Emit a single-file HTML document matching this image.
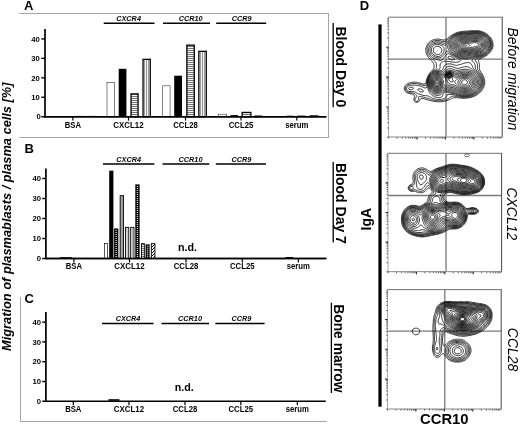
<!DOCTYPE html>
<html><head><meta charset="utf-8"><title>Figure</title>
<style>html,body{margin:0;padding:0;background:#fff;}svg{display:block;will-change:transform;}</style></head>
<body>
<svg width="520" height="425" viewBox="0 0 520 425" font-family="Liberation Sans, sans-serif" fill="#000">
<defs>
<pattern id="hs" width="2" height="2" patternUnits="userSpaceOnUse"><rect width="2" height="2" fill="#f4f4f4"/><rect y="0" width="2" height="1" fill="#777"/></pattern>
<pattern id="vs" width="2" height="2" patternUnits="userSpaceOnUse"><rect width="2" height="2" fill="#f2f2f2"/><rect x="0" width="0.8" height="2" fill="#888"/></pattern>
<pattern id="dd" width="2" height="2" patternUnits="userSpaceOnUse"><rect width="2" height="2" fill="#000"/><rect x="0.5" y="0.5" width="1" height="1" fill="#fff"/></pattern>
<pattern id="dl" width="2" height="2" patternUnits="userSpaceOnUse"><rect width="2" height="2" fill="#fff"/><rect x="0.5" y="0.5" width="1" height="1" fill="#000"/></pattern>
<pattern id="dg" width="3" height="3" patternUnits="userSpaceOnUse"><rect width="3" height="3" fill="#fff"/><path d="M0 3L3 0" stroke="#000" stroke-width="1"/></pattern>
</defs>
<rect width="520" height="425" fill="#fff"/>
<line x1="19.3" y1="13.5" x2="328.5" y2="13.5" stroke="#a6a6a6" stroke-width="1"/>
<line x1="328.5" y1="13" x2="328.5" y2="138" stroke="#a6a6a6" stroke-width="1"/>
<line x1="19.3" y1="137.5" x2="329" y2="137.5" stroke="#a6a6a6" stroke-width="1"/>
<line x1="20.5" y1="297" x2="20.5" y2="422" stroke="#a6a6a6" stroke-width="1"/>
<line x1="20" y1="421.5" x2="327" y2="421.5" stroke="#a6a6a6" stroke-width="1"/>
<text x="24" y="9.5" font-size="13" font-weight="bold" font-style="normal" text-anchor="start" >A</text>
<text x="24.6" y="153.4" font-size="13" font-weight="bold" font-style="normal" text-anchor="start" >B</text>
<text x="24.6" y="302.5" font-size="13" font-weight="bold" font-style="normal" text-anchor="start" >C</text>
<text x="359.8" y="10.3" font-size="13" font-weight="bold" font-style="normal" text-anchor="start" >D</text>
<text transform="translate(10.8,351) rotate(-90)" font-size="13" font-weight="bold" font-style="italic" text-anchor="start" textLength="268.5" lengthAdjust="spacingAndGlyphs">Migration of plasmablasts / plasma cells [%]</text>
<line x1="45" y1="29.1" x2="45" y2="117.45" stroke="#000" stroke-width="1.7"/>
<line x1="41.3" y1="116.7" x2="326.3" y2="116.7" stroke="#000" stroke-width="1.5"/>
<line x1="41.3" y1="97.25" x2="45" y2="97.25" stroke="#000" stroke-width="1.4"/>
<text x="39.8" y="99.95" font-size="7.7" font-weight="bold" font-style="normal" text-anchor="end" >10</text>
<line x1="41.3" y1="77.80000000000001" x2="45" y2="77.80000000000001" stroke="#000" stroke-width="1.4"/>
<text x="39.8" y="80.5" font-size="7.7" font-weight="bold" font-style="normal" text-anchor="end" >20</text>
<line x1="41.3" y1="58.35" x2="45" y2="58.35" stroke="#000" stroke-width="1.4"/>
<text x="39.8" y="61.05" font-size="7.7" font-weight="bold" font-style="normal" text-anchor="end" >30</text>
<line x1="41.3" y1="38.900000000000006" x2="45" y2="38.900000000000006" stroke="#000" stroke-width="1.4"/>
<text x="39.8" y="41.6" font-size="7.7" font-weight="bold" font-style="normal" text-anchor="end" >40</text>
<text x="40.8" y="119.4" font-size="7.7" font-weight="bold" font-style="normal" text-anchor="end" >0</text>
<line x1="72.9" y1="116.7" x2="72.9" y2="120.60000000000001" stroke="#000" stroke-width="1.2"/>
<text x="72.9" y="127.6" font-size="8.5" font-weight="bold" font-style="normal" text-anchor="middle" textLength="16.3" lengthAdjust="spacingAndGlyphs">BSA</text>
<line x1="128.5" y1="116.7" x2="128.5" y2="120.60000000000001" stroke="#000" stroke-width="1.2"/>
<text x="128.5" y="127.6" font-size="8.5" font-weight="bold" font-style="normal" text-anchor="middle" textLength="30.3" lengthAdjust="spacingAndGlyphs">CXCL12</text>
<line x1="185.5" y1="116.7" x2="185.5" y2="120.60000000000001" stroke="#000" stroke-width="1.2"/>
<text x="185.5" y="127.6" font-size="8.5" font-weight="bold" font-style="normal" text-anchor="middle" textLength="24.6" lengthAdjust="spacingAndGlyphs">CCL28</text>
<line x1="241" y1="116.7" x2="241" y2="120.60000000000001" stroke="#000" stroke-width="1.2"/>
<text x="241" y="127.6" font-size="8.5" font-weight="bold" font-style="normal" text-anchor="middle" textLength="24.6" lengthAdjust="spacingAndGlyphs">CCL25</text>
<line x1="296.8" y1="116.7" x2="296.8" y2="120.60000000000001" stroke="#000" stroke-width="1.2"/>
<text x="296.8" y="127.6" font-size="8.5" font-weight="bold" font-style="normal" text-anchor="middle" textLength="23.2" lengthAdjust="spacingAndGlyphs">serum</text>
<line x1="103.7" y1="23.3" x2="154.5" y2="23.3" stroke="#000" stroke-width="1.5"/>
<text x="128.6" y="21.0" font-size="7.3" font-weight="bold" font-style="italic" text-anchor="middle" >CXCR4</text>
<line x1="163" y1="23.3" x2="210" y2="23.3" stroke="#000" stroke-width="1.5"/>
<text x="190.6" y="21.0" font-size="7.3" font-weight="bold" font-style="italic" text-anchor="middle" >CCR10</text>
<line x1="216.2" y1="23.3" x2="266.2" y2="23.3" stroke="#000" stroke-width="1.5"/>
<text x="241.7" y="21.0" font-size="7.3" font-weight="bold" font-style="italic" text-anchor="middle" >CCR9</text>
<rect x="107.0" y="82.3" width="7.4" height="34.4" fill="#fff" stroke="#333" stroke-width="0.6"/>
<rect x="118.7" y="68.8" width="7.7" height="47.9" fill="#000"/>
<rect x="131.05" y="93.85000000000001" width="7.000000000000001" height="22.85" fill="url(#hs)" stroke="#000" stroke-width="1.3"/>
<rect x="143.05" y="59.35" width="7.2" height="57.35" fill="url(#vs)" stroke="#000" stroke-width="1.3"/>
<rect x="162.70000000000002" y="85.8" width="7.4" height="30.9" fill="#fff" stroke="#333" stroke-width="0.6"/>
<rect x="174.2" y="75.7" width="7.8" height="41.0" fill="#000"/>
<rect x="186.85" y="45.15" width="7.3999999999999995" height="71.55" fill="url(#hs)" stroke="#000" stroke-width="1.3"/>
<rect x="198.85" y="51.35" width="7.3999999999999995" height="65.35" fill="url(#vs)" stroke="#000" stroke-width="1.3"/>
<rect x="218.3" y="114.2" width="8.4" height="2.5" fill="#fff" stroke="#333" stroke-width="0.6"/>
<rect x="230.4" y="115.1" width="7.6" height="1.6" fill="#000"/>
<rect x="242.15" y="112.45" width="8.7" height="4.25" fill="url(#hs)" stroke="#000" stroke-width="1.3"/>
<rect x="254.95000000000002" y="116.15" width="6.7" height="0.55" fill="url(#vs)" stroke="#000" stroke-width="1.3"/>
<rect x="76" y="115.9" width="8" height="0.8" fill="#000"/>
<rect x="87" y="115.9" width="8" height="0.8" fill="#000"/>
<rect x="286.5" y="115.7" width="7" height="1.0" fill="#000"/>
<rect x="297.5" y="115.6" width="8" height="1.1" fill="#000"/>
<rect x="309.5" y="115.3" width="9" height="1.4" fill="#000"/>
<line x1="44.2" y1="116.7" x2="326.3" y2="116.7" stroke="#000" stroke-width="1.5"/>
<line x1="45.9" y1="168.5" x2="45.9" y2="259.25" stroke="#000" stroke-width="1.7"/>
<line x1="42.199999999999996" y1="258.5" x2="326.3" y2="258.5" stroke="#000" stroke-width="1.5"/>
<line x1="42.199999999999996" y1="238.5" x2="45.9" y2="238.5" stroke="#000" stroke-width="1.4"/>
<text x="41.0" y="241.2" font-size="7.7" font-weight="bold" font-style="normal" text-anchor="end" >10</text>
<line x1="42.199999999999996" y1="218.5" x2="45.9" y2="218.5" stroke="#000" stroke-width="1.4"/>
<text x="41.0" y="221.2" font-size="7.7" font-weight="bold" font-style="normal" text-anchor="end" >20</text>
<line x1="42.199999999999996" y1="198.5" x2="45.9" y2="198.5" stroke="#000" stroke-width="1.4"/>
<text x="41.0" y="201.2" font-size="7.7" font-weight="bold" font-style="normal" text-anchor="end" >30</text>
<line x1="42.199999999999996" y1="178.5" x2="45.9" y2="178.5" stroke="#000" stroke-width="1.4"/>
<text x="41.0" y="181.2" font-size="7.7" font-weight="bold" font-style="normal" text-anchor="end" >40</text>
<text x="41.0" y="261.2" font-size="7.7" font-weight="bold" font-style="normal" text-anchor="end" >0</text>
<line x1="73.9" y1="258.5" x2="73.9" y2="262.4" stroke="#000" stroke-width="1.2"/>
<text x="73.9" y="269.3" font-size="8.5" font-weight="bold" font-style="normal" text-anchor="middle" textLength="16.3" lengthAdjust="spacingAndGlyphs">BSA</text>
<line x1="129.5" y1="258.5" x2="129.5" y2="262.4" stroke="#000" stroke-width="1.2"/>
<text x="129.5" y="269.3" font-size="8.5" font-weight="bold" font-style="normal" text-anchor="middle" textLength="30.3" lengthAdjust="spacingAndGlyphs">CXCL12</text>
<line x1="186" y1="258.5" x2="186" y2="262.4" stroke="#000" stroke-width="1.2"/>
<text x="186" y="269.3" font-size="8.5" font-weight="bold" font-style="normal" text-anchor="middle" textLength="24.6" lengthAdjust="spacingAndGlyphs">CCL28</text>
<line x1="242.3" y1="258.5" x2="242.3" y2="262.4" stroke="#000" stroke-width="1.2"/>
<text x="242.3" y="269.3" font-size="8.5" font-weight="bold" font-style="normal" text-anchor="middle" textLength="24.6" lengthAdjust="spacingAndGlyphs">CCL25</text>
<line x1="298.3" y1="258.5" x2="298.3" y2="262.4" stroke="#000" stroke-width="1.2"/>
<text x="298.3" y="269.3" font-size="8.5" font-weight="bold" font-style="normal" text-anchor="middle" textLength="23.2" lengthAdjust="spacingAndGlyphs">serum</text>
<line x1="103" y1="164" x2="154.3" y2="164" stroke="#000" stroke-width="1.5"/>
<text x="128.7" y="161.7" font-size="7.3" font-weight="bold" font-style="italic" text-anchor="middle" >CXCR4</text>
<line x1="162.5" y1="164" x2="209.3" y2="164" stroke="#000" stroke-width="1.5"/>
<text x="190.5" y="161.7" font-size="7.3" font-weight="bold" font-style="italic" text-anchor="middle" >CCR10</text>
<line x1="215.8" y1="164" x2="266" y2="164" stroke="#000" stroke-width="1.5"/>
<text x="241.5" y="161.7" font-size="7.3" font-weight="bold" font-style="italic" text-anchor="middle" >CCR9</text>
<rect x="104.35" y="243.54999999999998" width="3.0" height="14.95" fill="#fff" stroke="#111" stroke-width="0.7"/>
<rect x="109.2" y="170.7" width="4.2" height="87.8" fill="#000"/>
<rect x="114.1" y="228.5" width="4.2" height="30.0" fill="#000"/>
<line x1="116.2" y1="230.0" x2="116.2" y2="258.0" stroke="#e8e8e8" stroke-width="1.3" stroke-dasharray="1 1"/>
<rect x="120.15" y="195.64999999999998" width="3.4" height="62.85" fill="#a0a0a0" stroke="#000" stroke-width="0.9"/>
<rect x="125.45" y="227.35" width="3.3000000000000003" height="31.15" fill="#fff" stroke="#000" stroke-width="0.9"/>
<line x1="127.1" y1="228.4" x2="127.1" y2="258.0" stroke="#777" stroke-width="1.1" stroke-dasharray="1.4 0.6"/>
<rect x="130.64999999999998" y="227.35" width="3.3000000000000003" height="31.15" fill="#fff" stroke="#000" stroke-width="0.9"/>
<line x1="132.3" y1="228.4" x2="132.3" y2="258.0" stroke="#555" stroke-width="1.2" stroke-dasharray="1 1"/>
<rect x="135.3" y="184.4" width="4.3" height="74.1" fill="#000"/>
<line x1="137.45" y1="185.9" x2="137.45" y2="258.0" stroke="#e8e8e8" stroke-width="1.3" stroke-dasharray="1 1"/>
<rect x="141.45" y="243.64999999999998" width="2.9" height="14.85" fill="url(#hs)" stroke="#000" stroke-width="0.9"/>
<rect x="145.6" y="244.3" width="4.0" height="14.2" fill="#000"/>
<line x1="147.6" y1="245.8" x2="147.6" y2="258.0" stroke="#e8e8e8" stroke-width="1.3" stroke-dasharray="1 1"/>
<rect x="151.35" y="243.64999999999998" width="3.6" height="14.85" fill="url(#dg)" stroke="#000" stroke-width="0.9"/>
<rect x="285.5" y="257" width="7.5" height="1.2" fill="#000"/><rect x="60" y="257.2" width="12" height="0.8" fill="#000"/>
<line x1="45.1" y1="258.5" x2="326.3" y2="258.5" stroke="#000" stroke-width="1.5"/>
<text x="187.6" y="250.7" font-size="10.7" font-weight="bold" font-style="normal" text-anchor="middle" >n.d.</text>
<line x1="45.9" y1="312.1" x2="45.9" y2="402.05" stroke="#000" stroke-width="1.7"/>
<line x1="42.199999999999996" y1="401.3" x2="325.8" y2="401.3" stroke="#000" stroke-width="1.5"/>
<line x1="42.199999999999996" y1="381.5" x2="45.9" y2="381.5" stroke="#000" stroke-width="1.4"/>
<text x="41.0" y="384.2" font-size="7.7" font-weight="bold" font-style="normal" text-anchor="end" >10</text>
<line x1="42.199999999999996" y1="361.7" x2="45.9" y2="361.7" stroke="#000" stroke-width="1.4"/>
<text x="41.0" y="364.4" font-size="7.7" font-weight="bold" font-style="normal" text-anchor="end" >20</text>
<line x1="42.199999999999996" y1="341.90000000000003" x2="45.9" y2="341.90000000000003" stroke="#000" stroke-width="1.4"/>
<text x="41.0" y="344.6" font-size="7.7" font-weight="bold" font-style="normal" text-anchor="end" >30</text>
<line x1="42.199999999999996" y1="322.1" x2="45.9" y2="322.1" stroke="#000" stroke-width="1.4"/>
<text x="41.0" y="324.8" font-size="7.7" font-weight="bold" font-style="normal" text-anchor="end" >40</text>
<text x="41.0" y="404.0" font-size="7.7" font-weight="bold" font-style="normal" text-anchor="end" >0</text>
<line x1="73.3" y1="401.3" x2="73.3" y2="405.2" stroke="#000" stroke-width="1.2"/>
<text x="73.3" y="412" font-size="8.5" font-weight="bold" font-style="normal" text-anchor="middle" textLength="16.3" lengthAdjust="spacingAndGlyphs">BSA</text>
<line x1="129" y1="401.3" x2="129" y2="405.2" stroke="#000" stroke-width="1.2"/>
<text x="129" y="412" font-size="8.5" font-weight="bold" font-style="normal" text-anchor="middle" textLength="30.3" lengthAdjust="spacingAndGlyphs">CXCL12</text>
<line x1="185" y1="401.3" x2="185" y2="405.2" stroke="#000" stroke-width="1.2"/>
<text x="185" y="412" font-size="8.5" font-weight="bold" font-style="normal" text-anchor="middle" textLength="24.6" lengthAdjust="spacingAndGlyphs">CCL28</text>
<line x1="240.8" y1="401.3" x2="240.8" y2="405.2" stroke="#000" stroke-width="1.2"/>
<text x="240.8" y="412" font-size="8.5" font-weight="bold" font-style="normal" text-anchor="middle" textLength="24.6" lengthAdjust="spacingAndGlyphs">CCL25</text>
<line x1="297.3" y1="401.3" x2="297.3" y2="405.2" stroke="#000" stroke-width="1.2"/>
<text x="297.3" y="412" font-size="8.5" font-weight="bold" font-style="normal" text-anchor="middle" textLength="23.2" lengthAdjust="spacingAndGlyphs">serum</text>
<line x1="102" y1="323.5" x2="153.5" y2="323.5" stroke="#000" stroke-width="1.5"/>
<text x="128" y="321.2" font-size="7.3" font-weight="bold" font-style="italic" text-anchor="middle" >CXCR4</text>
<line x1="161.5" y1="323.5" x2="209" y2="323.5" stroke="#000" stroke-width="1.5"/>
<text x="190" y="321.2" font-size="7.3" font-weight="bold" font-style="italic" text-anchor="middle" >CCR10</text>
<line x1="215.4" y1="323.5" x2="264.6" y2="323.5" stroke="#000" stroke-width="1.5"/>
<text x="241.4" y="321.2" font-size="7.3" font-weight="bold" font-style="italic" text-anchor="middle" >CCR9</text>
<rect x="108.5" y="399.2" width="11" height="1.6" fill="#000"/>
<text x="184.2" y="390.6" font-size="10.7" font-weight="bold" font-style="normal" text-anchor="middle" >n.d.</text>
<text transform="translate(335.8,26.5) rotate(90)" font-size="14" font-weight="bold" font-style="normal" text-anchor="start" >Blood Day 0</text>
<line x1="333.2" y1="23" x2="333.2" y2="107.3" stroke="#000" stroke-width="1.3"/>
<text transform="translate(335.8,163) rotate(90)" font-size="14" font-weight="bold" font-style="normal" text-anchor="start" >Blood Day 7</text>
<line x1="333.2" y1="162" x2="333.2" y2="242.5" stroke="#000" stroke-width="1.3"/>
<text transform="translate(334.3,304.3) rotate(90)" font-size="13.8" font-weight="bold" font-style="normal" text-anchor="start" >Bone marrow</text>
<line x1="331.4" y1="302.7" x2="331.4" y2="393" stroke="#000" stroke-width="1.3"/>
<text transform="translate(371,230.5) rotate(-90)" font-size="14" font-weight="bold" font-style="normal" text-anchor="start" >IgA</text>
<rect x="378.4" y="24.4" width="3.2" height="382.3" fill="#000"/>
<text x="444.3" y="423.9" font-size="14.8" font-weight="bold" font-style="normal" text-anchor="middle" >CCR10</text>
<text transform="translate(507.8,27.5) rotate(90)" font-size="14" font-weight="normal" font-style="italic" text-anchor="start" >Before migration</text>
<text transform="translate(507.3,187.4) rotate(90)" font-size="14" font-weight="normal" font-style="italic" text-anchor="start" >CXCL12</text>
<text transform="translate(508,327.8) rotate(90)" font-size="14" font-weight="normal" font-style="italic" text-anchor="start" >CCL28</text>
<line x1="446" y1="17.2" x2="446" y2="137" stroke="#787878" stroke-width="1.3"/>
<line x1="388.6" y1="59.2" x2="502.2" y2="59.2" stroke="#787878" stroke-width="1.3"/>
<line x1="388.1" y1="17.2" x2="502.7" y2="17.2" stroke="#707070" stroke-width="1"/>
<line x1="502.2" y1="17.2" x2="502.2" y2="137.5" stroke="#484848" stroke-width="1"/>
<line x1="388.1" y1="137" x2="502.2" y2="137" stroke="#888" stroke-width="1"/>
<line x1="388.6" y1="17.2" x2="388.6" y2="137" stroke="#a8a8a8" stroke-width="1"/>
<path d="M388.6 137v1.6M388.6 137.0h-1.5M397.1 137v1.6M388.6 128.0h-1.5M402.2 137v1.6M388.6 122.7h-1.5M405.7 137v1.6M388.6 119.0h-1.5M408.5 137v1.6M388.6 116.1h-1.5M410.7 137v1.6M388.6 113.7h-1.5M412.6 137v1.6M388.6 111.7h-1.5M414.2 137v1.6M388.6 110.0h-1.5M415.7 137v1.6M388.6 108.4h-1.5M425.5 137v1.6M388.6 98.0h-1.5M430.6 137v1.6M388.6 92.8h-1.5M434.1 137v1.6M388.6 89.0h-1.5M436.9 137v1.6M388.6 86.1h-1.5M439.1 137v1.6M388.6 83.7h-1.5M441.0 137v1.6M388.6 81.7h-1.5M442.6 137v1.6M388.6 80.0h-1.5M444.1 137v1.6M388.6 78.5h-1.5M453.9 137v1.6M388.6 68.1h-1.5M459.0 137v1.6M388.6 62.8h-1.5M462.5 137v1.6M388.6 59.1h-1.5M465.3 137v1.6M388.6 56.2h-1.5M467.5 137v1.6M388.6 53.8h-1.5M469.4 137v1.6M388.6 51.8h-1.5M471.0 137v1.6M388.6 50.1h-1.5M472.5 137v1.6M388.6 48.5h-1.5M482.3 137v1.6M388.6 38.1h-1.5M487.4 137v1.6M388.6 32.9h-1.5M490.9 137v1.6M388.6 29.1h-1.5M493.7 137v1.6M388.6 26.2h-1.5M495.9 137v1.6M388.6 23.8h-1.5M497.8 137v1.6M388.6 21.8h-1.5M499.4 137v1.6M388.6 20.1h-1.5M500.9 137v1.6M388.6 18.6h-1.5" stroke="#222" stroke-width="0.65" fill="none"/>
<path d="M417.0 137v2.6M388.6 107.0h-2.4M445.4 137v2.6M388.6 77.1h-2.4M473.8 137v2.6M388.6 47.2h-2.4" stroke="#222" stroke-width="1.1" fill="none"/>
<path d="M473.8 30.7L474.6 30.7L475.6 30.7L476.6 30.7L477.1 30.7L478.1 30.8L479.1 30.9L480.1 31.1L480.6 31.2L481.6 31.5L482.3 31.7L483.1 32.0L483.6 32.2L484.6 32.7L485.1 33.0L485.6 33.3L486.3 33.7L487.0 34.2L487.6 34.6L488.1 35.0L488.6 35.4L489.1 35.9L489.6 36.4L490.1 37.0L490.6 37.6L491.0 38.2L491.3 38.7L491.6 39.2L492.1 40.2L492.3 40.7L492.6 41.7L492.7 42.2L492.9 43.2L493.0 44.2L493.1 45.2L493.0 46.2L492.8 47.2L492.6 48.0L492.4 48.7L492.1 49.3L491.6 50.2L491.3 50.7L491.0 51.2L490.6 51.7L490.1 52.3L489.6 52.9L489.1 53.4L488.6 53.9L488.1 54.3L487.6 54.7L487.0 55.2L486.3 55.7L485.6 56.1L485.1 56.4L484.6 56.7L483.6 57.2L483.1 57.4L482.5 57.7L481.6 58.1L481.1 58.3L480.4 58.7L479.6 59.2L479.1 59.5L478.6 60.1L478.5 60.7L478.6 61.4L478.9 62.2L479.1 62.8L479.3 63.7L479.5 64.7L479.5 65.7L479.4 66.7L479.4 67.7L479.4 68.7L479.6 69.7L479.8 70.2L480.1 70.8L480.6 71.7L481.0 72.2L481.3 72.7L481.6 73.2L482.1 73.9L482.6 74.7L482.9 75.2L483.1 75.7L483.6 76.7L483.8 77.2L484.1 78.1L484.3 78.7L484.5 79.7L484.6 80.3L484.7 81.2L484.8 82.2L484.7 83.2L484.6 84.0L484.5 84.7L484.2 85.7L484.1 86.2L483.7 87.2L483.5 87.7L483.1 88.4L482.6 89.2L482.3 89.7L482.0 90.2L481.6 90.7L481.1 91.4L480.6 91.9L480.1 92.4L479.6 92.9L479.1 93.3L478.6 93.7L477.9 94.2L477.2 94.7L476.6 95.1L476.1 95.4L475.4 95.7L474.6 96.1L474.1 96.3L473.1 96.7L472.6 96.9L471.7 97.2L471.1 97.4L470.1 97.6L469.6 97.7L468.6 97.9L467.6 98.0L466.6 98.1L465.8 98.2L465.1 98.2L464.1 98.3L463.1 98.3L462.1 98.2L461.5 98.2L460.6 98.1L459.6 98.0L458.6 97.9L457.6 97.8L456.9 97.7L456.1 97.6L455.1 97.6L454.1 97.7L453.6 97.8L452.6 98.1L452.1 98.4L451.5 98.7L450.6 99.1L450.1 99.4L449.4 99.7L448.6 100.0L448.1 100.2L447.1 100.5L446.6 100.7L445.6 101.0L444.6 101.2L444.1 101.3L443.1 101.5L442.1 101.6L441.4 101.7L440.6 101.8L439.6 101.8L438.6 101.8L437.6 101.7L437.1 101.7L436.1 101.6L435.1 101.5L434.1 101.4L433.1 101.2L432.6 101.1L431.6 100.9L430.7 100.7L430.1 100.5L429.1 100.3L428.6 100.1L427.6 99.9L427.1 99.7L426.1 99.4L425.6 99.2L424.6 98.9L423.7 98.7L423.1 98.6L422.1 98.4L421.1 98.5L420.6 98.8L420.1 99.5L419.8 100.2L419.5 100.7L419.1 101.2L418.6 101.7L417.8 102.2L417.1 102.4L416.1 102.4L415.5 102.2L414.8 101.7L414.4 101.2L414.1 100.6L413.9 99.7L414.0 98.7L414.1 98.2L414.4 97.2L414.6 96.2L414.1 95.2L413.6 94.8L413.1 94.5L412.4 94.2L411.6 94.0L410.6 93.8L410.1 93.7L409.1 93.5L408.2 93.2L407.6 93.0L407.0 92.7L406.1 92.2L405.6 91.7L405.1 91.2L404.8 90.7L404.6 90.2L404.3 89.2L404.2 88.2L404.4 87.2L404.6 86.7L405.1 85.8L405.6 85.2L406.1 84.7L406.6 84.3L407.1 83.9L407.6 83.7L408.6 83.2L409.1 83.0L410.1 82.7L410.6 82.6L411.6 82.4L412.6 82.2L413.1 82.2L414.1 82.1L415.1 82.1L415.8 82.2L416.6 82.3L417.6 82.5L418.4 82.7L419.1 82.9L420.1 83.1L420.6 83.3L421.6 83.5L422.1 83.7L423.1 84.0L424.1 84.1L425.1 83.8L425.6 83.2L425.8 82.7L426.1 81.9L426.2 81.2L426.5 80.2L426.6 79.7L426.9 78.7L427.1 78.2L427.5 77.2L427.7 76.7L428.1 75.8L428.4 75.2L428.7 74.7L429.1 74.0L429.6 73.3L430.1 72.7L430.5 72.2L430.9 71.7L431.4 71.2L431.9 70.7L432.3 70.2L432.8 69.7L433.2 69.2L433.6 68.6L433.9 67.7L434.1 66.7L434.0 65.7L433.9 64.7L433.6 63.8L433.3 63.2L433.0 62.7L432.6 62.1L432.1 61.5L431.6 60.9L431.1 60.4L430.6 59.8L430.1 59.3L429.6 58.7L429.1 58.2L428.7 57.7L428.3 57.2L427.9 56.7L427.6 56.2L427.1 55.3L426.8 54.7L426.6 54.1L426.3 53.2L426.1 52.4L425.9 51.7L425.8 50.7L425.8 49.7L425.8 48.7L426.0 47.7L426.2 47.2L426.6 46.2L426.8 45.7L427.1 45.0L427.6 44.2L427.9 43.7L428.3 43.2L428.7 42.7L429.3 42.2L429.9 41.7L430.5 41.2L431.1 40.8L431.6 40.5L432.3 40.2L433.1 39.9L433.9 39.7L434.6 39.5L435.6 39.3L436.4 39.2L437.1 39.1L438.1 39.1L439.1 39.2L439.6 39.3L440.6 39.5L441.6 39.7L442.1 39.8L443.1 40.0L444.1 40.0L445.1 39.8L445.6 39.7L446.5 39.2L447.1 38.8L447.6 38.4L448.1 38.0L448.6 37.5L449.1 37.1L449.6 36.7L450.2 36.2L451.0 35.7L451.6 35.3L452.1 35.0L452.6 34.7L453.5 34.2L454.1 33.8L454.6 33.6L455.5 33.2L456.1 32.9L456.7 32.7L457.6 32.4L458.3 32.2L459.1 32.0L460.1 31.8L461.0 31.7L461.6 31.6L462.6 31.4L463.6 31.3L464.6 31.2L465.2 31.2L466.1 31.1L467.1 31.1L468.1 31.0L469.1 30.9L470.1 30.8L471.1 30.8L472.1 30.8L473.1 30.7L473.8 30.7ZM469.1 31.7L470.1 31.6L471.1 31.6L472.1 31.5L473.1 31.4L474.1 31.4L475.1 31.4L476.1 31.3L477.1 31.4L478.1 31.4L479.1 31.6L479.6 31.7L480.6 31.9L481.6 32.2L482.1 32.4L482.9 32.7L483.6 33.0L484.1 33.2L484.9 33.7L485.6 34.1L486.1 34.4L486.6 34.8L487.2 35.2L487.8 35.7L488.3 36.2L488.8 36.7L489.3 37.2L489.7 37.7L490.1 38.2L490.6 39.0L491.0 39.7L491.2 40.2L491.6 41.2L491.7 41.7L491.9 42.7L492.1 43.7L492.2 44.2L492.2 45.2L492.1 46.2L492.0 46.7L491.8 47.7L491.6 48.3L491.2 49.2L491.0 49.7L490.6 50.3L490.1 51.0L489.6 51.7L489.2 52.2L488.7 52.7L488.2 53.2L487.6 53.7L487.1 54.1L486.6 54.5L486.1 54.9L485.6 55.2L484.8 55.7L484.1 56.1L483.6 56.3L482.7 56.7L482.1 57.0L481.4 57.2L480.6 57.5L480.0 57.7L479.1 58.0L478.5 58.2L477.6 58.5L477.1 58.7L476.1 59.2L475.6 59.7L475.4 60.2L475.6 60.8L476.1 61.7L476.4 62.2L476.7 62.7L477.1 63.4L477.4 64.2L477.5 65.2L477.5 66.2L477.4 67.2L477.4 68.2L477.6 69.2L477.8 69.7L478.1 70.3L478.6 71.0L479.1 71.6L479.6 72.2L480.0 72.7L480.4 73.2L480.7 73.7L481.1 74.2L481.6 75.0L482.0 75.7L482.3 76.2L482.6 76.9L482.9 77.7L483.1 78.2L483.4 79.2L483.6 80.2L483.7 80.7L483.7 81.7L483.7 82.7L483.6 83.7L483.6 84.2L483.3 85.2L483.1 85.9L482.8 86.7L482.6 87.2L482.1 88.1L481.7 88.7L481.4 89.2L481.1 89.7L480.6 90.4L480.1 91.0L479.6 91.6L479.1 92.1L478.6 92.5L478.1 93.0L477.6 93.3L477.1 93.7L476.3 94.2L475.6 94.6L475.1 94.9L474.4 95.2L473.6 95.6L473.1 95.8L472.1 96.2L471.6 96.4L470.6 96.7L470.1 96.8L469.1 97.0L468.1 97.2L467.6 97.2L466.6 97.3L465.6 97.4L464.6 97.5L463.6 97.5L462.6 97.4L461.6 97.4L460.6 97.3L460.1 97.2L459.1 97.0L458.1 96.9L457.4 96.7L456.6 96.5L455.6 96.3L455.0 96.2L454.1 96.1L453.1 96.1L452.5 96.2L451.6 96.4L451.0 96.7L450.2 97.2L449.6 97.7L449.1 98.0L448.6 98.4L448.0 98.7L447.1 99.2L446.6 99.4L445.8 99.7L445.1 99.9L444.1 100.2L443.6 100.3L442.6 100.5L441.6 100.6L441.1 100.7L440.1 100.8L439.1 100.8L438.1 100.7L437.6 100.7L436.6 100.6L435.6 100.5L434.6 100.3L433.9 100.2L433.1 100.0L432.1 99.8L431.6 99.7L430.6 99.3L430.1 99.2L429.1 98.8L428.6 98.7L427.6 98.3L427.1 98.2L426.1 97.8L425.6 97.7L424.6 97.5L423.6 97.2L423.1 97.1L422.1 96.8L421.6 96.7L420.6 96.5L419.6 96.5L418.9 96.7L418.5 97.2L418.6 98.0L418.7 98.7L418.6 99.5L418.4 100.2L418.1 100.7L417.4 101.2L416.6 101.4L415.9 101.2L415.4 100.7L415.1 100.2L415.0 99.2L415.2 98.7L415.6 97.9L416.1 97.3L416.6 96.8L416.9 96.2L416.6 95.5L416.1 94.9L415.6 94.4L415.1 94.0L414.5 93.7L413.6 93.3L413.1 93.1L412.1 93.0L411.1 92.8L410.1 92.7L409.6 92.6L408.6 92.4L408.1 92.2L407.1 91.7L406.6 91.3L406.1 90.8L405.7 90.2L405.5 89.7L405.3 88.7L405.4 87.7L405.6 87.1L406.1 86.3L406.6 85.7L407.1 85.3L407.6 85.0L408.1 84.7L409.1 84.3L409.6 84.1L410.6 83.9L411.6 83.7L412.1 83.6L413.1 83.5L414.1 83.5L415.1 83.5L416.1 83.6L416.9 83.7L417.6 83.8L418.6 84.1L419.1 84.2L420.1 84.4L421.1 84.7L421.6 84.9L422.6 85.2L423.1 85.4L424.1 85.6L425.1 85.6L425.7 85.2L426.1 84.5L426.3 83.7L426.6 82.7L426.7 82.2L426.8 81.2L427.0 80.2L427.2 79.7L427.4 78.7L427.6 78.2L428.0 77.2L428.2 76.7L428.6 76.0L429.0 75.2L429.3 74.7L429.7 74.2L430.1 73.6L430.6 73.0L431.1 72.5L431.6 72.0L432.1 71.5L432.6 71.1L433.2 70.7L433.9 70.2L434.5 69.7L435.1 69.3L435.6 68.8L436.1 68.3L436.4 67.7L436.5 66.7L436.5 65.7L436.4 64.7L436.3 63.7L436.1 63.0L435.7 62.2L435.4 61.7L434.9 61.2L434.3 60.7L433.6 60.2L433.1 59.9L432.6 59.5L432.1 59.1L431.6 58.7L431.0 58.2L430.5 57.7L430.1 57.2L429.6 56.7L429.1 56.1L428.6 55.3L428.3 54.7L428.0 54.2L427.6 53.2L427.5 52.7L427.2 51.7L427.1 50.7L427.1 50.2L427.1 49.7L427.2 48.7L427.4 47.7L427.6 47.2L428.0 46.2L428.2 45.7L428.6 45.0L429.1 44.2L429.5 43.7L430.1 43.2L430.6 42.7L431.1 42.3L431.6 42.0L432.1 41.7L433.1 41.2L433.6 41.1L434.6 40.8L435.1 40.7L436.1 40.5L437.1 40.4L438.1 40.4L439.1 40.5L439.9 40.7L440.6 40.9L441.6 41.1L442.1 41.2L443.1 41.4L444.1 41.5L445.1 41.4L445.6 41.2L446.4 40.7L447.1 40.2L447.6 39.7L448.1 39.2L448.6 38.7L449.1 38.2L449.6 37.8L450.1 37.3L450.6 36.9L451.1 36.5L451.6 36.2L452.4 35.7L453.1 35.2L453.6 34.9L454.1 34.7L455.0 34.2L455.6 33.9L456.1 33.7L457.1 33.3L457.6 33.1L458.6 32.8L459.3 32.7L460.1 32.6L461.1 32.4L462.1 32.2L462.6 32.2L463.6 32.0L464.6 32.0L465.6 31.9L466.6 31.9L467.6 31.8L468.6 31.7L469.1 31.7ZM449.1 56.2L448.6 56.4L448.1 57.1L448.1 57.7L448.3 58.2L448.9 58.7L449.6 59.0L450.1 59.2L451.1 59.5L451.7 59.7L452.6 59.8L453.6 59.8L454.1 59.7L454.7 59.2L454.6 58.7L454.0 58.2L453.3 57.7L452.6 57.4L452.1 57.1L451.3 56.7L450.6 56.4L449.7 56.2L449.1 56.2ZM472.5 32.2L473.1 32.2L474.1 32.1L475.1 32.0L476.1 32.0L477.1 32.0L478.1 32.1L478.7 32.2L479.6 32.4L480.6 32.6L481.1 32.7L482.1 33.1L482.6 33.3L483.5 33.7L484.1 34.0L484.6 34.3L485.3 34.7L486.0 35.2L486.6 35.6L487.1 36.0L487.6 36.5L488.1 36.9L488.6 37.5L489.1 38.1L489.5 38.7L489.8 39.2L490.1 39.7L490.6 40.7L490.7 41.2L491.0 42.2L491.1 42.7L491.3 43.7L491.4 44.7L491.3 45.7L491.2 46.7L491.1 47.2L490.8 48.2L490.6 48.7L490.1 49.6L489.7 50.2L489.4 50.7L489.0 51.2L488.6 51.7L488.1 52.2L487.6 52.7L487.1 53.2L486.5 53.7L485.8 54.2L485.1 54.6L484.6 54.9L484.1 55.2L483.1 55.7L482.6 55.9L481.9 56.2L481.1 56.5L480.3 56.7L479.6 56.9L478.6 57.2L478.1 57.3L477.1 57.5L476.4 57.7L475.6 57.9L474.6 58.2L474.1 58.4L473.4 58.7L472.6 59.2L472.2 59.7L472.0 60.2L472.2 60.7L472.6 61.4L473.1 62.0L473.6 62.5L474.1 63.0L474.6 63.7L474.9 64.2L475.1 64.9L475.2 65.7L475.3 66.7L475.4 67.7L475.6 68.7L475.8 69.2L476.1 69.8L476.6 70.5L477.1 71.1L477.6 71.6L478.1 72.1L478.6 72.6L479.1 73.2L479.5 73.7L479.9 74.2L480.3 74.7L480.6 75.2L481.1 76.0L481.5 76.7L481.7 77.2L482.1 78.2L482.3 78.7L482.5 79.7L482.6 80.2L482.8 81.2L482.8 82.2L482.7 83.2L482.6 83.9L482.4 84.7L482.1 85.7L481.9 86.2L481.6 87.0L481.2 87.7L480.9 88.2L480.6 88.7L480.1 89.4L479.6 90.1L479.2 90.7L478.7 91.2L478.2 91.7L477.6 92.2L477.1 92.6L476.6 93.0L476.1 93.4L475.5 93.7L474.6 94.2L474.1 94.5L473.6 94.7L472.6 95.2L472.1 95.4L471.2 95.7L470.6 95.9L469.6 96.1L469.1 96.2L468.1 96.4L467.1 96.5L466.1 96.6L465.1 96.6L464.1 96.7L463.1 96.6L462.1 96.6L461.1 96.5L460.1 96.3L459.4 96.2L458.6 96.0L457.6 95.8L457.1 95.6L456.1 95.3L455.6 95.2L454.6 94.9L453.8 94.7L453.1 94.6L452.1 94.5L451.1 94.5L450.1 94.4L449.1 94.4L448.1 94.4L447.1 94.7L446.9 95.2L446.7 96.2L446.5 96.7L446.1 97.3L445.6 97.7L444.8 98.2L444.1 98.5L443.6 98.7L442.6 99.1L442.1 99.2L441.1 99.4L440.1 99.5L439.1 99.5L438.1 99.5L437.1 99.3L436.4 99.2L435.6 99.0L434.6 98.9L433.9 98.7L433.1 98.5L432.4 98.2L431.6 97.8L431.1 97.6L430.4 97.2L429.6 96.8L429.1 96.5L428.4 96.2L427.6 95.9L426.6 95.7L425.7 95.7L425.1 95.7L424.1 95.6L423.1 95.4L422.5 95.2L421.6 94.9L421.0 94.7L420.1 94.4L419.4 94.2L418.6 94.0L418.0 93.7L417.1 93.2L416.6 92.9L416.1 92.6L415.4 92.2L414.6 91.9L413.9 91.7L413.1 91.6L412.1 91.6L411.1 91.6L410.1 91.5L409.1 91.3L408.6 91.2L407.7 90.7L407.2 90.2L406.8 89.7L406.6 89.1L406.6 88.2L406.7 87.7L407.1 87.0L407.6 86.5L408.1 86.2L409.1 85.7L409.6 85.5L410.6 85.3L411.1 85.2L412.1 85.1L413.1 85.1L414.1 85.1L415.1 85.1L415.8 85.2L416.6 85.3L417.6 85.5L418.5 85.7L419.1 85.8L420.1 86.1L420.6 86.2L421.6 86.6L422.1 86.8L423.1 87.2L423.6 87.4L424.4 87.7L425.1 88.0L426.1 88.0L426.5 87.2L426.6 86.7L426.8 85.7L426.9 84.7L427.0 83.7L427.1 83.2L427.2 82.2L427.3 81.2L427.5 80.2L427.7 79.7L428.0 78.7L428.1 78.2L428.6 77.2L428.8 76.7L429.1 76.1L429.6 75.3L430.0 74.7L430.3 74.2L430.8 73.7L431.2 73.2L431.7 72.7L432.3 72.2L433.0 71.7L433.6 71.3L434.1 71.0L434.8 70.7L435.6 70.3L436.1 70.2L437.1 69.8L437.7 69.7L438.6 69.4L439.2 69.2L439.8 68.7L440.1 67.9L440.1 67.2L440.1 66.7L440.0 65.7L440.1 65.0L440.3 64.2L440.6 63.5L441.1 62.9L441.6 62.4L442.1 62.0L442.7 61.7L443.6 61.3L444.6 61.2L445.1 61.2L445.7 61.2L446.6 61.3L447.6 61.4L448.6 61.5L449.6 61.6L450.1 61.7L451.1 61.9L452.1 62.0L453.1 62.2L453.6 62.2L454.6 62.3L455.6 62.3L456.6 62.3L457.1 62.2L458.1 62.0L459.0 61.7L459.6 61.5L460.2 61.2L460.7 60.7L460.6 60.1L460.1 59.6L459.4 59.2L458.6 58.8L458.1 58.5L457.5 58.2L456.6 57.8L456.1 57.6L455.3 57.2L454.6 56.9L454.1 56.6L453.4 56.2L452.6 55.8L452.1 55.5L451.6 55.2L450.8 54.7L450.1 54.3L449.6 54.1L448.6 53.7L448.1 53.7L447.6 53.8L446.8 54.2L446.3 54.7L445.8 55.2L445.4 55.7L445.0 56.2L444.6 56.7L444.1 57.4L443.6 58.1L443.2 58.7L442.8 59.2L442.3 59.7L441.6 60.2L441.1 60.3L440.1 60.3L439.1 60.2L438.6 60.1L437.6 59.8L437.1 59.7L436.1 59.3L435.6 59.1L434.6 58.7L434.1 58.5L433.6 58.2L432.8 57.7L432.2 57.2L431.6 56.7L431.1 56.2L430.7 55.7L430.2 55.2L429.9 54.7L429.6 54.2L429.1 53.2L428.9 52.7L428.7 51.7L428.6 51.2L428.5 50.2L428.6 49.2L428.7 48.7L428.9 47.7L429.1 47.1L429.5 46.2L429.7 45.7L430.1 45.1L430.6 44.5L431.1 44.0L431.6 43.6L432.2 43.2L433.1 42.7L433.6 42.5L434.5 42.2L435.1 42.0L436.1 41.9L437.1 41.8L438.1 41.8L439.1 42.0L440.1 42.2L440.6 42.3L441.6 42.5L442.1 42.7L443.1 43.0L444.1 43.2L444.6 43.2L445.1 43.2L446.1 42.7L446.6 42.3L447.1 41.8L447.6 41.2L448.0 40.7L448.4 40.2L448.9 39.7L449.3 39.2L449.8 38.7L450.3 38.2L450.9 37.7L451.5 37.2L452.1 36.7L452.6 36.4L453.1 36.1L453.7 35.7L454.5 35.2L455.1 34.9L455.6 34.7L456.6 34.2L457.1 34.0L458.1 33.7L458.6 33.6L459.6 33.3L460.5 33.2L461.1 33.1L462.1 32.9L463.1 32.8L464.1 32.7L464.6 32.7L465.6 32.6L466.6 32.6L467.6 32.6L468.6 32.5L469.6 32.4L470.6 32.3L471.6 32.3L472.5 32.2ZM474.5 32.7L475.1 32.7L476.1 32.6L477.1 32.7L477.6 32.7L478.6 32.8L479.6 33.0L480.4 33.2L481.1 33.4L481.9 33.7L482.6 34.0L483.1 34.2L484.0 34.7L484.6 35.0L485.1 35.3L485.7 35.7L486.3 36.2L486.9 36.7L487.4 37.2L487.9 37.7L488.3 38.2L488.7 38.7L489.1 39.3L489.6 40.2L489.8 40.7L490.1 41.6L490.3 42.2L490.5 43.2L490.6 44.2L490.6 45.2L490.5 46.2L490.3 47.2L490.1 47.8L489.7 48.7L489.5 49.2L489.1 49.8L488.6 50.5L488.1 51.2L487.6 51.7L487.1 52.2L486.6 52.7L486.1 53.1L485.6 53.5L485.1 53.8L484.5 54.2L483.6 54.7L483.1 55.0L482.5 55.2L481.6 55.6L481.1 55.7L480.1 56.0L479.3 56.2L478.6 56.4L477.6 56.6L477.1 56.7L476.1 56.9L475.1 57.1L474.5 57.2L473.6 57.4L472.6 57.7L472.1 57.9L471.1 58.2L470.6 58.3L469.6 58.6L469.1 58.7L468.1 58.9L467.1 59.0L466.1 59.0L465.1 59.0L464.1 58.9L463.1 58.7L462.6 58.7L461.6 58.5L460.6 58.2L460.1 58.1L459.1 57.8L458.6 57.6L457.6 57.2L457.1 57.0L456.4 56.7L455.6 56.4L455.1 56.2L454.2 55.7L453.6 55.4L453.1 55.0L452.6 54.7L451.8 54.2L451.1 53.7L450.6 53.3L450.1 53.0L449.6 52.6L449.1 52.2L448.4 51.7L447.6 51.3L446.6 51.4L446.1 51.8L445.6 52.5L445.2 53.2L444.8 53.7L444.4 54.2L444.0 54.7L443.6 55.2L443.1 55.7L442.5 56.2L441.9 56.7L441.1 57.2L440.6 57.4L439.8 57.7L439.1 57.9L438.1 57.9L437.1 57.8L436.5 57.7L435.6 57.4L435.1 57.2L434.1 56.8L433.6 56.5L433.1 56.1L432.6 55.7L432.1 55.2L431.6 54.7L431.1 54.0L430.7 53.2L430.4 52.7L430.1 51.7L430.0 51.2L430.0 50.2L430.1 49.2L430.1 48.7L430.4 47.7L430.6 47.2L431.1 46.2L431.4 45.7L431.8 45.2L432.4 44.7L433.1 44.2L433.6 43.9L434.1 43.7L435.1 43.4L436.0 43.2L436.6 43.1L437.6 43.1L438.3 43.2L439.1 43.3L440.1 43.6L440.6 43.7L441.6 44.0L442.1 44.2L443.1 44.7L443.6 44.9L444.5 45.2L445.1 45.3L445.8 45.2L446.5 44.7L446.9 44.2L447.2 43.7L447.6 43.0L448.1 42.2L448.4 41.7L448.7 41.2L449.1 40.7L449.6 40.1L450.1 39.5L450.6 38.9L451.1 38.4L451.6 38.0L452.1 37.6L452.6 37.2L453.3 36.7L454.1 36.2L454.6 35.9L455.1 35.6L456.0 35.2L456.6 34.9L457.1 34.7L458.1 34.4L458.7 34.2L459.6 34.0L460.6 33.8L461.4 33.7L462.1 33.6L463.1 33.4L464.1 33.3L465.1 33.3L466.1 33.3L467.1 33.3L468.1 33.2L468.6 33.2L469.6 33.1L470.6 33.0L471.6 32.9L472.6 32.8L473.6 32.8L474.5 32.7ZM467.0 62.7L467.6 62.6L468.6 62.5L469.4 62.7L470.1 63.0L470.6 63.4L471.1 64.0L471.6 64.6L471.9 65.2L472.2 65.7L472.6 66.7L472.8 67.2L473.1 67.8L473.6 68.6L474.0 69.2L474.4 69.7L474.9 70.2L475.3 70.7L475.8 71.2L476.3 71.7L476.9 72.2L477.4 72.7L477.9 73.2L478.4 73.7L478.8 74.2L479.2 74.7L479.6 75.3L480.1 76.1L480.4 76.7L480.7 77.2L481.1 78.1L481.3 78.7L481.6 79.6L481.7 80.2L481.9 81.2L481.9 82.2L481.8 83.2L481.6 84.2L481.5 84.7L481.2 85.7L481.0 86.2L480.6 87.0L480.2 87.7L479.9 88.2L479.6 88.7L479.1 89.4L478.6 90.1L478.1 90.6L477.6 91.2L477.1 91.6L476.6 92.0L476.1 92.4L475.6 92.7L474.8 93.2L474.1 93.6L473.6 93.9L472.9 94.2L472.1 94.6L471.6 94.8L470.6 95.1L470.1 95.2L469.1 95.5L468.1 95.7L467.6 95.7L466.6 95.8L465.6 95.9L464.6 95.9L463.6 95.9L462.6 95.9L461.6 95.8L461.0 95.7L460.1 95.5L459.1 95.3L458.6 95.2L457.6 94.9L457.1 94.7L456.1 94.3L455.6 94.1L454.6 93.8L454.1 93.7L453.1 93.5L452.1 93.3L451.4 93.2L450.6 93.1L449.6 92.9L448.9 92.7L448.1 92.5L447.1 92.2L446.6 92.1L445.6 92.0L444.9 92.2L444.1 92.7L443.7 93.2L443.3 93.7L443.1 94.2L442.7 95.2L442.6 95.7L442.1 96.5L441.6 97.0L441.1 97.3L440.1 97.6L439.1 97.7L438.1 97.5L437.1 97.3L436.4 97.2L435.6 97.1L434.6 96.8L434.1 96.6L433.4 96.2L432.6 95.7L432.1 95.3L431.6 94.9L431.1 94.4L430.6 93.9L430.1 93.3L429.7 92.7L429.4 92.2L429.1 91.7L428.6 90.7L428.4 90.2L428.1 89.2L428.0 88.7L427.7 87.7L427.6 86.7L427.6 86.2L427.6 85.2L427.6 84.2L427.6 83.7L427.7 82.7L427.8 81.7L427.9 80.7L428.1 79.9L428.3 79.2L428.6 78.3L428.8 77.7L429.1 77.2L429.6 76.2L429.9 75.7L430.2 75.2L430.6 74.7L431.1 74.1L431.6 73.6L432.1 73.1L432.7 72.7L433.4 72.2L434.1 71.8L434.6 71.6L435.6 71.2L436.1 71.1L437.1 70.9L438.1 70.8L439.1 70.8L440.1 70.8L441.1 70.7L441.6 70.5L442.1 70.2L442.6 69.6L443.1 68.7L443.3 68.2L443.6 67.5L443.9 66.7L444.2 66.2L444.6 65.5L445.1 65.0L445.6 64.6L446.4 64.2L447.1 64.0L448.1 64.0L449.1 63.9L450.1 63.9L451.1 64.0L452.0 64.2L452.6 64.4L453.6 64.7L454.1 64.8L455.1 65.2L455.6 65.3L456.6 65.4L457.6 65.2L458.1 65.0L459.1 64.8L459.6 64.6L460.6 64.4L461.3 64.2L462.1 63.9L462.6 63.7L463.6 63.3L464.1 63.1L465.1 62.9L466.1 62.8L467.0 62.7ZM410.3 87.2L411.1 87.1L412.1 87.2L412.6 87.4L413.2 87.7L413.4 88.7L412.8 89.2L412.1 89.6L411.6 89.7L410.6 89.8L409.8 89.7L409.1 89.3L408.7 88.7L409.1 87.8L409.6 87.5L410.3 87.2ZM417.9 89.2L418.6 88.8L419.6 88.8L420.6 89.0L421.1 89.2L422.1 89.7L422.6 90.1L423.1 90.6L423.3 91.2L423.1 91.7L422.1 92.1L421.1 92.0L420.1 91.7L419.6 91.5L419.0 91.2L418.5 90.7L418.0 90.2L417.9 89.2ZM469.4 33.7L470.1 33.6L471.1 33.5L472.1 33.5L473.1 33.4L474.1 33.3L475.1 33.3L476.1 33.2L477.1 33.3L478.1 33.3L479.1 33.5L480.0 33.7L480.6 33.9L481.5 34.2L482.1 34.4L482.7 34.7L483.6 35.1L484.1 35.4L484.6 35.7L485.3 36.2L486.0 36.7L486.6 37.2L487.1 37.7L487.5 38.2L487.9 38.7L488.3 39.2L488.6 39.8L489.1 40.7L489.3 41.2L489.6 42.2L489.7 42.7L489.8 43.7L489.9 44.7L489.9 45.7L489.7 46.7L489.6 47.2L489.2 48.2L489.0 48.7L488.6 49.3L488.1 50.1L487.6 50.7L487.2 51.2L486.7 51.7L486.2 52.2L485.6 52.7L485.1 53.1L484.6 53.4L484.1 53.7L483.2 54.2L482.6 54.5L482.1 54.7L481.1 55.1L480.6 55.2L479.6 55.5L478.7 55.7L478.1 55.8L477.1 56.0L476.1 56.2L475.6 56.3L474.6 56.4L473.6 56.6L473.1 56.7L472.1 57.0L471.1 57.2L470.6 57.3L469.6 57.5L468.6 57.6L468.1 57.7L467.1 57.8L466.1 57.9L465.1 57.9L464.1 57.9L463.1 57.8L462.5 57.7L461.6 57.6L460.6 57.4L459.9 57.2L459.1 57.0L458.3 56.7L457.6 56.4L457.0 56.2L456.1 55.9L455.6 55.6L454.7 55.2L454.1 54.8L453.6 54.5L453.1 54.2L452.4 53.7L451.8 53.2L451.2 52.7L450.6 52.2L450.1 51.7L449.7 51.2L449.3 50.7L448.9 50.2L448.6 49.7L448.1 48.7L447.9 48.2L447.7 47.2L447.7 46.2L447.9 45.2L448.1 44.5L448.4 43.7L448.6 43.2L449.1 42.2L449.4 41.7L449.7 41.2L450.1 40.6L450.6 40.0L451.1 39.4L451.6 38.9L452.1 38.4L452.6 38.0L453.1 37.6L453.7 37.2L454.5 36.7L455.1 36.3L455.6 36.1L456.3 35.7L457.1 35.4L457.6 35.2L458.6 34.9L459.2 34.7L460.1 34.5L461.1 34.3L462.0 34.2L462.6 34.1L463.6 34.0L464.6 33.9L465.6 33.9L466.6 33.9L467.6 33.8L468.6 33.8L469.4 33.7ZM435.0 44.7L435.6 44.5L436.6 44.4L437.6 44.4L438.6 44.6L439.2 44.7L440.1 45.0L440.8 45.2L441.6 45.6L442.1 45.9L442.6 46.3L443.1 46.7L443.6 47.3L444.0 48.2L444.1 48.7L444.1 49.7L444.1 50.2L443.9 51.2L443.6 52.2L443.4 52.7L443.1 53.2L442.6 54.0L442.1 54.6L441.6 55.0L441.1 55.4L440.6 55.7L439.6 56.2L439.1 56.3L438.1 56.5L437.1 56.4L436.2 56.2L435.6 56.0L435.0 55.7L434.1 55.2L433.6 54.8L433.1 54.4L432.6 53.8L432.2 53.2L431.9 52.7L431.6 51.8L431.5 51.2L431.4 50.2L431.5 49.2L431.6 48.7L431.9 47.7L432.1 47.2L432.6 46.4L433.1 45.8L433.6 45.4L434.1 45.1L435.0 44.7ZM447.6 66.7L448.1 66.5L449.1 66.3L450.1 66.3L451.1 66.4L452.1 66.6L452.6 66.7L453.6 67.1L454.1 67.3L455.0 67.7L455.6 67.9L456.4 68.2L457.1 68.4L458.1 68.4L459.1 68.2L459.6 68.1L460.6 67.8L461.1 67.6L462.1 67.3L462.6 67.2L463.6 66.9L464.6 66.7L465.1 66.7L466.1 66.6L466.9 66.7L467.6 66.8L468.6 67.1L469.1 67.4L469.6 67.7L470.3 68.2L471.1 68.7L471.6 69.0L472.1 69.4L472.6 69.7L473.3 70.2L473.9 70.7L474.5 71.2L475.1 71.7L475.6 72.2L476.1 72.6L476.6 73.0L477.1 73.5L477.6 74.0L478.1 74.6L478.5 75.2L478.9 75.7L479.2 76.2L479.6 76.9L480.0 77.7L480.3 78.2L480.6 79.1L480.8 79.7L481.0 80.7L481.0 81.7L481.0 82.7L480.9 83.7L480.7 84.7L480.5 85.2L480.1 86.2L479.9 86.7L479.6 87.2L479.1 88.0L478.7 88.7L478.3 89.2L477.9 89.7L477.5 90.2L477.0 90.7L476.4 91.2L475.8 91.7L475.1 92.2L474.6 92.5L474.1 92.8L473.3 93.2L472.6 93.6L472.1 93.8L471.1 94.2L470.6 94.4L469.6 94.7L469.1 94.8L468.1 95.0L467.1 95.1L466.4 95.2L465.6 95.3L464.6 95.3L463.6 95.3L462.6 95.2L462.1 95.2L461.1 95.0L460.1 94.8L459.6 94.7L458.6 94.4L458.0 94.2L457.1 93.9L456.6 93.7L455.6 93.3L455.1 93.1L454.1 92.8L453.6 92.6L452.6 92.5L451.6 92.3L451.1 92.2L450.1 92.0L449.1 91.8L448.6 91.6L447.6 91.3L447.1 91.2L446.1 90.9L445.1 90.9L444.4 91.2L443.7 91.7L443.1 92.2L442.6 92.7L442.1 93.2L441.6 93.7L441.1 94.2L440.6 94.6L440.1 94.9L439.3 95.2L438.6 95.4L437.6 95.5L436.6 95.4L435.6 95.3L435.1 95.2L434.1 94.7L433.6 94.5L433.1 94.2L432.5 93.7L431.9 93.2L431.4 92.7L430.9 92.2L430.5 91.7L430.1 91.1L429.6 90.3L429.3 89.7L429.1 89.2L428.7 88.2L428.5 87.7L428.3 86.7L428.1 85.7L428.1 84.9L428.1 84.2L428.1 83.5L428.1 82.7L428.2 81.7L428.3 80.7L428.6 79.7L428.7 79.2L429.1 78.2L429.3 77.7L429.6 77.1L430.1 76.2L430.4 75.7L430.8 75.2L431.2 74.7L431.7 74.2L432.2 73.7L432.9 73.2L433.6 72.7L434.1 72.5L434.7 72.2L435.6 71.9L436.6 71.7L437.1 71.6L438.1 71.6L439.0 71.7L439.6 71.8L440.6 71.9L441.6 71.9L442.3 71.7L443.1 71.2L443.6 70.8L444.1 70.2L444.5 69.7L444.9 69.2L445.3 68.7L445.7 68.2L446.1 67.7L446.7 67.2L447.6 66.7ZM463.1 45.2L464.1 45.0L465.1 44.9L466.1 45.0L466.6 45.5L466.6 45.9L466.1 46.4L465.4 46.7L464.6 46.8L463.6 46.8L463.1 46.7L462.5 46.2L462.6 45.6L463.1 45.2ZM448.4 75.2L449.1 74.9L450.0 75.2L450.3 75.7L450.0 76.2L449.1 76.5L448.4 76.2L448.4 75.2ZM464.6 43.7L465.6 43.6L466.6 43.7L467.1 43.8L468.1 44.1L468.6 44.4L469.1 44.7L469.7 45.2L469.6 45.8L469.1 46.4L468.6 46.8L468.0 47.2L467.1 47.6L466.6 47.8L465.6 48.0L464.6 48.1L463.6 48.1L462.6 47.9L462.1 47.7L461.4 47.2L461.0 46.7L460.8 45.7L461.1 45.0L461.6 44.5L462.1 44.2L463.1 43.9L464.1 43.8L464.6 43.7ZM448.5 74.7L449.1 74.6L449.9 74.7L450.5 75.2L450.7 75.7L450.6 76.2L450.0 76.7L449.1 76.8L448.6 76.7L447.9 76.2L447.9 75.2L448.5 74.7ZM436.2 82.2L437.1 81.8L437.6 82.2L437.9 83.2L437.6 84.0L437.1 84.4L436.4 84.2L436.0 83.7L436.0 82.7L436.2 82.2ZM464.8 42.7L465.6 42.6L466.6 42.6L467.2 42.7L468.1 42.9L469.1 43.1L470.1 43.2L471.1 43.1L472.1 42.9L473.1 42.8L473.7 42.7L474.6 42.6L475.6 42.6L476.6 42.7L477.1 42.8L478.0 43.2L478.5 43.7L478.7 44.2L478.7 45.2L478.3 45.7L477.6 46.1L477.1 46.3L476.1 46.6L475.6 46.7L474.6 46.9L473.6 47.0L472.6 47.2L472.1 47.2L471.1 47.4L470.1 47.6L469.6 47.8L468.6 48.2L468.1 48.4L467.2 48.7L466.6 48.9L465.6 49.0L464.6 49.1L463.6 49.1L462.6 48.9L462.0 48.7L461.1 48.2L460.6 47.9L460.1 47.3L459.7 46.7L459.6 46.2L459.6 45.5L459.9 44.7L460.3 44.2L460.8 43.7L461.6 43.3L462.1 43.1L463.1 42.9L464.1 42.8L464.8 42.7ZM447.9 74.7L448.6 74.3L449.6 74.3L450.5 74.7L451.0 75.2L451.1 75.7L451.0 76.2L450.6 76.8L449.7 77.2L449.1 77.2L448.6 77.1L447.9 76.7L447.5 76.2L447.5 75.2L447.9 74.7ZM463.0 80.2L463.6 79.9L464.6 79.7L465.6 79.9L466.3 80.2L466.8 80.7L467.2 81.2L467.4 82.2L467.2 83.2L466.8 83.7L466.2 84.2L465.6 84.5L464.8 84.7L464.1 84.7L463.6 84.7L462.7 84.2L462.2 83.7L461.9 83.2L461.6 82.2L461.9 81.2L462.3 80.7L463.0 80.2ZM436.1 80.7L437.1 80.5L437.8 80.7L438.4 81.2L438.7 81.7L439.0 82.7L438.9 83.7L438.6 84.6L438.2 85.2L437.6 85.6L436.6 85.6L435.7 85.2L435.3 84.7L435.0 84.2L434.9 83.2L435.0 82.2L435.2 81.7L435.6 81.1L436.1 80.7ZM465.5 41.7L466.1 41.7L466.8 41.7L467.6 41.8L468.6 41.9L469.6 42.0L470.6 41.9L471.6 41.8L472.3 41.7L473.1 41.6L474.1 41.5L475.1 41.4L476.1 41.4L477.1 41.5L477.9 41.7L478.6 42.0L479.1 42.3L479.6 42.8L480.1 43.7L480.2 44.2L480.2 45.2L480.1 45.8L479.6 46.5L479.1 46.9L478.6 47.2L477.6 47.5L477.0 47.7L476.1 47.9L475.1 48.1L474.5 48.2L473.6 48.3L472.6 48.4L471.6 48.6L470.7 48.7L470.1 48.8L469.1 49.1L468.6 49.2L467.6 49.6L467.1 49.7L466.1 49.9L465.1 50.0L464.1 50.0L463.1 49.9L462.2 49.7L461.6 49.5L460.9 49.2L460.1 48.7L459.6 48.3L459.1 47.7L458.7 47.2L458.5 46.7L458.4 45.7L458.6 44.7L458.9 44.2L459.3 43.7L459.8 43.2L460.5 42.7L461.1 42.4L461.6 42.2L462.6 42.0L463.6 41.9L464.6 41.8L465.5 41.7ZM448.1 74.2L448.6 74.0L449.6 74.0L450.4 74.2L451.1 74.7L451.4 75.2L451.6 76.2L451.1 77.0L450.6 77.4L449.6 77.7L448.6 77.6L447.9 77.2L447.3 76.7L447.1 76.2L447.1 75.2L447.4 74.7L448.1 74.2ZM462.9 78.7L463.6 78.5L464.6 78.4L465.6 78.5L466.4 78.7L467.1 79.0L467.6 79.3L468.1 79.7L468.6 80.2L469.1 80.9L469.4 81.7L469.5 82.7L469.2 83.7L468.8 84.2L468.4 84.7L467.7 85.2L467.1 85.6L466.6 85.8L465.6 86.0L464.6 86.2L463.6 86.1L462.6 85.9L462.1 85.6L461.5 85.2L461.0 84.7L460.5 84.2L460.1 83.5L459.8 82.7L459.8 81.7L460.1 80.9L460.5 80.2L461.1 79.7L461.6 79.3L462.1 79.0L462.9 78.7ZM436.0 79.7L436.6 79.5L437.6 79.6L438.1 79.8L438.8 80.2L439.2 80.7L439.6 81.4L439.8 82.2L439.8 83.2L439.6 84.2L439.5 84.7L439.1 85.4L438.6 86.0L438.1 86.4L437.1 86.6L436.1 86.4L435.6 86.2L435.0 85.7L434.6 85.2L434.2 84.2L434.1 83.2L434.1 83.2L434.2 82.2L434.5 81.2L434.8 80.7L435.3 80.2L436.0 79.7ZM472.3 40.7L473.1 40.6L474.1 40.5L475.1 40.4L476.1 40.4L477.1 40.5L478.1 40.7L478.6 40.8L479.4 41.2L480.1 41.7L480.6 42.2L480.9 42.7L481.2 43.2L481.4 44.2L481.5 45.2L481.2 46.2L481.0 46.7L480.6 47.2L480.0 47.7L479.1 48.2L478.6 48.4L477.6 48.7L477.1 48.8L476.1 49.0L475.1 49.2L474.6 49.2L473.6 49.3L472.6 49.4L471.6 49.6L470.9 49.7L470.1 49.8L469.1 50.1L468.6 50.2L467.6 50.5L466.6 50.7L466.1 50.8L465.1 50.8L464.1 50.8L463.1 50.7L462.6 50.7L461.6 50.4L461.0 50.2L460.1 49.8L459.6 49.5L459.1 49.1L458.6 48.7L458.1 48.1L457.6 47.4L457.3 46.7L457.2 45.7L457.4 44.7L457.6 44.1L458.1 43.4L458.6 42.9L459.1 42.5L459.6 42.1L460.3 41.7L461.1 41.4L461.6 41.2L462.6 41.0L463.6 40.9L464.6 40.8L465.6 40.8L466.6 40.8L467.6 40.9L468.6 40.9L469.6 41.0L470.6 40.9L471.6 40.8L472.3 40.7ZM448.6 73.7L449.6 73.7L450.1 73.7L451.1 74.2L451.6 74.7L452.0 75.2L452.1 76.0L452.1 76.2L451.8 77.2L451.3 77.7L450.6 78.2L450.1 78.3L449.1 78.3L448.6 78.1L447.8 77.7L447.2 77.2L446.8 76.7L446.6 76.0L446.6 75.5L446.9 74.7L447.4 74.2L448.1 73.8L448.6 73.7ZM462.4 77.7L463.1 77.5L464.1 77.3L465.1 77.3L466.1 77.4L467.1 77.7L467.6 77.9L468.2 78.2L469.1 78.7L469.6 79.1L470.1 79.7L470.5 80.2L470.7 80.7L471.0 81.7L471.1 82.7L470.9 83.7L470.6 84.3L470.1 85.0L469.6 85.5L469.1 85.9L468.6 86.2L467.7 86.7L467.1 87.0L466.1 87.2L465.6 87.3L464.6 87.3L463.6 87.3L463.1 87.2L462.1 86.9L461.6 86.7L460.7 86.2L460.1 85.7L459.6 85.3L459.1 84.8L458.6 84.2L458.3 83.7L458.0 83.2L457.9 82.2L458.1 81.2L458.3 80.7L458.6 80.2L459.1 79.6L459.6 79.2L460.3 78.7L461.1 78.2L461.6 78.0L462.4 77.7ZM436.3 78.7L437.1 78.6L437.7 78.7L438.6 79.0L439.1 79.4L439.6 79.8L440.1 80.5L440.4 81.2L440.6 82.2L440.6 82.7L440.6 83.3L440.5 84.2L440.1 85.2L439.9 85.7L439.5 86.2L439.1 86.7L438.3 87.2L437.6 87.4L436.6 87.4L435.8 87.2L435.1 86.9L434.6 86.5L434.1 85.9L433.7 85.2L433.5 84.7L433.4 83.7L433.4 82.7L433.5 81.7L433.7 81.2L434.1 80.4L434.6 79.7L435.1 79.3L435.6 79.0L436.3 78.7ZM472.7 39.7L473.6 39.6L474.6 39.5L475.6 39.4L476.6 39.4L477.6 39.5L478.4 39.7L479.1 39.9L479.7 40.2L480.6 40.7L481.1 41.1L481.6 41.6L482.0 42.2L482.2 42.7L482.5 43.7L482.6 44.7L482.5 45.7L482.2 46.7L481.9 47.2L481.5 47.7L481.0 48.2L480.3 48.7L479.6 49.1L479.1 49.2L478.1 49.5L477.5 49.7L476.6 49.9L475.6 50.0L474.6 50.2L474.1 50.2L473.1 50.3L472.1 50.4L471.1 50.6L470.5 50.7L469.6 50.9L468.6 51.1L468.1 51.2L467.1 51.4L466.1 51.6L465.1 51.6L464.1 51.6L463.1 51.6L462.1 51.4L461.3 51.2L460.6 51.0L460.0 50.7L459.1 50.2L458.6 49.9L458.1 49.5L457.6 49.1L457.1 48.5L456.6 47.7L456.4 47.2L456.1 46.2L456.2 45.2L456.4 44.2L456.6 43.7L457.1 43.0L457.6 42.4L458.1 42.0L458.6 41.6L459.3 41.2L460.1 40.8L460.6 40.6L461.6 40.3L462.1 40.2L463.1 40.0L464.1 40.0L465.1 39.9L466.1 39.9L467.1 39.9L468.1 40.0L469.1 40.0L470.1 40.0L471.1 39.9L472.1 39.8L472.7 39.7ZM447.6 73.7L448.1 73.5L449.1 73.3L450.1 73.4L451.0 73.7L451.6 74.1L452.1 74.6L452.5 75.2L452.7 75.7L452.8 76.7L452.6 77.7L452.5 78.2L452.4 79.2L452.6 79.7L453.1 80.6L453.4 81.2L452.9 81.7L452.1 81.9L451.1 81.9L450.4 81.7L449.8 81.2L449.4 80.7L449.1 80.0L448.6 79.2L448.1 78.8L447.6 78.3L447.1 77.8L446.6 77.2L446.3 76.7L446.1 75.7L446.4 74.7L446.9 74.2L447.6 73.7ZM462.1 76.7L462.6 76.6L463.6 76.4L464.6 76.3L465.6 76.3L466.6 76.4L467.6 76.7L468.1 76.8L468.9 77.2L469.6 77.6L470.1 77.9L470.6 78.3L471.1 78.8L471.6 79.5L472.0 80.2L472.2 80.7L472.4 81.7L472.4 82.7L472.3 83.7L472.1 84.2L471.6 85.1L471.1 85.7L470.6 86.2L470.1 86.6L469.6 86.9L469.1 87.3L468.3 87.7L467.6 88.0L466.9 88.2L466.1 88.4L465.1 88.4L464.1 88.4L463.1 88.2L462.6 88.2L461.6 87.9L461.1 87.7L460.2 87.2L459.6 86.9L459.1 86.5L458.6 86.1L458.0 85.7L457.5 85.2L456.9 84.7L456.4 84.2L455.9 83.7L455.5 83.2L455.1 82.7L454.6 81.8L454.6 81.5L455.1 80.8L455.6 80.4L456.1 80.0L456.6 79.6L457.1 79.2L457.8 78.7L458.6 78.2L459.1 78.0L459.6 77.7L460.6 77.2L461.1 77.0L462.1 76.7ZM435.3 78.2L436.1 77.9L437.1 77.7L438.1 77.9L438.8 78.2L439.6 78.7L440.1 79.2L440.5 79.7L440.8 80.2L441.1 80.8L441.3 81.7L441.4 82.7L441.4 83.7L441.1 84.7L440.9 85.2L440.6 85.9L440.1 86.7L439.7 87.2L439.1 87.7L438.6 88.0L437.8 88.2L437.1 88.3L436.2 88.2L435.6 88.0L434.9 87.7L434.2 87.2L433.7 86.7L433.4 86.2L433.1 85.6L432.8 84.7L432.7 83.7L432.7 82.7L432.8 81.7L433.1 80.8L433.4 80.2L433.7 79.7L434.1 79.2L434.6 78.7L435.3 78.2ZM473.4 38.7L474.1 38.6L475.1 38.5L476.1 38.5L477.1 38.5L478.1 38.6L478.6 38.7L479.6 39.0L480.1 39.2L480.9 39.7L481.6 40.2L482.1 40.6L482.6 41.2L483.0 41.7L483.2 42.2L483.5 43.2L483.6 43.7L483.7 44.7L483.6 45.4L483.5 46.2L483.1 47.1L482.8 47.7L482.4 48.2L481.9 48.7L481.3 49.2L480.6 49.6L480.1 49.9L479.2 50.2L478.6 50.4L477.6 50.6L477.1 50.7L476.1 50.9L475.1 51.0L474.1 51.1L473.1 51.2L472.6 51.3L471.6 51.4L470.6 51.6L470.0 51.7L469.1 51.9L468.1 52.1L467.3 52.2L466.6 52.3L465.6 52.4L464.6 52.4L463.6 52.4L462.6 52.3L462.0 52.2L461.1 52.0L460.2 51.7L459.6 51.5L459.0 51.2L458.1 50.7L457.6 50.3L457.1 49.9L456.6 49.5L456.1 48.8L455.7 48.2L455.5 47.7L455.2 46.7L455.1 46.2L455.1 45.2L455.2 44.7L455.5 43.7L455.7 43.2L456.1 42.6L456.6 42.0L457.1 41.6L457.6 41.2L458.4 40.7L459.1 40.3L459.6 40.1L460.5 39.7L461.1 39.5L462.1 39.3L462.8 39.2L463.6 39.1L464.6 39.0L465.6 39.0L466.6 39.0L467.6 39.1L468.6 39.1L469.6 39.1L470.6 39.0L471.6 38.9L472.6 38.8L473.4 38.7ZM447.9 73.2L448.6 73.0L449.6 73.0L450.6 73.1L451.1 73.3L451.9 73.7L452.5 74.2L452.9 74.7L453.2 75.2L453.6 76.0L453.9 76.7L454.3 77.2L455.1 77.7L455.6 77.8L456.2 77.7L457.1 77.5L457.8 77.2L458.6 76.9L459.1 76.7L460.1 76.2L460.6 76.0L461.6 75.7L462.1 75.6L463.1 75.4L464.1 75.3L465.1 75.3L466.1 75.3L467.1 75.4L468.1 75.6L468.6 75.8L469.5 76.2L470.1 76.5L470.6 76.8L471.1 77.2L471.7 77.7L472.2 78.2L472.6 78.7L473.1 79.6L473.4 80.2L473.6 80.9L473.7 81.7L473.7 82.7L473.6 83.4L473.4 84.2L473.1 84.9L472.6 85.7L472.2 86.2L471.7 86.7L471.1 87.2L470.6 87.6L470.1 87.9L469.6 88.2L468.6 88.7L468.1 88.9L467.3 89.2L466.6 89.4L465.6 89.5L464.6 89.5L463.6 89.4L462.6 89.2L462.1 89.1L461.1 88.8L460.6 88.6L459.8 88.2L459.1 87.8L458.6 87.5L458.1 87.2L457.4 86.7L456.6 86.2L456.1 85.9L455.6 85.6L454.8 85.2L454.1 84.9L453.1 84.7L452.6 84.6L451.6 84.6L450.6 84.4L450.0 84.2L449.1 83.7L448.6 83.3L448.1 82.7L447.8 82.2L447.6 81.7L447.3 80.7L447.1 79.7L447.0 79.2L446.6 78.4L446.2 77.7L446.0 77.2L445.7 76.2L445.8 75.2L446.1 74.5L446.6 73.9L447.1 73.6L447.9 73.2ZM435.5 77.2L436.1 77.0L437.1 76.9L438.1 77.0L438.7 77.2L439.6 77.7L440.1 78.1L440.6 78.5L441.1 79.1L441.5 79.7L441.8 80.2L442.1 81.1L442.2 81.7L442.3 82.7L442.2 83.7L442.1 84.2L441.8 85.2L441.6 85.7L441.1 86.6L440.7 87.2L440.3 87.7L439.7 88.2L439.1 88.6L438.6 88.8L437.6 89.1L436.6 89.1L435.6 88.9L435.0 88.7L434.2 88.2L433.6 87.7L433.2 87.2L432.8 86.7L432.6 86.2L432.2 85.2L432.1 84.5L432.0 83.7L432.0 82.7L432.1 81.8L432.2 81.2L432.6 80.2L432.8 79.7L433.1 79.2L433.6 78.6L434.1 78.1L434.6 77.7L435.5 77.2ZM474.0 37.7L474.6 37.6L475.6 37.6L476.6 37.5L477.6 37.6L478.2 37.7L479.1 37.9L480.1 38.2L480.6 38.4L481.2 38.7L482.0 39.2L482.6 39.7L483.1 40.2L483.5 40.7L483.9 41.2L484.2 41.7L484.5 42.7L484.7 43.2L484.8 44.2L484.7 45.2L484.6 45.8L484.4 46.7L484.1 47.3L483.6 48.2L483.2 48.7L482.7 49.2L482.1 49.7L481.6 50.1L481.1 50.4L480.4 50.7L479.6 51.0L479.0 51.2L478.1 51.4L477.1 51.6L476.6 51.7L475.6 51.8L474.6 51.9L473.6 52.0L472.6 52.1L472.1 52.2L471.1 52.4L470.1 52.6L469.2 52.7L468.6 52.8L467.6 53.0L466.6 53.1L465.8 53.2L465.1 53.2L464.1 53.3L463.3 53.2L462.6 53.1L461.6 53.0L460.6 52.7L460.1 52.6L459.1 52.2L458.6 52.0L458.0 51.7L457.2 51.2L456.6 50.8L456.1 50.3L455.6 49.8L455.1 49.2L454.8 48.7L454.5 48.2L454.1 47.2L454.0 46.7L454.0 45.7L454.1 44.7L454.2 44.2L454.6 43.2L454.9 42.7L455.2 42.2L455.6 41.7L456.1 41.2L456.7 40.7L457.5 40.2L458.1 39.8L458.6 39.5L459.4 39.2L460.1 38.9L460.9 38.7L461.6 38.5L462.6 38.4L463.6 38.3L464.5 38.2L465.1 38.2L466.1 38.1L467.1 38.2L468.1 38.2L469.1 38.2L470.1 38.1L471.1 38.0L472.1 37.9L473.1 37.8L474.0 37.7ZM448.3 72.7L449.1 72.6L450.1 72.6L450.6 72.7L451.6 73.0L452.1 73.3L452.8 73.7L453.4 74.2L453.9 74.7L454.3 75.2L454.9 75.7L455.6 76.1L456.6 76.1L457.6 75.9L458.3 75.7L459.1 75.4L459.6 75.2L460.6 74.9L461.3 74.7L462.1 74.5L463.1 74.4L464.1 74.3L465.1 74.3L466.1 74.3L467.1 74.4L468.1 74.5L468.7 74.7L469.6 75.0L470.1 75.2L470.9 75.7L471.6 76.1L472.1 76.5L472.6 76.9L473.1 77.5L473.6 78.1L474.0 78.7L474.3 79.2L474.6 79.9L474.9 80.7L475.0 81.7L475.0 82.7L474.8 83.7L474.6 84.4L474.3 85.2L474.0 85.7L473.6 86.3L473.1 86.9L472.6 87.4L472.1 87.8L471.6 88.2L470.8 88.7L470.1 89.1L469.6 89.3L468.8 89.7L468.1 90.0L467.5 90.2L466.6 90.4L465.6 90.5L464.6 90.5L463.6 90.4L462.6 90.2L462.1 90.1L461.1 89.9L460.6 89.7L459.6 89.3L459.1 89.0L458.5 88.7L457.6 88.2L457.1 87.9L456.6 87.6L455.8 87.2L455.1 86.9L454.6 86.7L453.6 86.4L452.6 86.2L452.1 86.2L451.1 86.0L450.1 85.9L449.6 85.7L448.6 85.2L448.1 84.9L447.6 84.5L447.1 83.9L446.6 83.3L446.2 82.7L446.0 82.2L445.7 81.2L445.6 80.6L445.6 79.7L445.6 79.2L445.6 78.7L445.4 77.7L445.2 76.7L445.2 75.7L445.5 74.7L445.8 74.2L446.3 73.7L447.0 73.2L447.6 72.9L448.3 72.7ZM435.8 76.2L436.6 76.0L437.6 76.0L438.4 76.2L439.1 76.4L439.6 76.7L440.4 77.2L441.0 77.7L441.5 78.2L442.0 78.7L442.4 79.2L442.7 79.7L443.1 80.4L443.4 81.2L443.5 82.2L443.4 83.2L443.1 84.2L442.9 84.7L442.6 85.4L442.2 86.2L442.0 86.7L441.6 87.3L441.1 88.0L440.6 88.5L440.1 88.9L439.6 89.3L438.6 89.7L438.1 89.9L437.1 90.0L436.1 89.9L435.3 89.7L434.6 89.4L434.1 89.1L433.6 88.7L433.0 88.2L432.6 87.7L432.1 86.8L431.8 86.2L431.6 85.5L431.4 84.7L431.3 83.7L431.3 82.7L431.4 81.7L431.6 81.0L431.8 80.2L432.1 79.6L432.6 78.7L433.0 78.2L433.4 77.7L433.9 77.2L434.6 76.7L435.1 76.5L435.8 76.2ZM474.9 36.7L475.6 36.7L476.6 36.6L477.5 36.7L478.1 36.8L479.1 37.0L479.9 37.2L480.6 37.4L481.2 37.7L482.1 38.2L482.6 38.5L483.1 38.9L483.6 39.4L484.1 39.9L484.6 40.5L485.0 41.2L485.3 41.7L485.6 42.5L485.8 43.2L485.9 44.2L485.8 45.2L485.6 46.1L485.4 46.7L485.1 47.5L484.7 48.2L484.4 48.7L484.0 49.2L483.5 49.7L482.9 50.2L482.2 50.7L481.6 51.1L481.1 51.3L480.2 51.7L479.6 51.9L478.7 52.2L478.1 52.3L477.1 52.5L476.1 52.7L475.6 52.7L474.6 52.8L473.6 52.9L472.6 53.0L471.6 53.2L471.1 53.3L470.1 53.4L469.1 53.6L468.3 53.7L467.6 53.8L466.6 54.0L465.6 54.1L464.6 54.1L463.6 54.1L462.6 54.0L461.6 53.8L461.0 53.7L460.1 53.5L459.2 53.2L458.6 53.0L457.9 52.7L457.1 52.3L456.6 52.0L456.1 51.6L455.6 51.2L455.0 50.7L454.6 50.2L454.1 49.6L453.6 48.8L453.3 48.2L453.1 47.6L452.9 46.7L452.8 45.7L453.0 44.7L453.1 44.1L453.4 43.2L453.7 42.7L454.1 42.0L454.6 41.4L455.1 40.9L455.6 40.4L456.1 40.0L456.6 39.7L457.4 39.2L458.1 38.8L458.6 38.6L459.6 38.2L460.1 38.0L461.1 37.8L461.6 37.7L462.6 37.5L463.6 37.4L464.6 37.3L465.6 37.3L466.6 37.3L467.6 37.3L468.6 37.3L469.6 37.2L470.1 37.2L471.1 37.1L472.1 37.0L473.1 36.9L474.1 36.8L474.9 36.7ZM448.5 72.2L449.1 72.1L450.1 72.1L450.7 72.2L451.6 72.4L452.3 72.7L453.1 73.1L453.6 73.4L454.1 73.7L454.8 74.2L455.6 74.6L456.2 74.7L457.0 74.7L457.6 74.6L458.6 74.3L459.1 74.1L460.1 73.8L460.6 73.7L461.6 73.5L462.6 73.3L463.6 73.3L464.6 73.2L465.6 73.2L466.6 73.3L467.6 73.4L468.6 73.6L469.1 73.7L470.1 74.1L470.6 74.3L471.4 74.7L472.1 75.1L472.6 75.5L473.1 75.9L473.6 76.3L474.1 76.9L474.6 77.5L475.1 78.2L475.3 78.7L475.6 79.2L476.0 80.2L476.1 80.7L476.3 81.7L476.2 82.7L476.1 83.5L475.9 84.2L475.6 85.0L475.3 85.7L475.0 86.2L474.6 86.8L474.1 87.5L473.6 88.0L473.1 88.4L472.6 88.8L472.1 89.2L471.2 89.7L470.6 90.0L470.1 90.2L469.1 90.7L468.6 90.9L467.6 91.2L467.1 91.3L466.1 91.5L465.1 91.6L464.1 91.5L463.1 91.4L462.2 91.2L461.6 91.1L460.6 90.8L460.1 90.6L459.1 90.2L458.6 90.0L458.1 89.7L457.2 89.2L456.6 88.9L456.1 88.6L455.1 88.2L454.6 88.1L453.6 87.8L453.1 87.7L452.1 87.5L451.1 87.4L450.1 87.2L449.6 87.1L448.6 86.7L448.1 86.4L447.6 86.1L446.9 85.7L446.2 85.2L445.6 84.8L444.6 84.8L444.1 85.2L443.6 85.8L443.1 86.5L442.6 87.2L442.3 87.7L441.9 88.2L441.5 88.7L441.0 89.2L440.4 89.7L439.6 90.2L439.1 90.4L438.3 90.7L437.6 90.8L436.6 90.9L435.6 90.7L435.1 90.6L434.3 90.2L433.6 89.7L433.1 89.3L432.6 88.8L432.1 88.2L431.8 87.7L431.5 87.2L431.1 86.2L430.9 85.7L430.8 84.7L430.7 83.7L430.7 82.7L430.8 81.7L431.0 80.7L431.1 80.2L431.5 79.2L431.8 78.7L432.1 78.2L432.6 77.5L433.1 76.9L433.6 76.5L434.1 76.1L434.8 75.7L435.6 75.4L436.4 75.2L437.1 75.1L437.8 75.2L438.6 75.3L439.6 75.7L440.1 76.0L440.6 76.3L441.2 76.7L441.9 77.2L442.6 77.7L443.1 77.9L444.1 77.7L444.3 77.2L444.5 76.2L444.6 75.6L444.9 74.7L445.2 74.2L445.6 73.7L446.2 73.2L447.0 72.7L447.6 72.4L448.5 72.2ZM470.5 36.2L471.1 36.1L472.1 36.0L473.1 35.9L474.1 35.9L475.1 35.8L476.1 35.8L477.1 35.8L478.1 35.9L479.1 36.1L479.6 36.2L480.6 36.5L481.1 36.7L482.1 37.2L482.6 37.4L483.1 37.8L483.7 38.2L484.3 38.7L484.7 39.2L485.2 39.7L485.6 40.3L486.1 41.1L486.4 41.7L486.6 42.3L486.8 43.2L486.9 44.2L486.9 45.2L486.7 46.2L486.5 46.7L486.1 47.7L485.8 48.2L485.5 48.7L485.1 49.3L484.6 49.9L484.1 50.4L483.6 50.8L483.1 51.2L482.3 51.7L481.6 52.1L481.1 52.3L480.1 52.7L479.6 52.8L478.6 53.1L478.1 53.2L477.1 53.4L476.1 53.6L475.1 53.7L474.6 53.7L473.6 53.8L472.6 53.9L471.6 54.1L471.0 54.2L470.1 54.3L469.1 54.5L468.1 54.6L467.6 54.7L466.6 54.8L465.6 54.9L464.6 55.0L463.6 55.0L462.6 54.9L461.6 54.7L461.1 54.6L460.1 54.4L459.4 54.2L458.6 54.0L457.9 53.7L457.1 53.3L456.6 53.1L456.0 52.7L455.3 52.2L454.7 51.7L454.1 51.2L453.6 50.7L453.2 50.2L452.9 49.7L452.6 49.2L452.1 48.2L452.0 47.7L451.7 46.7L451.7 45.7L451.8 44.7L452.1 43.7L452.3 43.2L452.6 42.5L453.1 41.7L453.5 41.2L453.9 40.7L454.4 40.2L455.0 39.7L455.6 39.3L456.1 38.9L456.6 38.6L457.3 38.2L458.1 37.8L458.6 37.6L459.6 37.3L460.1 37.2L461.1 36.9L462.1 36.7L462.6 36.7L463.6 36.6L464.6 36.5L465.6 36.4L466.6 36.4L467.6 36.4L468.6 36.4L469.6 36.3L470.5 36.2ZM448.2 71.7L449.1 71.5L450.1 71.4L451.1 71.5L451.8 71.7L452.6 71.9L453.2 72.2L454.1 72.6L454.6 72.8L455.6 73.2L456.1 73.3L457.1 73.4L458.1 73.2L458.6 73.1L459.6 72.8L460.1 72.7L461.1 72.4L462.1 72.3L462.9 72.2L463.6 72.2L464.6 72.1L465.6 72.1L466.6 72.2L467.1 72.2L468.1 72.4L469.1 72.6L469.6 72.7L470.6 73.1L471.1 73.3L471.9 73.7L472.6 74.1L473.1 74.4L473.6 74.8L474.1 75.2L474.6 75.7L475.1 76.3L475.6 76.9L476.1 77.7L476.4 78.2L476.6 78.7L477.1 79.7L477.2 80.2L477.4 81.2L477.5 82.2L477.4 83.2L477.2 84.2L477.0 84.7L476.6 85.7L476.3 86.2L476.0 86.7L475.6 87.3L475.1 88.0L474.6 88.5L474.1 89.0L473.6 89.4L473.1 89.8L472.5 90.2L471.6 90.7L471.1 90.9L470.5 91.2L469.6 91.6L469.1 91.7L468.1 92.1L467.5 92.2L466.6 92.4L465.6 92.5L464.6 92.5L463.6 92.5L462.6 92.3L462.1 92.2L461.1 92.0L460.2 91.7L459.6 91.5L458.9 91.2L458.1 90.9L457.6 90.6L456.8 90.2L456.1 89.9L455.6 89.7L454.6 89.3L454.1 89.2L453.1 89.0L452.1 88.8L451.4 88.7L450.6 88.6L449.6 88.3L449.1 88.2L448.1 87.8L447.6 87.5L447.0 87.2L446.1 86.8L445.6 86.6L444.7 86.7L444.1 87.1L443.6 87.6L443.1 88.1L442.6 88.7L442.2 89.2L441.7 89.7L441.1 90.2L440.6 90.6L440.1 90.9L439.5 91.2L438.6 91.6L438.0 91.7L437.1 91.8L436.1 91.7L435.6 91.6L434.6 91.3L434.1 91.1L433.5 90.7L432.9 90.2L432.4 89.7L431.9 89.2L431.6 88.7L431.1 87.9L430.7 87.2L430.5 86.7L430.2 85.7L430.1 84.7L430.0 84.2L430.0 83.2L430.1 82.2L430.1 81.7L430.3 80.7L430.6 79.7L430.8 79.2L431.1 78.5L431.6 77.7L431.9 77.2L432.3 76.7L432.8 76.2L433.3 75.7L434.0 75.2L434.6 74.9L435.1 74.7L436.1 74.4L437.1 74.3L438.1 74.4L439.1 74.6L439.6 74.8L440.6 75.2L441.1 75.5L441.6 75.7L442.6 76.1L443.6 75.7L443.9 75.2L444.2 74.7L444.6 74.1L445.1 73.5L445.6 73.0L446.1 72.6L446.8 72.2L447.6 71.9L448.2 71.7ZM471.4 35.2L472.1 35.1L473.1 35.0L474.1 35.0L475.1 34.9L476.1 34.9L477.1 34.9L478.1 35.0L479.1 35.2L479.6 35.3L480.6 35.6L481.1 35.8L482.0 36.2L482.6 36.5L483.1 36.7L483.9 37.2L484.5 37.7L485.1 38.2L485.6 38.7L486.0 39.2L486.4 39.7L486.7 40.2L487.1 40.9L487.5 41.7L487.6 42.2L487.9 43.2L488.0 44.2L487.9 45.2L487.8 46.2L487.6 46.7L487.2 47.7L487.0 48.2L486.6 48.9L486.1 49.6L485.6 50.2L485.1 50.7L484.6 51.2L484.1 51.6L483.6 51.9L483.1 52.3L482.3 52.7L481.6 53.0L481.1 53.2L480.1 53.6L479.6 53.7L478.6 54.0L477.7 54.2L477.1 54.3L476.1 54.5L475.1 54.6L474.1 54.7L473.6 54.7L472.6 54.9L471.6 55.1L470.7 55.2L470.1 55.3L469.1 55.4L468.1 55.6L467.2 55.7L466.6 55.8L465.6 55.9L464.6 55.9L463.6 55.9L462.6 55.8L462.0 55.7L461.1 55.6L460.1 55.3L459.6 55.2L458.6 54.9L458.0 54.7L457.1 54.3L456.6 54.1L455.8 53.7L455.1 53.3L454.6 52.9L454.1 52.5L453.6 52.1L453.1 51.7L452.6 51.1L452.1 50.5L451.6 49.7L451.3 49.2L451.1 48.7L450.7 47.7L450.6 47.0L450.5 46.2L450.5 45.2L450.6 44.7L450.9 43.7L451.1 43.1L451.5 42.2L451.8 41.7L452.2 41.2L452.6 40.7L453.1 40.1L453.6 39.6L454.1 39.2L454.7 38.7L455.5 38.2L456.1 37.8L456.6 37.5L457.3 37.2L458.1 36.8L458.6 36.7L459.6 36.4L460.4 36.2L461.1 36.0L462.1 35.9L463.1 35.7L463.6 35.7L464.6 35.6L465.6 35.6L466.6 35.5L467.6 35.5L468.6 35.4L469.6 35.4L470.6 35.3L471.4 35.2ZM448.5 70.7L449.1 70.5L450.1 70.4L451.1 70.4L452.1 70.6L452.6 70.8L453.6 71.1L454.1 71.3L455.1 71.7L455.6 71.8L456.6 72.0L457.6 72.0L458.6 71.8L459.1 71.7L460.1 71.4L461.1 71.2L461.6 71.1L462.6 71.0L463.6 70.9L464.6 70.9L465.6 70.9L466.6 70.9L467.6 71.0L468.4 71.2L469.1 71.4L470.1 71.7L470.6 71.8L471.5 72.2L472.1 72.5L472.6 72.8L473.3 73.2L474.0 73.7L474.6 74.2L475.1 74.6L475.6 75.1L476.1 75.7L476.5 76.2L476.8 76.7L477.1 77.2L477.6 78.0L477.9 78.7L478.1 79.2L478.5 80.2L478.6 80.9L478.7 81.7L478.7 82.7L478.6 83.3L478.5 84.2L478.1 85.2L477.9 85.7L477.6 86.3L477.1 87.1L476.7 87.7L476.4 88.2L476.0 88.7L475.5 89.2L475.0 89.7L474.4 90.2L473.6 90.7L473.1 91.0L472.6 91.3L471.9 91.7L471.1 92.1L470.6 92.3L469.6 92.6L469.1 92.8L468.1 93.1L467.5 93.2L466.6 93.4L465.6 93.5L464.6 93.5L463.6 93.4L462.6 93.3L462.0 93.2L461.1 93.0L460.1 92.7L459.6 92.6L458.6 92.2L458.1 92.0L457.4 91.7L456.6 91.3L456.1 91.1L455.1 90.7L454.6 90.6L453.6 90.3L453.1 90.2L452.1 90.0L451.1 89.9L450.2 89.7L449.6 89.6L448.6 89.3L448.1 89.1L447.2 88.7L446.6 88.4L445.8 88.2L445.1 88.2L444.6 88.3L444.0 88.7L443.5 89.2L442.9 89.7L442.4 90.2L441.9 90.7L441.2 91.2L440.6 91.6L440.1 91.9L439.5 92.2L438.6 92.6L438.0 92.7L437.1 92.8L436.1 92.7L435.6 92.6L434.6 92.3L434.1 92.1L433.5 91.7L432.8 91.2L432.2 90.7L431.7 90.2L431.3 89.7L431.0 89.2L430.6 88.6L430.2 87.7L429.9 87.2L429.6 86.2L429.5 85.7L429.4 84.7L429.4 83.7L429.4 82.7L429.4 81.7L429.6 80.8L429.7 80.2L430.1 79.2L430.3 78.7L430.6 78.0L431.0 77.2L431.4 76.7L431.8 76.2L432.2 75.7L432.7 75.2L433.3 74.7L434.1 74.2L434.6 74.0L435.4 73.7L436.1 73.5L437.1 73.4L438.1 73.5L439.1 73.7L439.6 73.8L440.6 74.2L441.1 74.3L442.1 74.6L443.1 74.5L443.6 74.1L444.1 73.5L444.6 73.0L445.1 72.5L445.6 72.2L446.3 71.7L447.1 71.2L447.6 71.0L448.5 70.7ZM472.7 34.2L473.6 34.1L474.6 34.0L475.6 34.0L476.6 34.0L477.6 34.1L478.6 34.2L479.1 34.3L480.1 34.5L480.6 34.7L481.6 35.1L482.1 35.3L483.0 35.7L483.6 36.0L484.1 36.3L484.7 36.7L485.4 37.2L485.9 37.7L486.4 38.2L486.8 38.7L487.2 39.2L487.6 39.8L488.1 40.7L488.3 41.2L488.6 42.0L488.8 42.7L489.0 43.7L489.0 44.7L488.9 45.7L488.7 46.7L488.6 47.2L488.2 48.2L487.9 48.7L487.6 49.2L487.1 50.0L486.6 50.6L486.1 51.1L485.6 51.6L485.1 52.0L484.6 52.4L484.1 52.7L483.3 53.2L482.6 53.6L482.1 53.8L481.1 54.2L480.6 54.4L479.6 54.7L479.1 54.8L478.1 55.0L477.1 55.2L476.6 55.3L475.6 55.4L474.6 55.6L473.6 55.7L473.1 55.8L472.1 56.0L471.1 56.2L470.6 56.2L469.6 56.4L468.6 56.6L467.6 56.7L467.1 56.8L466.1 56.8L465.1 56.9L464.1 56.9L463.1 56.8L462.2 56.7L461.6 56.6L460.6 56.4L459.7 56.2L459.1 56.1L458.1 55.7L457.6 55.5L456.7 55.2L456.1 54.9L455.6 54.7L454.8 54.2L454.1 53.8L453.6 53.4L453.1 53.0L452.6 52.6L452.1 52.2L451.6 51.7L451.1 51.1L450.6 50.4L450.2 49.7L450.0 49.2L449.6 48.3L449.4 47.7L449.2 46.7L449.2 45.7L449.3 44.7L449.6 43.8L449.8 43.2L450.1 42.5L450.5 41.7L450.9 41.2L451.2 40.7L451.6 40.2L452.1 39.7L452.6 39.2L453.2 38.7L453.8 38.2L454.5 37.7L455.1 37.3L455.6 37.0L456.2 36.7L457.1 36.2L457.6 36.0L458.6 35.7L459.1 35.6L460.1 35.3L460.8 35.2L461.6 35.1L462.6 34.9L463.6 34.8L464.6 34.7L465.6 34.7L466.1 34.7L467.1 34.7L468.1 34.6L469.1 34.5L470.1 34.4L471.1 34.3L472.1 34.2L472.7 34.2ZM435.3 46.7L436.1 46.4L437.1 46.2L438.1 46.3L439.1 46.7L439.6 46.9L440.1 47.2L440.8 47.7L441.2 48.2L441.6 49.2L441.7 49.7L441.7 50.7L441.6 51.2L441.2 52.2L441.0 52.7L440.6 53.2L440.1 53.7L439.3 54.2L438.6 54.5L437.6 54.6L436.6 54.4L436.1 54.2L435.2 53.7L434.6 53.2L434.2 52.7L433.8 52.2L433.6 51.7L433.4 50.7L433.4 49.7L433.6 49.0L433.9 48.2L434.2 47.7L434.7 47.2L435.3 46.7ZM449.6 68.7L450.1 68.6L451.1 68.7L451.6 68.8L452.6 69.0L453.1 69.2L454.1 69.6L454.6 69.8L455.6 70.2L456.1 70.3L457.1 70.5L458.1 70.4L459.1 70.2L459.6 70.1L460.6 69.8L461.3 69.7L462.1 69.6L463.1 69.4L464.1 69.3L465.1 69.2L466.1 69.2L467.1 69.3L468.1 69.5L468.7 69.7L469.6 70.0L470.1 70.2L471.1 70.6L471.6 70.8L472.3 71.2L473.1 71.7L473.6 72.0L474.1 72.3L474.6 72.7L475.2 73.2L475.8 73.7L476.3 74.2L476.8 74.7L477.2 75.2L477.6 75.7L478.1 76.5L478.5 77.2L478.8 77.7L479.1 78.3L479.5 79.2L479.6 79.7L479.8 80.7L479.9 81.7L479.9 82.7L479.8 83.7L479.6 84.5L479.4 85.2L479.1 86.0L478.7 86.7L478.4 87.2L478.1 87.7L477.6 88.4L477.1 89.1L476.6 89.7L476.1 90.2L475.6 90.6L475.1 91.0L474.6 91.4L474.0 91.7L473.2 92.2L472.6 92.5L472.1 92.8L471.1 93.2L470.6 93.4L469.6 93.7L469.1 93.9L468.1 94.1L467.4 94.2L466.6 94.3L465.6 94.4L464.6 94.4L463.6 94.4L462.6 94.3L461.8 94.2L461.1 94.1L460.1 93.8L459.6 93.7L458.6 93.4L458.1 93.2L457.1 92.8L456.6 92.6L455.8 92.2L455.1 91.9L454.4 91.7L453.6 91.5L452.6 91.3L451.9 91.2L451.1 91.1L450.1 90.9L449.3 90.7L448.6 90.5L447.7 90.2L447.1 90.0L446.2 89.7L445.6 89.6L444.9 89.7L444.1 90.1L443.6 90.5L443.1 90.9L442.6 91.3L442.1 91.7L441.5 92.2L440.9 92.7L440.1 93.2L439.6 93.4L438.9 93.7L438.1 93.9L437.1 94.0L436.1 93.9L435.2 93.7L434.6 93.5L434.0 93.2L433.1 92.7L432.6 92.3L432.1 91.9L431.6 91.4L431.1 90.8L430.6 90.2L430.3 89.7L430.0 89.2L429.6 88.4L429.3 87.7L429.1 87.0L428.9 86.2L428.8 85.2L428.7 84.2L428.7 83.2L428.7 82.2L428.8 81.2L429.1 80.2L429.2 79.7L429.5 78.7L429.7 78.2L430.1 77.5L430.5 76.7L430.9 76.2L431.2 75.7L431.7 75.2L432.1 74.7L432.7 74.2L433.4 73.7L434.1 73.3L434.6 73.1L435.6 72.7L436.1 72.6L437.1 72.5L438.1 72.5L439.1 72.7L439.6 72.8L440.6 73.0L441.4 73.2L442.1 73.2L442.6 73.1L443.4 72.7L444.0 72.2L444.6 71.7L445.1 71.2L445.6 70.8L446.1 70.4L446.6 70.0L447.1 69.7L447.9 69.2L448.6 68.9L449.6 68.7Z" stroke="#000" stroke-width="0.8" fill="none" stroke-linejoin="round"/>
<line x1="446" y1="153.3" x2="446" y2="271.7" stroke="#787878" stroke-width="1.3"/>
<line x1="388" y1="195.5" x2="501.6" y2="195.5" stroke="#787878" stroke-width="1.3"/>
<line x1="387.5" y1="153.3" x2="502.1" y2="153.3" stroke="#707070" stroke-width="1"/>
<line x1="501.6" y1="153.3" x2="501.6" y2="272.2" stroke="#484848" stroke-width="1"/>
<line x1="387.5" y1="271.7" x2="501.6" y2="271.7" stroke="#888" stroke-width="1"/>
<line x1="388" y1="153.3" x2="388" y2="271.7" stroke="#a8a8a8" stroke-width="1"/>
<path d="M388.0 271.7v1.6M388 271.7h-1.5M396.5 271.7v1.6M388 262.8h-1.5M401.6 271.7v1.6M388 257.6h-1.5M405.1 271.7v1.6M388 253.9h-1.5M407.9 271.7v1.6M388 251.0h-1.5M410.1 271.7v1.6M388 248.7h-1.5M412.0 271.7v1.6M388 246.7h-1.5M413.6 271.7v1.6M388 245.0h-1.5M415.1 271.7v1.6M388 243.5h-1.5M424.9 271.7v1.6M388 233.2h-1.5M430.0 271.7v1.6M388 228.0h-1.5M433.5 271.7v1.6M388 224.3h-1.5M436.3 271.7v1.6M388 221.4h-1.5M438.5 271.7v1.6M388 219.1h-1.5M440.4 271.7v1.6M388 217.1h-1.5M442.0 271.7v1.6M388 215.4h-1.5M443.5 271.7v1.6M388 213.9h-1.5M453.3 271.7v1.6M388 203.6h-1.5M458.4 271.7v1.6M388 198.4h-1.5M461.9 271.7v1.6M388 194.7h-1.5M464.7 271.7v1.6M388 191.8h-1.5M466.9 271.7v1.6M388 189.5h-1.5M468.8 271.7v1.6M388 187.5h-1.5M470.4 271.7v1.6M388 185.8h-1.5M471.9 271.7v1.6M388 184.3h-1.5M481.7 271.7v1.6M388 174.0h-1.5M486.8 271.7v1.6M388 168.8h-1.5M490.3 271.7v1.6M388 165.1h-1.5M493.1 271.7v1.6M388 162.2h-1.5M495.3 271.7v1.6M388 159.9h-1.5M497.2 271.7v1.6M388 157.9h-1.5M498.8 271.7v1.6M388 156.2h-1.5M500.3 271.7v1.6M388 154.7h-1.5" stroke="#222" stroke-width="0.65" fill="none"/>
<path d="M416.4 271.7v2.6M388 242.1h-2.4M444.8 271.7v2.6M388 212.5h-2.4M473.2 271.7v2.6M388 182.9h-2.4" stroke="#222" stroke-width="1.1" fill="none"/>
<path d="M450.6 164.3L451.5 164.2L452.5 164.2L453.5 164.2L454.5 164.3L455.0 164.3L456.0 164.4L457.0 164.5L458.0 164.7L458.6 164.8L459.5 164.9L460.5 165.1L461.5 165.3L462.0 165.3L463.0 165.5L464.0 165.6L465.0 165.8L465.5 165.8L466.5 166.0L467.5 166.2L468.0 166.3L469.0 166.6L469.6 166.8L470.5 167.1L471.1 167.3L472.0 167.7L472.5 167.9L473.3 168.3L474.0 168.6L474.5 168.9L475.3 169.3L476.0 169.7L476.5 170.0L477.1 170.3L477.9 170.8L478.5 171.2L479.0 171.6L479.5 171.9L480.0 172.4L480.5 172.8L481.0 173.4L481.5 173.9L482.0 174.5L482.5 175.2L482.9 175.8L483.2 176.3L483.5 176.9L483.9 177.8L484.1 178.3L484.3 179.3L484.5 180.3L484.5 180.8L484.6 181.8L484.6 182.8L484.5 183.5L484.4 184.3L484.1 185.3L483.9 185.8L483.5 186.8L483.2 187.3L482.9 187.8L482.5 188.5L482.0 189.1L481.5 189.7L481.0 190.2L480.5 190.7L480.0 191.1L479.5 191.4L478.8 191.8L478.0 192.2L477.5 192.4L476.5 192.8L476.0 192.9L475.0 193.2L474.5 193.3L473.5 193.6L472.5 193.8L472.0 193.9L471.0 194.1L470.0 194.3L469.5 194.4L468.5 194.5L467.5 194.6L466.5 194.7L465.5 194.8L464.9 194.8L464.0 194.8L463.0 194.8L462.5 194.8L461.5 194.7L460.5 194.5L459.5 194.3L459.0 194.2L458.0 194.0L457.0 193.8L456.5 193.7L455.5 193.5L454.7 193.3L454.0 193.1L453.0 192.9L452.5 192.8L451.5 192.6L450.5 192.5L449.5 192.5L448.5 192.6L447.5 192.8L447.0 193.0L446.1 193.3L445.5 193.6L445.0 194.0L444.5 194.4L444.0 195.1L443.9 195.8L443.9 196.8L444.0 197.4L444.2 198.3L444.4 199.3L444.6 199.8L445.0 200.5L445.5 200.9L446.1 201.3L447.0 201.7L447.5 201.9L448.5 202.1L449.5 202.2L450.5 202.3L451.5 202.2L452.5 202.2L453.5 202.1L454.5 202.1L455.5 202.1L456.5 202.2L457.2 202.3L458.0 202.5L459.0 202.8L459.5 203.0L460.2 203.3L461.0 203.8L461.5 204.1L462.0 204.4L462.5 204.8L463.0 205.3L463.5 205.8L464.0 206.3L464.5 206.9L465.0 207.4L465.5 207.9L466.0 208.3L467.0 208.6L468.0 208.5L468.7 208.3L469.5 208.1L470.5 207.9L471.1 207.8L472.0 207.7L473.0 207.7L473.8 207.8L474.5 207.9L475.5 208.2L476.0 208.3L476.9 208.8L477.5 209.2L478.0 209.7L478.3 210.3L478.5 211.3L478.1 212.3L477.6 212.8L477.0 213.2L476.5 213.5L475.7 213.8L475.0 214.0L474.0 214.2L473.3 214.3L472.5 214.3L471.5 214.3L471.0 214.3L470.0 214.2L469.0 214.2L468.3 214.3L467.7 214.8L467.5 215.3L467.3 216.3L467.2 217.3L467.0 218.1L466.9 218.8L466.6 219.8L466.4 220.3L466.0 221.3L465.8 221.8L465.5 222.3L465.0 223.1L464.5 223.8L464.1 224.3L463.7 224.8L463.2 225.3L462.6 225.8L462.0 226.3L461.5 226.7L461.0 227.0L460.5 227.3L459.6 227.8L459.0 228.1L458.4 228.3L457.5 228.6L456.5 228.8L456.0 228.8L455.0 228.9L454.0 229.0L453.0 229.0L452.0 229.0L451.0 229.0L450.0 229.1L449.1 229.3L448.5 229.6L448.0 229.8L447.2 230.3L446.5 230.7L446.0 231.0L445.5 231.3L444.5 231.8L444.0 232.1L443.5 232.3L442.5 232.7L442.0 232.9L441.0 233.2L440.5 233.4L439.5 233.7L439.0 233.9L438.0 234.1L437.2 234.3L436.5 234.5L435.5 234.7L434.7 234.8L434.0 234.9L433.0 235.1L432.0 235.3L431.5 235.4L430.5 235.7L429.9 235.8L429.0 236.0L428.0 236.3L427.5 236.4L426.5 236.5L425.5 236.7L424.6 236.8L424.0 236.9L423.0 236.9L422.0 236.9L421.0 236.8L420.5 236.8L419.5 236.7L418.5 236.6L417.5 236.4L417.0 236.3L416.0 236.1L415.1 235.8L414.5 235.6L413.5 235.3L413.0 235.2L412.0 234.8L411.5 234.6L410.8 234.3L410.0 233.9L409.5 233.7L408.9 233.3L408.1 232.8L407.5 232.4L407.0 232.0L406.5 231.6L406.0 231.1L405.5 230.6L405.0 230.1L404.5 229.4L404.1 228.8L403.8 228.3L403.5 227.8L403.0 226.9L402.7 226.3L402.5 225.7L402.2 224.8L402.0 223.8L401.9 223.3L401.7 222.3L401.6 221.3L401.5 220.3L401.5 219.8L401.5 218.8L401.5 217.9L401.5 217.3L401.7 216.3L401.9 215.3L402.0 214.8L402.3 213.8L402.5 213.3L403.0 212.3L403.2 211.8L403.5 211.3L404.0 210.5L404.5 209.8L404.9 209.3L405.4 208.8L405.9 208.3L406.4 207.8L407.0 207.3L407.5 207.0L408.0 206.7L408.8 206.3L409.5 206.0L410.1 205.8L411.0 205.6L412.0 205.4L412.7 205.3L413.5 205.3L414.3 205.3L415.0 205.4L416.0 205.6L416.9 205.8L417.5 206.0L418.5 206.2L419.4 206.3L419.6 206.3L420.5 206.1L421.3 205.8L422.0 205.4L422.5 205.1L423.0 204.7L423.6 204.3L424.3 203.8L425.0 203.3L425.5 203.0L426.0 202.6L426.5 202.2L427.0 201.7L427.5 200.8L427.7 200.3L427.8 199.3L428.0 198.5L428.2 197.8L428.5 196.9L428.8 196.3L429.1 195.8L429.5 195.3L430.0 194.7L430.5 194.2L431.0 193.7L431.5 193.2L432.0 192.5L432.1 191.8L432.0 191.2L431.5 190.3L431.2 189.8L430.8 189.3L430.3 188.8L429.8 188.3L429.0 187.8L428.0 188.1L427.5 188.6L427.0 189.2L426.5 189.8L426.1 190.3L425.6 190.8L425.0 191.3L424.5 191.6L424.0 191.9L423.0 192.3L422.5 192.4L421.5 192.6L420.5 192.7L419.5 192.7L418.5 192.5L417.7 192.3L417.0 192.0L416.5 191.8L415.5 191.4L415.0 191.2L414.0 191.1L413.0 191.2L412.0 191.3L411.0 191.2L410.0 190.9L409.5 190.6L409.0 190.1L408.5 189.4L408.3 188.8L408.2 187.8L408.4 186.8L408.6 186.3L409.0 185.8L409.5 185.3L410.3 184.8L411.0 184.5L411.5 184.3L412.5 183.8L412.9 183.3L413.2 182.8L413.3 181.8L413.2 180.8L413.1 179.8L413.0 178.9L412.9 178.3L412.9 177.3L412.9 176.3L413.0 175.6L413.1 174.8L413.5 173.8L413.7 173.3L414.0 172.7L414.5 171.9L415.0 171.3L415.4 170.8L415.9 170.3L416.5 169.8L417.0 169.4L417.5 169.1L418.0 168.8L419.0 168.4L419.5 168.2L420.5 168.0L421.5 167.9L422.5 167.9L423.5 168.0L424.4 168.3L425.0 168.5L425.6 168.8L426.5 169.3L427.0 169.6L427.5 170.0L428.0 170.4L428.6 170.8L429.5 171.3L430.0 171.4L431.0 171.4L431.5 171.2L432.4 170.8L433.0 170.5L433.5 170.2L434.2 169.8L435.0 169.3L435.5 169.1L436.1 168.8L437.0 168.4L437.5 168.2L438.5 167.9L439.0 167.7L440.0 167.4L440.5 167.3L441.5 167.0L442.1 166.8L443.0 166.5L443.6 166.3L444.5 166.0L445.0 165.8L446.0 165.4L446.5 165.3L447.5 165.0L448.2 164.8L449.0 164.6L450.0 164.4L450.6 164.3ZM448.9 165.3L449.5 165.1L450.5 165.0L451.5 164.9L452.5 164.8L453.5 164.8L454.5 164.9L455.5 165.0L456.5 165.1L457.5 165.3L458.0 165.3L459.0 165.5L460.0 165.7L460.8 165.8L461.5 165.9L462.5 166.0L463.5 166.2L464.3 166.3L465.0 166.4L466.0 166.5L467.0 166.8L467.5 166.9L468.5 167.1L469.1 167.3L470.0 167.6L470.6 167.8L471.5 168.2L472.0 168.4L472.9 168.8L473.5 169.1L474.0 169.4L474.9 169.8L475.5 170.1L476.0 170.4L476.7 170.8L477.5 171.3L478.0 171.6L478.5 171.9L479.0 172.3L479.6 172.8L480.2 173.3L480.7 173.8L481.1 174.3L481.5 174.8L482.0 175.4L482.5 176.1L482.9 176.8L483.1 177.3L483.5 178.3L483.7 178.8L483.9 179.8L484.0 180.7L484.1 181.3L484.1 182.3L484.0 183.3L484.0 183.8L483.8 184.8L483.5 185.5L483.2 186.3L482.9 186.8L482.5 187.5L482.0 188.3L481.6 188.8L481.2 189.3L480.7 189.8L480.1 190.3L479.5 190.8L479.0 191.1L478.5 191.4L477.6 191.8L477.0 192.0L476.2 192.3L475.5 192.5L474.5 192.7L474.0 192.9L473.0 193.1L472.0 193.3L471.5 193.4L470.5 193.6L469.5 193.7L469.0 193.8L468.0 193.9L467.0 194.0L466.0 194.1L465.0 194.2L464.0 194.2L463.0 194.2L462.0 194.1L461.0 194.0L460.2 193.8L459.5 193.7L458.5 193.5L457.7 193.3L457.0 193.2L456.0 193.0L455.4 192.8L454.5 192.6L453.5 192.3L453.0 192.2L452.0 192.0L451.0 191.8L450.5 191.8L449.5 191.8L448.8 191.8L448.0 191.9L447.0 192.2L446.5 192.3L445.5 192.7L445.0 192.9L444.2 193.3L443.5 193.7L443.0 194.1L442.5 194.7L442.3 195.3L442.4 196.3L442.6 196.8L442.8 197.8L443.0 198.8L443.1 199.3L443.4 200.3L443.6 200.8L444.1 201.3L444.9 201.8L445.5 202.1L446.2 202.3L447.0 202.5L448.0 202.7L448.5 202.8L449.5 202.9L450.5 203.0L451.5 202.9L452.5 202.8L453.0 202.8L454.0 202.7L455.0 202.7L456.0 202.8L456.5 202.8L457.5 203.0L458.5 203.3L459.0 203.4L459.8 203.8L460.5 204.2L461.0 204.5L461.5 204.8L462.1 205.3L462.7 205.8L463.2 206.3L463.6 206.8L464.1 207.3L464.5 207.8L465.0 208.4L465.5 208.9L466.2 209.3L467.0 209.5L467.7 209.3L468.5 209.0L469.0 208.8L470.0 208.5L470.9 208.3L471.5 208.2L472.5 208.2L473.5 208.2L474.0 208.3L475.0 208.5L475.7 208.8L476.5 209.2L477.0 209.7L477.5 210.3L477.7 210.8L477.5 211.8L477.1 212.3L476.5 212.8L476.0 213.1L475.5 213.3L474.5 213.6L473.6 213.8L473.0 213.9L472.0 213.9L471.0 213.8L470.5 213.7L469.5 213.6L468.5 213.4L467.5 213.7L467.1 214.3L466.9 214.8L466.8 215.8L466.7 216.8L466.5 217.7L466.4 218.3L466.1 219.3L466.0 219.8L465.6 220.8L465.4 221.3L465.0 222.0L464.5 222.8L464.1 223.3L463.7 223.8L463.3 224.3L462.8 224.8L462.3 225.3L461.6 225.8L461.0 226.3L460.5 226.6L460.0 226.9L459.2 227.3L458.5 227.6L457.8 227.8L457.0 228.0L456.0 228.2L455.0 228.2L454.0 228.2L453.0 228.2L452.0 228.1L451.0 228.1L450.0 228.1L449.0 228.2L448.5 228.4L447.7 228.8L447.0 229.3L446.5 229.6L446.0 229.9L445.4 230.3L444.6 230.8L444.0 231.1L443.5 231.4L442.6 231.8L442.0 232.1L441.3 232.3L440.5 232.6L439.9 232.8L439.0 233.1L438.4 233.3L437.5 233.5L436.5 233.8L436.0 233.9L435.0 234.0L434.0 234.2L433.3 234.3L432.5 234.4L431.5 234.6L430.7 234.8L430.0 235.0L429.0 235.2L428.5 235.3L427.5 235.5L426.5 235.7L426.0 235.8L425.0 236.0L424.0 236.1L423.0 236.2L422.0 236.2L421.0 236.2L420.0 236.1L419.0 236.0L418.0 235.8L417.5 235.7L416.5 235.5L415.6 235.3L415.0 235.1L414.0 234.8L413.5 234.7L412.5 234.3L412.0 234.1L411.3 233.8L410.5 233.4L410.0 233.2L409.3 232.8L408.5 232.3L408.0 231.9L407.5 231.6L407.0 231.1L406.5 230.7L406.0 230.2L405.5 229.6L405.0 228.9L404.6 228.3L404.3 227.8L404.0 227.3L403.5 226.3L403.3 225.8L403.0 225.0L402.8 224.3L402.6 223.3L402.5 222.8L402.3 221.8L402.2 220.8L402.1 219.8L402.1 218.8L402.1 217.8L402.2 216.8L402.4 215.8L402.5 215.3L402.8 214.3L403.0 213.8L403.5 212.8L403.7 212.3L404.0 211.8L404.5 211.0L405.0 210.3L405.4 209.8L405.9 209.3L406.4 208.8L406.9 208.3L407.5 207.9L408.0 207.5L408.5 207.2L409.5 206.8L410.0 206.6L411.0 206.3L411.5 206.2L412.5 206.0L413.5 206.0L414.5 206.1L415.5 206.2L416.0 206.4L417.0 206.7L417.5 206.8L418.5 207.1L419.5 207.2L420.5 207.0L421.1 206.8L422.0 206.3L422.5 205.9L423.0 205.6L423.5 205.2L424.1 204.8L424.8 204.3L425.5 203.9L426.0 203.6L426.5 203.3L427.3 202.8L427.9 202.3L428.4 201.8L428.7 201.3L429.0 200.5L429.1 199.8L429.3 198.8L429.5 198.0L429.8 197.3L430.0 196.8L430.5 196.1L431.0 195.5L431.5 195.0L432.0 194.6L432.5 194.2L433.0 193.7L433.5 193.1L433.7 192.3L433.5 191.6L433.0 190.8L432.7 190.3L432.3 189.8L432.0 189.3L431.5 188.7L431.0 188.0L430.5 187.4L430.1 186.8L429.6 186.3L429.1 185.8L428.5 185.4L427.5 185.7L427.0 186.2L426.6 186.8L426.3 187.3L426.0 187.8L425.5 188.5L425.0 189.2L424.5 189.7L424.0 190.1L423.5 190.5L422.9 190.8L422.0 191.1L421.0 191.3L420.5 191.3L419.5 191.3L419.0 191.2L418.0 190.9L417.5 190.7L416.8 190.3L416.0 189.9L415.5 189.7L414.5 189.7L414.0 189.8L413.0 190.2L412.5 190.4L411.5 190.5L410.5 190.3L410.0 190.0L409.5 189.6L409.0 188.8L408.9 188.3L409.0 187.3L409.2 186.8L409.5 186.3L410.1 185.8L411.0 185.4L411.5 185.3L412.5 185.2L413.5 185.0L414.0 184.8L414.5 184.1L414.7 183.3L414.7 182.3L414.6 181.3L414.5 180.3L414.4 179.8L414.3 178.8L414.2 177.8L414.1 176.8L414.2 175.8L414.4 174.8L414.6 174.3L415.0 173.5L415.4 172.8L415.8 172.3L416.2 171.8L416.7 171.3L417.2 170.8L417.9 170.3L418.5 170.0L419.0 169.8L420.0 169.5L421.0 169.3L421.5 169.3L422.5 169.3L423.0 169.3L424.0 169.5L424.7 169.8L425.5 170.2L426.0 170.5L426.5 170.9L427.0 171.3L427.6 171.8L428.2 172.3L428.9 172.8L429.5 173.0L430.5 173.0L431.0 172.8L431.8 172.3L432.5 171.8L433.0 171.4L433.5 171.1L434.0 170.8L434.7 170.3L435.5 169.9L436.0 169.6L436.6 169.3L437.5 168.9L438.0 168.7L439.0 168.4L439.5 168.3L440.5 168.0L441.1 167.8L442.0 167.5L442.7 167.3L443.5 167.0L444.2 166.8L445.0 166.5L445.6 166.3L446.5 166.0L447.1 165.8L448.0 165.5L448.9 165.3ZM449.6 165.8L450.5 165.6L451.5 165.5L452.5 165.5L453.5 165.5L454.5 165.6L455.5 165.7L456.5 165.8L457.0 165.8L458.0 166.0L459.0 166.1L459.9 166.3L460.5 166.4L461.5 166.5L462.5 166.7L463.4 166.8L464.0 166.9L465.0 167.0L466.0 167.2L466.6 167.3L467.5 167.5L468.5 167.8L469.0 167.9L470.0 168.3L470.5 168.4L471.3 168.8L472.0 169.1L472.5 169.3L473.5 169.8L474.0 170.0L474.5 170.3L475.5 170.8L476.0 171.1L476.5 171.3L477.3 171.8L478.0 172.2L478.5 172.6L479.0 173.0L479.5 173.4L480.0 173.9L480.5 174.4L481.0 175.0L481.5 175.6L482.0 176.3L482.3 176.8L482.6 177.3L483.0 178.3L483.1 178.8L483.4 179.8L483.5 180.7L483.6 181.3L483.6 182.3L483.5 183.3L483.5 183.8L483.2 184.8L483.0 185.5L482.6 186.3L482.4 186.8L482.0 187.4L481.5 188.1L481.0 188.7L480.5 189.2L480.0 189.7L479.5 190.1L479.0 190.5L478.4 190.8L477.5 191.3L477.0 191.5L476.0 191.8L475.5 191.9L474.5 192.2L473.9 192.3L473.0 192.5L472.0 192.7L471.2 192.8L470.5 192.9L469.5 193.1L468.5 193.2L468.0 193.3L467.0 193.4L466.0 193.5L465.0 193.6L464.0 193.6L463.0 193.6L462.0 193.5L461.0 193.3L460.5 193.2L459.5 193.0L458.5 192.8L458.0 192.7L457.0 192.5L456.1 192.3L455.5 192.2L454.5 191.9L454.0 191.7L453.0 191.5L452.1 191.3L451.5 191.2L450.5 191.1L449.5 191.1L448.5 191.1L447.5 191.3L447.0 191.4L446.0 191.7L445.5 191.9L444.5 192.3L444.0 192.5L443.1 192.8L442.5 193.0L441.8 193.3L441.0 193.7L440.5 194.1L440.2 194.8L440.5 195.8L440.7 196.3L441.0 196.9L441.3 197.8L441.5 198.4L441.7 199.3L441.8 200.3L442.0 200.9L442.5 201.7L443.0 202.1L443.5 202.3L444.5 202.7L445.0 202.8L446.0 203.0L447.0 203.3L447.5 203.4L448.5 203.5L449.5 203.6L450.5 203.6L451.5 203.6L452.5 203.4L453.5 203.4L454.5 203.3L455.5 203.4L456.5 203.4L457.5 203.6L458.1 203.8L459.0 204.1L459.5 204.3L460.4 204.8L461.0 205.2L461.5 205.6L462.0 206.0L462.5 206.5L463.0 207.0L463.5 207.6L464.0 208.2L464.5 208.8L464.9 209.3L465.4 209.8L465.8 210.3L466.4 210.8L467.0 211.2L467.5 210.8L468.0 210.3L468.6 209.8L469.5 209.3L470.0 209.1L471.0 208.8L471.5 208.8L472.5 208.7L473.5 208.8L474.0 208.9L475.0 209.2L475.5 209.4L476.0 209.8L476.5 210.3L476.7 211.3L476.5 211.8L476.0 212.3L475.2 212.8L474.5 213.1L473.5 213.3L473.0 213.3L472.0 213.4L471.4 213.3L470.5 213.2L469.5 212.9L469.0 212.7L468.1 212.3L467.5 211.9L466.8 212.3L466.5 213.0L466.4 213.8L466.3 214.8L466.2 215.8L466.1 216.8L466.0 217.3L465.8 218.3L465.5 219.3L465.4 219.8L465.0 220.7L464.7 221.3L464.4 221.8L464.0 222.4L463.5 223.1L463.0 223.7L462.5 224.2L462.0 224.7L461.5 225.1L461.0 225.5L460.5 225.9L459.8 226.3L459.0 226.7L458.5 226.9L457.5 227.2L457.0 227.3L456.0 227.5L455.0 227.6L454.0 227.6L453.0 227.5L452.0 227.4L451.5 227.3L450.5 227.2L449.5 227.1L448.5 227.2L448.0 227.4L447.2 227.8L446.5 228.3L446.0 228.7L445.5 229.0L445.0 229.4L444.4 229.8L443.7 230.3L443.0 230.7L442.5 230.9L441.7 231.3L441.0 231.6L440.5 231.8L439.5 232.2L439.0 232.3L438.0 232.7L437.5 232.8L436.5 233.1L435.5 233.2L435.0 233.3L434.0 233.5L433.0 233.6L432.0 233.8L431.5 233.9L430.5 234.0L429.5 234.2L429.0 234.3L428.0 234.6L427.0 234.8L426.5 234.9L425.5 235.1L424.5 235.2L423.9 235.3L423.0 235.4L422.0 235.5L421.0 235.5L420.0 235.4L419.0 235.3L418.5 235.2L417.5 235.1L416.5 234.9L416.0 234.7L415.0 234.5L414.4 234.3L413.5 234.0L413.0 233.8L412.0 233.4L411.5 233.2L410.7 232.8L410.0 232.4L409.5 232.1L409.0 231.8L408.3 231.3L407.7 230.8L407.1 230.3L406.6 229.8L406.2 229.3L405.8 228.8L405.4 228.3L405.0 227.7L404.5 226.8L404.2 226.3L404.0 225.8L403.6 224.8L403.5 224.3L403.2 223.3L403.0 222.3L402.9 221.8L402.8 220.8L402.7 219.8L402.7 218.8L402.7 217.8L402.8 216.8L403.0 216.1L403.2 215.3L403.5 214.4L403.7 213.8L404.0 213.2L404.5 212.3L404.8 211.8L405.1 211.3L405.5 210.8L406.0 210.2L406.5 209.7L407.0 209.2L407.5 208.8L408.1 208.3L409.0 207.8L409.5 207.6L410.2 207.3L411.0 207.1L412.0 206.9L412.5 206.8L413.5 206.7L414.2 206.8L415.0 206.9L416.0 207.2L416.5 207.3L417.5 207.7L418.0 207.8L419.0 208.0L420.0 208.1L420.9 207.8L421.5 207.5L422.0 207.2L422.6 206.8L423.2 206.3L423.9 205.8L424.5 205.3L425.0 205.0L425.5 204.7L426.3 204.3L427.0 203.9L427.5 203.7L428.2 203.3L428.9 202.8L429.5 202.3L430.0 201.8L430.3 201.3L430.5 200.8L430.7 199.8L430.9 198.8L431.0 198.3L431.5 197.3L431.8 196.8L432.3 196.3L432.8 195.8L433.5 195.3L434.0 195.0L434.5 194.7L435.2 194.3L435.8 193.8L435.8 192.8L435.5 192.3L435.0 191.7L434.5 191.1L434.0 190.6L433.5 190.0L433.0 189.4L432.5 188.8L432.1 188.3L431.8 187.8L431.4 187.3L431.0 186.6L430.5 185.8L430.2 185.3L430.0 184.8L429.5 184.0L429.0 183.3L428.5 182.8L428.0 182.5L427.1 182.8L426.5 183.3L426.0 183.8L425.7 184.3L425.3 184.8L425.0 185.4L424.5 186.3L424.2 186.8L423.9 187.3L423.5 187.9L423.0 188.4L422.5 188.8L421.5 189.2L421.0 189.3L420.0 189.4L419.3 189.3L418.5 189.0L418.0 188.7L417.5 188.1L417.0 187.3L416.8 186.8L416.7 185.8L416.6 184.8L416.6 183.8L416.5 182.8L416.4 182.3L416.2 181.3L416.0 180.4L415.9 179.8L415.7 178.8L415.6 177.8L415.6 176.8L415.6 175.8L415.9 174.8L416.1 174.3L416.5 173.7L417.0 173.0L417.5 172.5L418.0 172.0L418.5 171.6L419.1 171.3L420.0 171.0L421.0 170.8L421.5 170.8L422.0 170.8L423.0 170.9L424.0 171.2L424.5 171.4L425.3 171.8L425.9 172.3L426.5 172.8L427.0 173.3L427.4 173.8L427.8 174.3L428.3 174.8L429.0 175.2L430.0 175.0L430.5 174.7L431.0 174.3L431.5 173.8L432.0 173.3L432.6 172.8L433.2 172.3L433.8 171.8L434.5 171.3L435.0 170.9L435.5 170.6L436.1 170.3L437.0 169.8L437.5 169.6L438.4 169.3L439.0 169.1L440.0 168.8L440.5 168.6L441.5 168.4L442.0 168.2L443.0 167.9L443.5 167.7L444.5 167.4L445.0 167.2L446.0 166.9L446.5 166.7L447.5 166.4L448.0 166.2L449.0 165.9L449.6 165.8ZM410.5 186.8L411.0 186.5L412.0 186.5L412.8 186.8L413.3 187.3L413.3 188.3L412.9 188.8L412.2 189.3L411.5 189.5L410.7 189.3L410.1 188.8L409.9 188.3L410.0 187.4L410.5 186.8ZM450.3 166.3L451.0 166.2L452.0 166.1L453.0 166.1L454.0 166.1L455.0 166.2L455.6 166.3L456.5 166.4L457.5 166.5L458.5 166.7L459.2 166.8L460.0 166.9L461.0 167.1L462.0 167.2L462.6 167.3L463.5 167.4L464.5 167.5L465.5 167.7L466.1 167.8L467.0 168.0L468.0 168.3L468.5 168.4L469.5 168.7L470.0 168.9L470.9 169.3L471.5 169.5L472.1 169.8L473.0 170.2L473.5 170.5L474.2 170.8L475.0 171.2L475.5 171.4L476.2 171.8L477.0 172.3L477.5 172.6L478.0 172.9L478.6 173.3L479.2 173.8L479.7 174.3L480.2 174.8L480.6 175.3L481.0 175.8L481.5 176.5L482.0 177.3L482.3 177.8L482.5 178.4L482.8 179.3L483.0 180.3L483.1 180.8L483.1 181.8L483.1 182.8L483.0 183.6L482.9 184.3L482.6 185.3L482.4 185.8L482.0 186.5L481.5 187.3L481.1 187.8L480.7 188.3L480.2 188.8L479.7 189.3L479.1 189.8L478.5 190.2L478.0 190.5L477.3 190.8L476.5 191.1L475.8 191.3L475.0 191.5L474.0 191.7L473.5 191.8L472.5 192.0L471.5 192.2L470.6 192.3L470.0 192.4L469.0 192.6L468.0 192.7L467.1 192.8L466.5 192.9L465.5 192.9L464.5 193.0L463.5 193.0L462.5 192.9L461.7 192.8L461.0 192.7L460.0 192.5L459.0 192.3L458.5 192.2L457.5 192.0L456.6 191.8L456.0 191.7L455.0 191.4L454.5 191.2L453.5 191.0L452.8 190.8L452.0 190.7L451.0 190.5L450.0 190.4L449.0 190.4L448.0 190.5L447.0 190.7L446.5 190.9L445.5 191.2L445.0 191.4L444.0 191.7L443.5 191.8L442.5 192.1L441.7 192.3L441.0 192.5L440.0 192.6L439.0 192.6L438.0 192.4L437.5 192.2L436.8 191.8L436.1 191.3L435.5 190.9L435.0 190.5L434.5 190.0L434.0 189.5L433.5 189.0L433.0 188.4L432.6 187.8L432.2 187.3L431.9 186.8L431.5 186.1L431.1 185.3L430.9 184.8L430.5 183.8L430.3 183.3L430.0 182.4L429.8 181.8L429.6 180.8L429.6 179.8L429.7 178.8L430.0 177.9L430.2 177.3L430.5 176.8L431.0 176.0L431.5 175.3L431.8 174.8L432.2 174.3L432.7 173.8L433.1 173.3L433.7 172.8L434.2 172.3L434.9 171.8L435.5 171.4L436.0 171.1L436.5 170.8L437.5 170.3L438.0 170.1L438.8 169.8L439.5 169.6L440.5 169.3L441.0 169.1L442.0 168.9L442.5 168.7L443.5 168.4L444.0 168.2L445.0 167.9L445.5 167.7L446.5 167.3L447.0 167.2L448.0 166.9L448.5 166.7L449.5 166.5L450.3 166.3ZM419.9 172.8L420.5 172.6L421.5 172.5L422.5 172.7L423.0 172.8L424.0 173.2L424.5 173.5L425.0 173.9L425.5 174.5L425.9 175.3L426.2 175.8L426.5 176.8L426.6 177.3L426.7 178.3L426.5 179.3L426.3 179.8L426.0 180.3L425.5 181.1L425.0 181.6L424.5 182.1L424.0 182.6L423.5 183.1L423.0 183.5L422.5 183.9L422.0 184.3L421.0 184.8L420.5 184.8L420.0 184.6L419.5 183.9L419.2 183.3L418.9 182.8L418.5 182.1L418.1 181.3L417.9 180.8L417.6 179.8L417.5 179.3L417.3 178.3L417.2 177.3L417.2 176.3L417.5 175.3L417.7 174.8L418.0 174.3L418.5 173.7L419.0 173.3L419.9 172.8ZM435.8 196.3L436.5 196.2L437.5 196.2L438.0 196.4L438.6 196.8L439.1 197.3L439.5 197.8L439.9 198.8L440.0 199.8L440.0 200.3L440.1 201.3L440.5 202.2L441.0 202.6L441.5 202.8L442.5 203.1L443.4 203.3L444.0 203.4L445.0 203.6L446.0 203.8L446.5 203.9L447.5 204.0L448.5 204.2L449.5 204.3L450.5 204.3L451.5 204.2L452.5 204.1L453.5 203.9L454.5 203.9L455.5 203.9L456.5 204.0L457.5 204.2L458.0 204.4L459.0 204.8L459.5 205.0L460.1 205.3L460.8 205.8L461.5 206.3L462.0 206.8L462.5 207.3L462.9 207.8L463.3 208.3L463.7 208.8L464.1 209.3L464.5 209.9L465.0 210.7L465.3 211.3L465.5 212.0L465.6 212.8L465.7 213.8L465.7 214.8L465.6 215.8L465.5 216.8L465.5 217.3L465.3 218.3L465.0 219.1L464.8 219.8L464.5 220.4L464.0 221.3L463.7 221.8L463.4 222.3L463.0 222.8L462.5 223.4L462.0 223.9L461.5 224.4L461.0 224.8L460.3 225.3L459.5 225.8L459.0 226.0L458.3 226.3L457.5 226.6L456.5 226.8L456.0 226.9L455.0 226.9L454.0 226.9L453.0 226.8L452.5 226.7L451.5 226.6L450.5 226.3L450.0 226.3L449.0 226.2L448.0 226.3L447.5 226.4L446.7 226.8L446.0 227.3L445.5 227.7L445.0 228.1L444.5 228.5L444.0 228.9L443.5 229.3L442.8 229.8L442.0 230.3L441.5 230.5L440.9 230.8L440.0 231.2L439.5 231.4L438.5 231.8L438.0 231.9L437.0 232.2L436.5 232.4L435.5 232.6L434.5 232.7L433.9 232.8L433.0 232.9L432.0 233.1L431.0 233.2L430.3 233.3L429.5 233.4L428.5 233.6L427.6 233.8L427.0 233.9L426.0 234.1L425.0 234.3L424.5 234.4L423.5 234.5L422.5 234.6L421.5 234.7L420.5 234.7L419.5 234.6L418.5 234.5L417.5 234.4L417.0 234.3L416.0 234.1L415.1 233.8L414.5 233.6L413.5 233.3L413.0 233.1L412.3 232.8L411.5 232.4L411.0 232.2L410.3 231.8L409.5 231.3L409.0 231.0L408.5 230.6L408.0 230.2L407.5 229.7L407.0 229.2L406.5 228.7L406.0 228.0L405.6 227.3L405.3 226.8L405.0 226.3L404.5 225.3L404.3 224.8L404.0 224.0L403.8 223.3L403.6 222.3L403.5 221.4L403.4 220.8L403.3 219.8L403.3 218.8L403.3 217.8L403.5 216.8L403.5 216.3L403.8 215.3L404.0 214.7L404.4 213.8L404.6 213.3L405.0 212.6L405.5 211.9L405.9 211.3L406.4 210.8L406.8 210.3L407.3 209.8L407.9 209.3L408.5 208.9L409.0 208.6L409.6 208.3L410.5 207.9L411.0 207.8L412.0 207.6L413.0 207.5L414.0 207.5L415.0 207.7L415.5 207.8L416.5 208.1L417.0 208.3L418.0 208.6L418.6 208.8L419.5 208.9L420.5 208.8L421.0 208.7L421.6 208.3L422.4 207.8L423.0 207.3L423.5 206.9L424.0 206.5L424.5 206.1L425.0 205.8L425.8 205.3L426.5 204.9L427.0 204.7L427.9 204.3L428.5 204.0L429.0 203.8L430.0 203.3L430.5 203.0L431.0 202.7L431.6 202.3L432.0 201.8L432.4 200.8L432.5 200.0L432.6 199.3L432.9 198.3L433.2 197.8L433.7 197.3L434.5 196.8L435.0 196.5L435.8 196.3ZM472.5 209.3L472.5 209.3L473.5 209.4L474.5 209.8L475.0 210.1L475.5 210.7L475.5 211.3L475.2 211.8L474.5 212.3L474.0 212.5L473.0 212.7L472.0 212.7L471.0 212.6L470.1 212.3L469.5 211.9L469.1 211.3L469.5 210.3L470.0 209.9L470.5 209.7L471.5 209.4L472.5 209.3ZM450.9 166.8L451.5 166.7L452.5 166.7L453.5 166.7L454.5 166.8L455.0 166.8L456.0 166.9L457.0 167.1L458.0 167.2L458.7 167.3L459.5 167.4L460.5 167.6L461.5 167.7L462.1 167.8L463.0 167.9L464.0 168.0L465.0 168.2L465.7 168.3L466.5 168.4L467.5 168.7L468.0 168.8L469.0 169.1L469.5 169.3L470.5 169.7L471.0 169.9L471.8 170.3L472.5 170.6L473.0 170.9L474.0 171.3L474.5 171.5L475.0 171.8L476.0 172.3L476.5 172.6L477.0 172.9L477.7 173.3L478.4 173.8L479.0 174.3L479.5 174.8L480.0 175.3L480.4 175.8L480.8 176.3L481.2 176.8L481.5 177.4L482.0 178.3L482.2 178.8L482.4 179.8L482.5 180.3L482.7 181.3L482.7 182.3L482.6 183.3L482.5 183.9L482.3 184.8L482.0 185.5L481.6 186.3L481.3 186.8L480.9 187.3L480.5 187.8L480.0 188.4L479.5 188.9L479.0 189.3L478.2 189.8L477.5 190.2L477.0 190.4L476.0 190.7L475.5 190.9L474.5 191.1L473.5 191.3L473.0 191.4L472.0 191.5L471.0 191.7L470.3 191.8L469.5 191.9L468.5 192.1L467.5 192.2L466.5 192.3L466.0 192.3L465.0 192.4L464.0 192.4L463.0 192.4L462.4 192.3L461.5 192.2L460.5 192.0L459.5 191.8L459.0 191.7L458.0 191.5L457.0 191.3L456.5 191.2L455.5 190.9L455.0 190.8L454.0 190.5L453.2 190.3L452.5 190.2L451.5 190.0L450.5 189.9L449.6 189.8L449.4 189.8L448.5 189.8L447.5 190.0L446.5 190.2L446.0 190.4L445.0 190.7L444.5 190.9L443.5 191.2L442.9 191.3L442.0 191.5L441.0 191.7L440.0 191.7L439.0 191.7L438.0 191.4L437.5 191.2L436.7 190.8L436.0 190.4L435.5 190.0L435.0 189.6L434.5 189.1L434.0 188.6L433.5 188.0L433.0 187.4L432.6 186.8L432.3 186.3L432.0 185.7L431.6 184.8L431.4 184.3L431.1 183.3L431.0 182.8L430.8 181.8L430.7 180.8L430.7 179.8L430.9 178.8L431.0 178.3L431.4 177.3L431.6 176.8L432.0 176.0L432.4 175.3L432.8 174.8L433.1 174.3L433.6 173.8L434.1 173.3L434.6 172.8L435.3 172.3L436.0 171.8L436.5 171.5L437.0 171.2L437.8 170.8L438.5 170.5L439.1 170.3L440.0 170.0L440.9 169.8L441.5 169.6L442.5 169.3L443.0 169.2L444.0 168.9L444.5 168.7L445.5 168.3L446.0 168.1L446.9 167.8L447.5 167.6L448.5 167.3L449.0 167.2L450.0 166.9L450.9 166.8ZM420.0 175.3L421.0 174.9L422.0 175.1L422.5 175.5L423.0 176.2L423.2 176.8L423.2 177.8L423.0 178.3L422.5 178.8L421.5 179.2L420.5 179.0L420.0 178.6L419.6 177.8L419.5 177.3L419.5 176.3L419.7 175.8L420.0 175.3ZM434.4 202.8L435.0 202.6L436.0 202.6L436.6 202.8L437.5 203.0L438.3 203.3L439.0 203.5L440.0 203.7L440.8 203.8L441.5 203.9L442.5 204.0L443.5 204.1L444.5 204.2L445.3 204.3L446.0 204.4L447.0 204.6L448.0 204.7L448.6 204.8L449.5 204.9L450.5 204.9L451.2 204.8L452.0 204.7L453.0 204.6L454.0 204.5L455.0 204.5L456.0 204.5L457.0 204.7L457.5 204.8L458.5 205.2L459.0 205.4L459.8 205.8L460.5 206.3L461.0 206.6L461.5 207.1L462.0 207.6L462.5 208.1L463.0 208.8L463.4 209.3L463.7 209.8L464.1 210.3L464.5 211.2L464.7 211.8L465.0 212.8L465.0 213.3L465.1 214.3L465.2 215.3L465.1 216.3L465.0 217.0L464.9 217.8L464.6 218.8L464.4 219.3L464.0 220.2L463.7 220.8L463.4 221.3L463.0 221.9L462.5 222.6L462.0 223.1L461.5 223.6L461.0 224.1L460.5 224.5L460.0 224.8L459.2 225.3L458.5 225.6L458.0 225.8L457.0 226.1L456.0 226.3L455.5 226.3L454.5 226.3L454.0 226.3L453.0 226.2L452.0 226.0L451.2 225.8L450.5 225.6L449.5 225.4L449.0 225.3L448.0 225.3L447.5 225.4L446.5 225.7L446.0 226.0L445.5 226.4L445.0 226.8L444.4 227.3L443.9 227.8L443.3 228.3L442.6 228.8L442.0 229.3L441.5 229.6L441.0 229.9L440.2 230.3L439.5 230.6L439.0 230.8L438.0 231.2L437.5 231.4L436.5 231.7L436.0 231.8L435.0 232.0L434.0 232.1L433.0 232.3L432.5 232.3L431.5 232.5L430.5 232.6L429.5 232.7L428.6 232.8L428.0 232.9L427.0 233.1L426.0 233.2L425.4 233.3L424.5 233.4L423.5 233.6L422.5 233.8L422.0 233.8L421.0 233.9L420.0 233.9L419.0 233.8L418.5 233.8L417.5 233.7L416.5 233.5L415.8 233.3L415.0 233.1L414.1 232.8L413.5 232.6L412.8 232.3L412.0 231.9L411.5 231.7L410.8 231.3L410.0 230.8L409.5 230.5L409.0 230.2L408.5 229.8L408.0 229.3L407.5 228.8L407.0 228.2L406.5 227.6L406.0 226.8L405.7 226.3L405.4 225.8L405.0 224.9L404.7 224.3L404.5 223.6L404.3 222.8L404.1 221.8L404.0 220.9L403.9 220.3L403.9 219.3L403.9 218.3L404.0 217.3L404.0 216.8L404.2 215.8L404.5 215.0L404.8 214.3L405.0 213.8L405.5 213.0L406.0 212.3L406.3 211.8L406.8 211.3L407.2 210.8L407.7 210.3L408.3 209.8L409.0 209.3L409.5 209.1L410.1 208.8L411.0 208.5L411.7 208.3L412.5 208.2L413.5 208.2L414.5 208.3L415.0 208.4L416.0 208.7L416.5 208.8L417.5 209.2L418.0 209.4L419.0 209.7L420.0 209.8L421.0 209.5L421.5 209.2L422.1 208.8L422.8 208.3L423.4 207.8L424.0 207.3L424.5 206.9L425.0 206.5L425.5 206.2L426.2 205.8L427.0 205.4L427.5 205.1L428.4 204.8L429.0 204.5L429.7 204.3L430.5 204.0L431.0 203.8L432.0 203.5L432.7 203.3L433.5 203.0L434.4 202.8ZM471.4 210.3L472.0 210.2L473.0 210.2L473.5 210.4L473.9 211.3L473.2 211.8L472.5 211.9L471.5 211.8L471.0 211.5L470.8 210.8L471.4 210.3ZM462.8 178.3L463.5 178.2L464.5 178.3L465.0 178.4L465.7 178.8L466.3 179.3L466.6 179.8L466.7 180.8L466.4 181.3L466.0 181.8L465.2 182.3L464.5 182.5L463.5 182.5L462.5 182.3L462.0 182.1L461.4 181.8L460.8 181.3L460.4 180.8L460.4 179.8L460.7 179.3L461.4 178.8L462.0 178.5L462.8 178.3ZM460.4 177.8L461.0 177.7L462.0 177.5L463.0 177.3L464.0 177.4L465.0 177.5L465.7 177.8L466.5 178.2L467.0 178.6L467.5 179.1L468.0 179.7L468.2 180.3L468.1 181.3L467.8 181.8L467.3 182.3L466.5 182.8L466.0 183.0L465.0 183.3L464.5 183.3L463.5 183.3L463.0 183.3L462.0 183.1L461.2 182.8L460.5 182.5L460.0 182.2L459.4 181.8L458.8 181.3L458.2 180.8L457.7 180.3L457.3 179.8L457.5 178.9L458.0 178.6L458.7 178.3L459.5 178.1L460.4 177.8ZM431.5 215.3L432.0 215.1L433.0 215.0L433.8 215.3L434.4 215.8L434.7 216.3L434.8 217.3L434.5 218.2L434.0 218.8L433.5 219.1L433.0 219.3L432.2 219.3L431.5 219.0L431.0 218.5L430.6 217.8L430.5 217.3L430.5 216.7L430.9 215.8L431.5 215.3ZM453.9 176.8L454.5 176.6L455.5 176.6L456.5 176.7L457.5 176.7L458.5 176.7L459.5 176.6L460.5 176.5L461.5 176.5L462.5 176.5L463.5 176.5L464.5 176.6L465.4 176.8L466.0 177.0L466.6 177.3L467.5 177.8L468.0 178.1L468.5 178.5L469.0 178.9L469.5 179.4L470.0 180.0L470.5 180.6L470.8 181.3L470.5 181.9L470.0 182.3L469.1 182.8L468.5 183.0L467.9 183.3L467.0 183.7L466.5 183.8L465.5 184.1L464.5 184.2L463.5 184.1L462.5 184.1L461.5 183.9L461.0 183.7L460.0 183.3L459.5 183.1L458.9 182.8L458.0 182.3L457.5 182.0L457.0 181.8L456.0 181.3L455.5 181.0L454.9 180.8L454.0 180.5L453.5 180.2L452.8 179.8L452.3 179.3L452.3 178.3L452.6 177.8L453.1 177.3L453.9 176.8ZM431.4 213.8L432.0 213.7L433.0 213.6L433.9 213.8L434.5 214.0L435.0 214.4L435.5 214.9L436.0 215.8L436.1 216.3L436.2 217.3L436.0 218.0L435.6 218.8L435.3 219.3L434.8 219.8L434.2 220.3L433.5 220.7L433.0 220.8L432.3 220.8L431.5 220.6L430.9 220.3L430.3 219.8L429.9 219.3L429.5 218.8L429.0 217.8L428.9 217.3L428.9 216.3L429.0 215.8L429.5 215.0L430.0 214.5L430.5 214.1L431.4 213.8ZM454.5 175.3L454.6 175.3L455.5 175.4L456.5 175.5L457.5 175.5L458.5 175.5L459.5 175.5L460.5 175.5L461.5 175.5L462.5 175.6L463.5 175.6L464.5 175.8L465.0 175.8L466.0 176.1L466.5 176.3L467.5 176.8L468.0 177.1L468.5 177.3L469.3 177.8L470.0 178.3L470.5 178.6L471.0 178.8L472.0 179.2L472.5 179.4L473.5 179.8L474.0 180.1L474.5 180.5L475.0 181.3L475.0 181.8L474.9 182.3L474.5 182.8L473.7 183.3L473.0 183.5L472.0 183.7L471.0 183.8L470.5 183.8L469.5 184.0L468.5 184.2L468.0 184.4L467.0 184.6L466.3 184.8L465.5 184.9L464.5 185.0L463.5 185.0L462.5 184.9L461.9 184.8L461.0 184.6L460.1 184.3L459.5 184.1L458.9 183.8L458.0 183.4L457.5 183.2L456.7 182.8L456.0 182.5L455.5 182.3L454.5 182.0L453.9 181.8L453.0 181.6L452.2 181.3L451.5 181.0L451.0 180.7L450.5 180.3L450.0 179.5L449.9 178.8L450.0 178.3L450.5 177.5L451.0 177.0L451.5 176.6L452.0 176.2L452.6 175.8L453.5 175.4L454.5 175.3ZM430.6 212.8L431.5 212.6L432.5 212.5L433.5 212.5L434.5 212.7L435.0 212.9L435.7 213.3L436.3 213.8L436.8 214.3L437.1 214.8L437.5 215.8L437.6 216.3L437.5 217.1L437.3 217.8L437.0 218.5L436.5 219.3L436.2 219.8L435.8 220.3L435.3 220.8L434.7 221.3L434.0 221.7L433.5 221.9L432.5 222.0L431.5 221.9L431.0 221.7L430.2 221.3L429.6 220.8L429.2 220.3L428.8 219.8L428.5 219.3L428.0 218.4L427.8 217.8L427.7 216.8L427.8 215.8L428.0 215.1L428.5 214.3L428.9 213.8L429.5 213.3L430.0 213.0L430.6 212.8ZM452.9 174.3L453.5 174.2L454.5 174.2L455.5 174.3L456.0 174.4L457.0 174.5L458.0 174.5L459.0 174.5L460.0 174.5L461.0 174.6L462.0 174.7L463.0 174.8L463.5 174.8L464.5 174.9L465.5 175.1L466.2 175.3L467.0 175.6L467.5 175.8L468.5 176.3L469.0 176.6L469.5 176.8L470.4 177.3L471.0 177.6L471.5 177.8L472.5 178.2L473.0 178.4L474.0 178.7L474.5 179.0L475.0 179.3L475.6 179.8L476.0 180.4L476.3 181.3L476.3 182.3L476.0 183.1L475.5 183.7L475.0 184.0L474.4 184.3L473.5 184.6L472.5 184.8L472.0 184.8L471.0 184.9L470.0 185.0L469.0 185.1L468.0 185.3L467.5 185.4L466.5 185.6L465.5 185.7L464.5 185.8L463.5 185.8L462.5 185.7L461.5 185.5L460.5 185.3L460.0 185.1L459.0 184.8L458.5 184.6L457.8 184.3L457.0 184.0L456.5 183.8L455.5 183.4L455.0 183.2L454.0 182.9L453.5 182.8L452.5 182.6L451.5 182.3L451.0 182.2L450.1 181.8L449.5 181.5L449.0 181.1L448.5 180.8L448.0 180.3L447.6 179.3L447.9 178.3L448.1 177.8L448.5 177.3L449.0 176.7L449.5 176.3L450.1 175.8L450.7 175.3L451.5 174.8L452.0 174.6L452.9 174.3ZM440.8 179.8L441.5 179.6L442.5 179.6L443.0 179.8L443.6 180.3L443.5 181.1L443.0 181.7L442.5 182.0L441.8 182.3L441.0 182.4L440.5 182.2L440.0 181.7L439.9 180.8L440.2 180.3L440.8 179.8ZM430.2 211.8L431.0 211.6L432.0 211.4L433.0 211.4L434.0 211.5L435.0 211.8L435.5 211.9L436.4 212.3L437.0 212.7L437.5 213.0L438.0 213.3L438.9 213.8L439.5 214.2L440.0 214.8L440.1 215.3L439.9 215.8L439.5 216.7L439.1 217.3L438.8 217.8L438.5 218.3L438.0 219.0L437.5 219.7L437.0 220.3L436.7 220.8L436.2 221.3L435.7 221.8L435.2 222.3L434.5 222.7L434.0 223.0L433.0 223.2L432.0 223.2L431.0 223.0L430.4 222.8L429.6 222.3L429.0 221.8L428.5 221.3L428.1 220.8L427.8 220.3L427.5 219.8L427.0 218.8L426.9 218.3L426.7 217.3L426.6 216.3L426.8 215.3L427.0 214.8L427.5 213.9L428.0 213.3L428.5 212.8L429.0 212.4L429.5 212.1L430.2 211.8ZM453.4 212.8L454.0 212.6L455.0 212.4L456.0 212.6L456.5 212.8L457.2 213.3L457.5 213.8L457.8 214.8L457.7 215.8L457.5 216.3L457.0 217.1L456.5 217.7L456.0 218.1L455.4 218.3L454.5 218.3L454.0 218.2L453.2 217.8L452.7 217.3L452.3 216.8L452.0 216.3L451.7 215.3L451.9 214.3L452.2 213.8L452.7 213.3L453.4 212.8ZM452.0 173.3L452.5 173.2L453.5 173.1L454.5 173.1L455.5 173.3L456.0 173.4L457.0 173.5L458.0 173.5L459.0 173.5L460.0 173.6L461.0 173.7L462.0 173.8L462.5 173.8L463.5 173.9L464.5 174.0L465.5 174.2L466.0 174.3L467.0 174.7L467.5 174.9L468.5 175.3L469.0 175.6L469.5 175.8L470.5 176.3L471.0 176.5L471.6 176.8L472.5 177.1L473.0 177.3L474.0 177.7L474.5 177.9L475.2 178.3L475.9 178.8L476.4 179.3L476.8 179.8L477.1 180.3L477.4 181.3L477.4 182.3L477.1 183.3L476.8 183.8L476.3 184.3L475.7 184.8L475.0 185.2L474.5 185.3L473.5 185.6L472.5 185.7L471.8 185.8L471.0 185.9L470.0 185.9L469.0 186.1L468.0 186.2L467.4 186.3L466.5 186.4L465.5 186.5L464.5 186.6L463.5 186.6L462.5 186.5L461.5 186.4L461.0 186.3L460.0 186.0L459.3 185.8L458.5 185.5L457.9 185.3L457.0 184.9L456.5 184.7L455.5 184.4L455.0 184.2L454.0 183.9L453.4 183.8L452.5 183.6L451.5 183.4L451.0 183.3L450.0 183.0L449.4 182.8L448.5 182.5L447.6 182.3L447.0 182.3L446.5 182.3L445.5 182.7L445.0 182.9L444.3 183.3L443.5 183.7L443.0 183.9L442.0 184.2L441.5 184.3L440.5 184.3L440.0 184.2L439.2 183.8L438.6 183.3L438.3 182.8L438.0 182.0L437.9 181.3L438.0 180.6L438.2 179.8L438.5 179.3L439.0 178.7L439.5 178.3L440.5 177.8L441.0 177.7L442.0 177.5L443.0 177.5L444.0 177.5L445.0 177.3L445.5 177.2L446.2 176.8L446.9 176.3L447.5 175.9L448.0 175.5L448.5 175.1L449.0 174.7L449.6 174.3L450.5 173.8L451.0 173.6L452.0 173.3ZM430.1 210.8L431.0 210.6L432.0 210.5L433.0 210.5L434.0 210.6L435.0 210.8L435.5 210.9L436.5 211.2L437.0 211.3L438.0 211.6L438.9 211.8L439.5 211.9L440.5 211.9L441.5 211.8L442.0 211.7L443.0 211.6L444.0 211.7L444.6 211.8L445.5 212.1L446.0 212.4L446.6 212.8L447.3 213.3L448.0 213.8L448.5 214.0L449.1 213.8L450.0 213.3L450.5 212.9L451.0 212.6L451.5 212.3L452.3 211.8L453.0 211.5L453.5 211.3L454.5 211.1L455.5 211.1L456.3 211.3L457.0 211.6L457.5 211.9L458.0 212.3L458.5 213.0L458.9 213.8L459.0 214.3L459.0 215.3L459.0 215.8L458.7 216.8L458.5 217.3L458.0 218.1L457.5 218.7L457.0 219.1L456.5 219.4L455.5 219.7L454.5 219.7L453.5 219.4L453.0 219.1L452.4 218.8L451.8 218.3L451.3 217.8L450.8 217.3L450.4 216.8L449.9 216.3L449.4 215.8L448.8 215.3L448.0 215.0L447.2 215.3L446.5 215.6L446.0 215.8L445.0 216.3L444.5 216.4L443.5 216.7L443.0 216.9L442.0 217.2L441.5 217.5L441.0 217.8L440.3 218.3L439.7 218.8L439.2 219.3L438.8 219.8L438.4 220.3L438.0 220.8L437.5 221.4L437.0 222.0L436.5 222.5L436.0 223.0L435.5 223.4L434.9 223.8L434.0 224.2L433.5 224.3L432.5 224.4L431.5 224.4L431.0 224.3L430.0 224.0L429.5 223.7L428.8 223.3L428.2 222.8L427.7 222.3L427.4 221.8L427.0 221.2L426.5 220.3L426.3 219.8L426.0 219.0L425.8 218.3L425.7 217.3L425.6 216.3L425.8 215.3L426.0 214.7L426.4 213.8L426.8 213.3L427.2 212.8L427.6 212.3L428.2 211.8L428.9 211.3L429.5 211.0L430.1 210.8ZM412.9 218.3L413.5 218.2L414.0 218.5L414.4 219.3L414.2 220.3L413.7 220.8L413.0 220.9L412.5 220.5L412.2 219.8L412.4 218.8L412.9 218.3ZM451.3 172.3L452.0 172.2L453.0 172.1L454.0 172.1L455.0 172.2L455.5 172.3L456.5 172.4L457.5 172.5L458.5 172.5L459.5 172.6L460.5 172.7L461.3 172.8L462.0 172.9L463.0 173.0L464.0 173.1L465.0 173.3L465.5 173.4L466.5 173.6L467.2 173.8L468.0 174.1L468.5 174.3L469.5 174.8L470.0 175.0L470.5 175.3L471.5 175.8L472.0 176.0L472.9 176.3L473.5 176.5L474.2 176.8L475.0 177.2L475.5 177.4L476.1 177.8L476.7 178.3L477.2 178.8L477.6 179.3L478.0 180.2L478.2 180.8L478.3 181.8L478.2 182.8L478.0 183.5L477.5 184.3L477.1 184.8L476.6 185.3L476.0 185.7L475.5 186.0L474.5 186.3L474.0 186.4L473.0 186.6L472.0 186.7L471.0 186.8L470.5 186.8L469.5 186.9L468.5 187.0L467.5 187.1L466.5 187.3L466.0 187.3L465.0 187.4L464.0 187.4L463.0 187.3L462.4 187.3L461.5 187.2L460.5 187.0L459.7 186.8L459.0 186.6L458.1 186.3L457.5 186.1L456.7 185.8L456.0 185.5L455.3 185.3L454.5 185.1L453.5 184.8L453.0 184.7L452.0 184.5L451.0 184.3L450.5 184.2L449.5 184.0L448.5 183.8L448.0 183.7L447.0 183.8L446.5 183.9L445.5 184.2L445.0 184.4L444.0 184.8L443.5 185.0L442.7 185.3L442.0 185.5L441.0 185.7L440.0 185.6L439.1 185.3L438.5 184.9L438.0 184.5L437.5 183.9L437.1 183.3L436.9 182.8L436.7 181.8L436.7 180.8L436.9 179.8L437.1 179.3L437.5 178.6L438.0 177.9L438.5 177.4L439.0 177.0L439.5 176.7L440.5 176.4L441.0 176.2L442.0 176.1L443.0 175.9L443.5 175.7L444.5 175.5L445.0 175.3L446.0 174.9L446.5 174.7L447.1 174.3L447.9 173.8L448.5 173.4L449.0 173.2L449.8 172.8L450.5 172.5L451.3 172.3ZM430.4 209.8L431.0 209.7L432.0 209.6L433.0 209.6L434.0 209.7L434.6 209.8L435.5 209.9L436.5 210.1L437.5 210.3L438.0 210.4L439.0 210.4L440.0 210.5L441.0 210.4L441.6 210.3L442.5 210.2L443.5 210.1L444.5 210.1L445.5 210.3L446.0 210.4L447.0 210.8L447.5 211.0L448.5 211.3L449.0 211.3L449.6 211.3L450.5 211.1L451.4 210.8L452.0 210.6L452.8 210.3L453.5 210.1L454.5 210.0L455.5 210.0L456.5 210.2L457.0 210.4L457.7 210.8L458.4 211.3L458.9 211.8L459.2 212.3L459.5 212.8L459.9 213.8L460.0 214.3L460.1 215.3L460.0 215.9L459.8 216.8L459.5 217.7L459.2 218.3L458.9 218.8L458.5 219.3L458.0 219.8L457.3 220.3L456.5 220.6L455.8 220.8L455.0 220.8L454.5 220.8L453.5 220.5L453.0 220.3L452.0 219.8L451.5 219.5L451.0 219.2L450.5 218.8L449.8 218.3L449.0 217.8L448.5 217.7L447.5 217.6L446.5 217.8L446.0 217.8L445.0 218.0L444.0 218.2L443.5 218.4L442.5 218.7L442.0 218.9L441.3 219.3L440.6 219.8L440.0 220.3L439.5 220.8L439.1 221.3L438.6 221.8L438.2 222.3L437.7 222.8L437.2 223.3L436.7 223.8L436.1 224.3L435.5 224.7L435.0 225.0L434.4 225.3L433.5 225.6L432.5 225.7L431.5 225.7L430.5 225.5L429.7 225.3L429.0 225.0L428.5 224.7L427.9 224.3L427.4 223.8L426.9 223.3L426.5 222.7L426.0 221.8L425.8 221.3L425.5 220.7L425.2 219.8L425.0 219.3L424.7 218.3L424.6 217.3L424.6 216.3L424.8 215.3L425.0 214.6L425.4 213.8L425.7 213.3L426.0 212.8L426.5 212.2L427.0 211.6L427.5 211.2L428.0 210.8L428.9 210.3L429.5 210.1L430.4 209.8ZM412.3 215.8L413.0 215.7L413.9 215.8L414.5 216.0L415.0 216.4L415.5 216.9L416.0 217.7L416.2 218.3L416.4 219.3L416.3 220.3L416.1 221.3L415.8 221.8L415.4 222.3L414.8 222.8L414.0 223.2L413.0 223.2L412.0 222.9L411.5 222.5L411.0 222.0L410.5 221.3L410.3 220.8L410.1 219.8L410.1 218.8L410.3 217.8L410.5 217.3L411.0 216.6L411.5 216.2L412.3 215.8ZM451.0 171.3L451.5 171.2L452.5 171.1L453.5 171.1L454.5 171.2L455.3 171.3L456.0 171.4L457.0 171.5L458.0 171.6L459.0 171.6L460.0 171.7L460.5 171.8L461.5 171.9L462.5 172.1L463.5 172.2L464.2 172.3L465.0 172.4L466.0 172.6L466.8 172.8L467.5 173.0L468.3 173.3L469.0 173.6L469.5 173.8L470.5 174.3L471.0 174.5L471.5 174.8L472.5 175.2L473.0 175.4L474.0 175.8L474.5 176.0L475.2 176.3L476.0 176.7L476.5 177.0L477.0 177.4L477.5 177.9L478.0 178.5L478.5 179.3L478.7 179.8L479.0 180.7L479.1 181.3L479.2 182.3L479.0 183.2L478.8 183.8L478.5 184.4L478.0 185.1L477.5 185.7L477.0 186.1L476.5 186.5L475.8 186.8L475.0 187.1L474.0 187.3L473.5 187.4L472.5 187.5L471.5 187.6L470.5 187.7L469.5 187.8L469.0 187.8L468.0 188.0L467.0 188.1L466.0 188.1L465.0 188.2L464.0 188.2L463.0 188.2L462.0 188.1L461.0 187.9L460.3 187.8L459.5 187.6L458.5 187.3L458.0 187.2L457.0 186.9L456.5 186.7L455.5 186.4L455.0 186.2L454.0 186.0L453.2 185.8L452.5 185.6L451.5 185.4L450.8 185.3L450.0 185.2L449.0 185.0L448.0 184.9L447.0 185.0L446.0 185.2L445.5 185.4L444.5 185.8L444.0 186.0L443.1 186.3L442.5 186.5L441.5 186.7L440.5 186.8L439.5 186.6L438.6 186.3L438.0 186.0L437.5 185.6L437.0 185.1L436.5 184.4L436.2 183.8L436.0 183.3L435.7 182.3L435.7 181.3L435.8 180.3L436.0 179.3L436.2 178.8L436.5 178.1L437.0 177.3L437.4 176.8L437.9 176.3L438.5 175.9L439.0 175.6L439.7 175.3L440.5 175.1L441.5 174.8L442.0 174.7L443.0 174.5L443.5 174.3L444.5 174.0L445.0 173.8L446.0 173.4L446.5 173.1L447.1 172.8L448.0 172.4L448.5 172.1L449.3 171.8L450.0 171.5L451.0 171.3ZM431.1 208.8L432.0 208.7L433.0 208.7L433.7 208.8L434.5 208.9L435.5 209.0L436.5 209.1L437.5 209.2L438.5 209.3L439.5 209.3L440.5 209.2L441.5 209.1L442.5 209.0L443.5 208.9L444.5 208.9L445.5 209.0L446.5 209.2L447.0 209.4L448.0 209.6L449.0 209.8L449.5 209.8L450.0 209.8L451.0 209.7L452.0 209.4L452.5 209.3L453.5 209.1L454.5 209.0L455.5 209.0L456.5 209.2L457.0 209.4L457.9 209.8L458.5 210.2L459.0 210.6L459.5 211.1L460.0 211.8L460.3 212.3L460.5 212.8L460.9 213.8L461.0 214.8L461.0 215.3L461.0 215.8L460.8 216.8L460.5 217.8L460.3 218.3L460.0 218.9L459.5 219.7L459.0 220.2L458.5 220.6L458.0 221.0L457.5 221.3L456.5 221.7L456.0 221.8L455.0 221.8L454.5 221.8L453.5 221.6L452.8 221.3L452.0 221.0L451.5 220.7L450.6 220.3L450.0 219.9L449.5 219.7L448.6 219.3L448.0 219.2L447.0 219.1L446.0 219.2L445.5 219.3L444.5 219.5L443.6 219.8L443.0 220.0L442.4 220.3L441.5 220.8L441.0 221.2L440.5 221.6L440.0 222.1L439.5 222.6L439.0 223.2L438.5 223.7L438.0 224.2L437.5 224.6L437.0 225.1L436.5 225.5L436.0 225.8L435.0 226.3L434.5 226.5L433.6 226.8L433.0 226.9L432.0 227.0L431.0 227.0L430.0 226.8L429.5 226.7L428.5 226.3L428.0 226.1L427.5 225.8L426.9 225.3L426.4 224.8L426.0 224.3L425.5 223.6L425.1 222.8L424.9 222.3L424.5 221.4L424.3 220.8L424.0 219.9L423.8 219.3L423.6 218.3L423.6 217.3L423.6 216.3L423.8 215.3L424.0 214.6L424.3 213.8L424.6 213.3L425.0 212.7L425.5 212.0L426.0 211.4L426.5 210.9L427.0 210.4L427.5 210.0L428.0 209.7L429.0 209.3L429.5 209.1L430.5 208.9L431.1 208.8ZM411.4 214.3L412.0 214.1L413.0 214.0L414.0 214.1L414.6 214.3L415.5 214.8L416.0 215.2L416.5 215.8L416.9 216.3L417.2 216.8L417.5 217.6L417.7 218.3L417.8 219.3L417.8 220.3L417.6 221.3L417.5 221.8L417.0 222.8L416.6 223.3L416.2 223.8L415.6 224.3L415.0 224.7L414.5 224.8L413.5 225.0L412.5 224.8L412.0 224.6L411.4 224.3L410.7 223.8L410.2 223.3L409.8 222.8L409.5 222.3L409.0 221.3L408.9 220.8L408.7 219.8L408.7 218.8L408.7 217.8L409.0 216.8L409.2 216.3L409.6 215.8L410.0 215.3L410.6 214.8L411.4 214.3ZM451.1 170.3L452.0 170.2L453.0 170.2L454.0 170.2L455.0 170.3L455.5 170.4L456.5 170.5L457.5 170.6L458.5 170.7L459.5 170.8L460.0 170.8L461.0 171.0L462.0 171.1L463.0 171.3L463.5 171.3L464.5 171.5L465.5 171.6L466.3 171.8L467.0 172.0L468.0 172.3L468.5 172.5L469.3 172.8L470.0 173.1L470.5 173.3L471.5 173.8L472.0 174.0L472.6 174.3L473.5 174.7L474.0 174.9L475.0 175.3L475.5 175.5L476.0 175.8L476.9 176.3L477.5 176.8L478.0 177.2L478.5 177.8L478.8 178.3L479.1 178.8L479.5 179.6L479.7 180.3L479.9 181.3L479.9 182.3L479.8 183.3L479.5 184.2L479.2 184.8L478.9 185.3L478.5 185.8L478.0 186.3L477.4 186.8L476.7 187.3L476.0 187.6L475.5 187.8L474.5 188.0L473.5 188.2L472.6 188.3L472.0 188.4L471.0 188.5L470.0 188.6L469.0 188.7L468.0 188.8L467.5 188.8L466.5 188.9L465.5 189.0L464.5 189.0L463.5 189.0L462.5 189.0L461.5 188.9L461.0 188.8L460.0 188.6L459.0 188.4L458.5 188.2L457.5 188.0L457.0 187.8L456.0 187.5L455.4 187.3L454.5 187.1L453.5 186.8L453.0 186.7L452.0 186.5L451.0 186.3L450.5 186.2L449.5 186.1L448.5 186.0L447.5 186.0L446.5 186.2L446.0 186.4L445.0 186.7L444.5 186.9L443.5 187.2L443.0 187.4L442.0 187.6L441.0 187.8L440.0 187.8L439.0 187.6L438.2 187.3L437.5 186.9L437.0 186.5L436.5 186.1L436.0 185.5L435.5 184.8L435.3 184.3L435.0 183.6L434.8 182.8L434.7 181.8L434.7 180.8L434.8 179.8L435.0 179.1L435.3 178.3L435.5 177.8L436.0 176.9L436.4 176.3L436.9 175.8L437.4 175.3L438.0 174.9L438.5 174.6L439.2 174.3L440.0 174.0L440.9 173.8L441.5 173.6L442.5 173.4L443.0 173.2L444.0 172.9L444.5 172.7L445.5 172.3L446.0 172.1L446.6 171.8L447.5 171.4L448.0 171.2L449.0 170.8L449.5 170.6L450.5 170.4L451.1 170.3ZM429.2 208.3L430.0 208.1L431.0 207.9L432.0 207.8L433.0 207.8L434.0 207.9L435.0 208.0L436.0 208.1L437.0 208.2L438.0 208.2L439.0 208.2L440.0 208.2L441.0 208.1L442.0 207.9L443.0 207.9L444.0 207.8L445.0 207.9L446.0 208.1L447.0 208.3L447.5 208.4L448.5 208.5L449.5 208.6L450.5 208.6L451.5 208.5L452.4 208.3L453.0 208.2L454.0 208.0L455.0 208.0L456.0 208.1L456.8 208.3L457.5 208.6L458.0 208.8L458.8 209.3L459.4 209.8L459.9 210.3L460.4 210.8L460.7 211.3L461.0 211.8L461.5 212.8L461.6 213.3L461.8 214.3L461.9 215.3L461.9 216.3L461.7 217.3L461.5 217.8L461.1 218.8L460.9 219.3L460.5 219.8L460.0 220.5L459.5 221.0L459.0 221.4L458.4 221.8L457.5 222.3L457.0 222.5L456.0 222.7L455.5 222.8L454.8 222.8L454.0 222.7L453.0 222.4L452.5 222.2L451.5 221.8L451.0 221.6L450.3 221.3L449.5 220.9L449.0 220.7L448.0 220.5L447.0 220.4L446.0 220.5L445.0 220.8L444.5 220.9L443.5 221.3L443.0 221.5L442.5 221.8L441.8 222.3L441.2 222.8L440.6 223.3L440.1 223.8L439.6 224.3L439.1 224.8L438.6 225.3L438.0 225.8L437.5 226.2L437.0 226.6L436.5 226.9L435.7 227.3L435.0 227.6L434.4 227.8L433.5 228.0L432.5 228.2L431.5 228.2L430.5 228.2L429.5 228.1L428.5 227.9L428.0 227.7L427.1 227.3L426.5 226.9L426.0 226.6L425.5 226.2L425.0 225.7L424.5 225.0L424.1 224.3L423.9 223.8L423.5 222.8L423.3 222.3L423.0 221.4L422.7 220.8L422.5 220.1L422.3 219.3L422.2 218.3L422.2 217.3L422.4 216.3L422.5 215.8L422.8 214.8L423.0 214.3L423.5 213.4L423.8 212.8L424.1 212.3L424.5 211.8L425.0 211.2L425.5 210.6L426.0 210.1L426.5 209.7L427.0 209.3L427.9 208.8L428.5 208.5L429.2 208.3ZM411.6 212.8L412.5 212.6L413.5 212.6L414.5 212.8L415.0 212.9L415.7 213.3L416.5 213.8L417.0 214.3L417.5 214.8L417.9 215.3L418.3 215.8L418.6 216.3L419.0 217.2L419.2 217.8L419.4 218.8L419.5 219.8L419.4 220.8L419.2 221.8L419.0 222.3L418.6 223.3L418.2 223.8L417.9 224.3L417.4 224.8L416.9 225.3L416.3 225.8L415.5 226.3L415.0 226.4L414.0 226.5L413.0 226.4L412.5 226.3L411.5 225.9L411.0 225.7L410.5 225.3L409.9 224.8L409.4 224.3L409.0 223.7L408.5 223.0L408.1 222.3L407.9 221.8L407.6 220.8L407.5 219.8L407.5 218.8L407.6 217.8L407.8 216.8L408.0 216.1L408.5 215.3L408.8 214.8L409.3 214.3L409.9 213.8L410.5 213.3L411.0 213.0L411.6 212.8ZM451.8 169.3L452.5 169.3L453.5 169.3L454.1 169.3L455.0 169.4L456.0 169.5L457.0 169.6L458.0 169.8L458.5 169.8L459.5 169.9L460.5 170.0L461.5 170.2L462.1 170.3L463.0 170.4L464.0 170.6L465.0 170.7L465.6 170.8L466.5 171.0L467.5 171.2L468.0 171.4L469.0 171.7L469.5 171.9L470.3 172.3L471.0 172.6L471.5 172.9L472.4 173.3L473.0 173.5L473.6 173.8L474.5 174.2L475.0 174.4L475.8 174.8L476.5 175.1L477.0 175.5L477.5 175.8L478.1 176.3L478.6 176.8L479.0 177.3L479.5 178.0L480.0 178.8L480.2 179.3L480.5 180.3L480.6 180.8L480.7 181.8L480.6 182.8L480.5 183.5L480.3 184.3L480.0 184.9L479.5 185.7L479.1 186.3L478.6 186.8L478.1 187.3L477.5 187.7L477.0 188.0L476.5 188.3L475.5 188.6L474.7 188.8L474.0 188.9L473.0 189.1L472.0 189.2L471.1 189.3L470.5 189.4L469.5 189.5L468.5 189.6L467.5 189.7L466.5 189.8L465.9 189.8L465.0 189.8L464.0 189.9L463.0 189.9L462.3 189.8L461.5 189.7L460.5 189.6L459.5 189.4L459.0 189.2L458.0 189.0L457.3 188.8L456.5 188.6L455.5 188.3L455.0 188.2L454.0 187.9L453.5 187.8L452.5 187.6L451.5 187.4L451.0 187.3L450.0 187.1L449.0 187.0L448.0 187.0L447.0 187.2L446.4 187.3L445.5 187.6L444.8 187.8L444.0 188.1L443.4 188.3L442.5 188.5L441.5 188.7L440.5 188.8L439.5 188.7L438.5 188.5L438.0 188.3L437.1 187.8L436.5 187.4L436.0 186.9L435.5 186.4L435.0 185.8L434.7 185.3L434.4 184.8L434.1 183.8L433.9 183.3L433.8 182.3L433.7 181.3L433.8 180.3L433.9 179.3L434.1 178.8L434.4 177.8L434.7 177.3L435.0 176.7L435.5 175.9L436.0 175.3L436.4 174.8L437.0 174.3L437.5 174.0L438.0 173.7L438.9 173.3L439.5 173.1L440.5 172.8L441.0 172.6L442.0 172.4L442.5 172.2L443.5 171.9L444.0 171.8L445.0 171.4L445.5 171.2L446.3 170.8L447.0 170.5L447.5 170.3L448.5 169.9L449.0 169.8L450.0 169.5L451.0 169.4L451.8 169.3ZM429.5 207.3L430.5 207.1L431.5 206.9L432.5 206.8L433.5 206.9L434.5 207.0L435.5 207.1L436.5 207.2L437.5 207.2L438.5 207.2L439.5 207.1L440.5 207.1L441.5 207.0L442.5 206.9L443.5 206.9L444.5 206.9L445.5 207.0L446.5 207.2L447.2 207.3L448.0 207.4L449.0 207.5L450.0 207.6L451.0 207.5L452.0 207.4L452.5 207.3L453.5 207.1L454.5 207.0L455.5 207.1L456.5 207.3L457.0 207.4L458.0 207.8L458.5 208.0L459.0 208.3L459.6 208.8L460.2 209.3L460.7 209.8L461.1 210.3L461.5 210.9L462.0 211.8L462.2 212.3L462.5 213.3L462.6 213.8L462.8 214.8L462.8 215.8L462.7 216.8L462.5 217.5L462.3 218.3L462.0 219.0L461.6 219.8L461.2 220.3L460.9 220.8L460.4 221.3L459.9 221.8L459.3 222.3L458.5 222.8L458.0 223.1L457.4 223.3L456.5 223.6L455.5 223.7L454.5 223.7L453.5 223.6L452.5 223.3L452.0 223.1L451.3 222.8L450.5 222.5L450.0 222.3L449.0 221.9L448.5 221.7L447.5 221.6L446.5 221.7L446.0 221.8L445.0 222.1L444.5 222.3L443.5 222.8L443.0 223.1L442.5 223.4L442.0 223.8L441.5 224.3L441.0 224.8L440.5 225.3L440.0 225.8L439.5 226.3L438.9 226.8L438.3 227.3L437.5 227.8L437.0 228.1L436.5 228.3L435.5 228.7L435.0 228.8L434.0 229.1L433.0 229.2L432.3 229.3L431.5 229.4L430.5 229.4L429.5 229.3L429.0 229.3L428.0 229.1L427.0 228.9L426.5 228.7L425.5 228.3L425.0 228.1L424.5 227.8L423.6 227.3L423.0 226.8L422.5 226.3L422.1 225.8L421.7 225.3L421.0 224.8L420.1 225.3L419.6 225.8L419.0 226.3L418.5 226.7L418.0 227.1L417.5 227.5L416.9 227.8L416.0 228.2L415.2 228.3L414.5 228.3L414.0 228.3L413.0 228.0L412.3 227.8L411.5 227.5L411.0 227.2L410.3 226.8L409.7 226.3L409.2 225.8L408.7 225.3L408.4 224.8L408.0 224.3L407.5 223.5L407.2 222.8L406.9 222.3L406.7 221.3L406.5 220.3L406.5 219.8L406.5 218.8L406.5 218.3L406.6 217.3L406.9 216.3L407.0 215.8L407.5 214.9L407.9 214.3L408.3 213.8L408.8 213.3L409.4 212.8L410.0 212.3L410.5 212.0L411.0 211.7L412.0 211.4L413.0 211.3L414.0 211.4L415.0 211.6L415.5 211.8L416.5 212.3L417.0 212.6L417.5 213.0L418.0 213.4L418.5 213.9L419.0 214.3L419.8 214.8L420.5 215.0L421.0 214.8L421.6 214.3L422.0 213.8L422.5 213.0L423.0 212.3L423.3 211.8L423.7 211.3L424.1 210.8L424.5 210.3L425.0 209.8L425.6 209.3L426.2 208.8L427.0 208.3L427.5 208.0L428.0 207.8L429.0 207.4L429.5 207.3ZM449.3 168.8L450.0 168.6L451.0 168.5L452.0 168.4L453.0 168.4L454.0 168.4L455.0 168.5L456.0 168.6L457.0 168.7L457.5 168.8L458.5 168.9L459.5 169.0L460.5 169.2L461.2 169.3L462.0 169.4L463.0 169.6L464.0 169.7L464.8 169.8L465.5 169.9L466.5 170.1L467.3 170.3L468.0 170.5L468.9 170.8L469.5 171.0L470.1 171.3L471.0 171.7L471.5 171.9L472.3 172.3L473.0 172.6L473.5 172.8L474.5 173.3L475.0 173.5L475.6 173.8L476.5 174.3L477.0 174.5L477.5 174.9L478.0 175.3L478.6 175.8L479.1 176.3L479.5 176.8L480.0 177.4L480.5 178.3L480.8 178.8L481.0 179.5L481.2 180.3L481.4 181.3L481.4 182.3L481.3 183.3L481.1 184.3L480.9 184.8L480.5 185.5L480.0 186.3L479.6 186.8L479.2 187.3L478.6 187.8L478.0 188.3L477.5 188.6L477.0 188.9L476.0 189.3L475.5 189.4L474.5 189.6L473.5 189.8L473.0 189.9L472.0 190.0L471.0 190.1L470.0 190.3L469.5 190.3L468.5 190.5L467.5 190.6L466.5 190.6L465.5 190.7L464.5 190.7L463.5 190.7L462.5 190.7L461.5 190.6L460.5 190.4L459.9 190.3L459.0 190.1L458.0 189.9L457.5 189.8L456.5 189.5L455.8 189.3L455.0 189.1L454.0 188.8L453.5 188.7L452.5 188.5L451.6 188.3L451.0 188.2L450.0 188.1L449.0 188.0L448.0 188.1L447.0 188.2L446.5 188.3L445.5 188.6L445.0 188.8L444.0 189.1L443.4 189.3L442.5 189.5L441.5 189.7L440.5 189.7L439.5 189.7L438.5 189.5L437.9 189.3L437.0 188.9L436.5 188.6L436.0 188.2L435.5 187.7L435.0 187.2L434.5 186.6L434.0 185.9L433.7 185.3L433.4 184.8L433.1 183.8L433.0 183.3L432.8 182.3L432.7 181.3L432.8 180.3L432.9 179.3L433.1 178.8L433.4 177.8L433.6 177.3L434.0 176.5L434.4 175.8L434.7 175.3L435.1 174.8L435.6 174.3L436.2 173.8L436.8 173.3L437.5 172.9L438.0 172.6L438.7 172.3L439.5 172.0L440.3 171.8L441.0 171.6L442.0 171.3L442.5 171.2L443.5 170.9L444.0 170.7L445.0 170.3L445.5 170.1L446.3 169.8L447.0 169.5L447.6 169.3L448.5 169.0L449.3 168.8ZM429.7 206.3L430.5 206.1L431.5 205.9L432.5 205.8L433.5 205.8L434.5 205.9L435.5 206.0L436.5 206.1L437.5 206.1L438.5 206.1L439.5 206.1L440.5 206.0L441.5 206.0L442.5 205.9L443.5 205.9L444.5 206.0L445.5 206.1L446.5 206.2L447.0 206.3L448.0 206.5L449.0 206.6L450.0 206.6L451.0 206.5L452.0 206.4L452.8 206.3L453.5 206.2L454.5 206.1L455.5 206.1L456.5 206.3L457.0 206.4L458.0 206.8L458.5 207.0L459.1 207.3L459.8 207.8L460.4 208.3L460.9 208.8L461.4 209.3L461.8 209.8L462.1 210.3L462.5 210.9L462.9 211.8L463.1 212.3L463.4 213.3L463.5 213.9L463.6 214.8L463.6 215.8L463.5 216.8L463.4 217.3L463.2 218.3L463.0 218.8L462.5 219.8L462.2 220.3L461.9 220.8L461.5 221.3L461.0 221.9L460.5 222.4L460.0 222.8L459.3 223.3L458.5 223.8L458.0 224.0L457.2 224.3L456.5 224.5L455.5 224.6L454.5 224.6L453.5 224.5L452.5 224.3L452.0 224.1L451.1 223.8L450.5 223.6L449.9 223.3L449.0 223.0L448.0 222.8L447.0 222.9L446.0 223.1L445.5 223.3L444.5 223.7L444.0 224.0L443.5 224.4L443.0 224.8L442.4 225.3L441.9 225.8L441.4 226.3L440.9 226.8L440.4 227.3L439.8 227.8L439.1 228.3L438.5 228.7L438.0 229.0L437.3 229.3L436.5 229.6L435.8 229.8L435.0 230.0L434.0 230.2L433.1 230.3L432.5 230.4L431.5 230.5L430.5 230.5L429.5 230.5L428.5 230.5L427.5 230.4L426.5 230.3L426.0 230.2L425.0 230.0L424.0 229.9L423.5 229.8L422.5 229.7L421.7 229.8L421.0 229.9L420.0 230.3L419.5 230.4L418.5 230.6L417.5 230.6L416.5 230.6L415.5 230.5L414.7 230.3L414.0 230.1L413.1 229.8L412.5 229.5L412.0 229.3L411.0 228.8L410.5 228.5L410.0 228.2L409.5 227.8L408.9 227.3L408.5 226.8L408.0 226.2L407.5 225.5L407.1 224.8L406.8 224.3L406.5 223.8L406.1 222.8L405.9 222.3L405.7 221.3L405.6 220.3L405.5 219.3L405.6 218.3L405.7 217.3L405.9 216.3L406.0 215.8L406.5 214.8L406.7 214.3L407.1 213.8L407.5 213.2L408.0 212.7L408.5 212.2L409.0 211.7L409.6 211.3L410.4 210.8L411.0 210.5L411.9 210.3L412.5 210.2L413.5 210.2L414.1 210.3L415.0 210.5L416.0 210.8L416.5 211.0L417.1 211.3L417.9 211.8L418.5 212.2L419.0 212.5L419.9 212.8L420.5 212.8L421.0 212.6L421.5 212.2L422.0 211.7L422.5 211.2L423.0 210.6L423.5 210.1L424.0 209.6L424.5 209.1L425.0 208.6L425.5 208.2L426.1 207.8L427.0 207.3L427.5 207.0L428.1 206.8L429.0 206.5L429.7 206.3ZM449.7 167.8L450.5 167.6L451.5 167.5L452.5 167.5L453.5 167.5L454.5 167.5L455.5 167.7L456.5 167.8L457.0 167.8L458.0 168.0L459.0 168.1L460.0 168.3L460.5 168.3L461.5 168.5L462.5 168.6L463.5 168.8L464.0 168.8L465.0 168.9L466.0 169.1L466.9 169.3L467.5 169.5L468.5 169.8L469.0 169.9L469.9 170.3L470.5 170.5L471.0 170.8L472.0 171.2L472.5 171.5L473.2 171.8L474.0 172.1L474.5 172.4L475.4 172.8L476.0 173.1L476.5 173.4L477.2 173.8L478.0 174.3L478.5 174.7L479.0 175.2L479.5 175.7L480.0 176.3L480.4 176.8L480.8 177.3L481.1 177.8L481.5 178.8L481.7 179.3L481.9 180.3L482.0 180.8L482.1 181.8L482.1 182.8L482.0 183.3L481.8 184.3L481.5 185.1L481.2 185.8L480.9 186.3L480.5 186.9L480.0 187.5L479.5 188.0L479.0 188.5L478.5 188.9L477.8 189.3L477.0 189.7L476.5 189.9L475.5 190.2L475.0 190.3L474.0 190.5L473.0 190.7L472.1 190.8L471.5 190.9L470.5 191.0L469.5 191.2L468.6 191.3L468.0 191.4L467.0 191.5L466.0 191.5L465.0 191.6L464.0 191.6L463.0 191.6L462.0 191.5L461.0 191.4L460.5 191.3L459.5 191.1L458.5 190.9L458.0 190.8L457.0 190.5L456.2 190.3L455.5 190.1L454.5 189.8L454.0 189.7L453.0 189.5L452.2 189.3L451.5 189.2L450.5 189.1L449.5 189.0L448.5 189.0L447.5 189.1L446.6 189.3L446.0 189.5L445.0 189.8L444.5 190.0L443.5 190.3L443.0 190.4L442.0 190.6L441.0 190.7L440.0 190.7L439.0 190.6L438.0 190.4L437.5 190.2L436.7 189.8L436.0 189.3L435.5 189.0L435.0 188.5L434.5 188.0L434.0 187.4L433.5 186.8L433.2 186.3L432.9 185.8L432.5 184.8L432.3 184.3L432.0 183.3L431.9 182.8L431.8 181.8L431.7 180.8L431.8 179.8L432.0 178.8L432.1 178.3L432.5 177.3L432.7 176.8L433.0 176.2L433.5 175.4L433.9 174.8L434.3 174.3L434.8 173.8L435.3 173.3L435.9 172.8L436.5 172.4L437.0 172.1L437.6 171.8L438.5 171.4L439.0 171.2L440.0 170.9L440.5 170.7L441.5 170.5L442.1 170.3L443.0 170.0L443.8 169.8L444.5 169.5L445.1 169.3L446.0 168.9L446.5 168.8L447.5 168.4L448.0 168.2L449.0 168.0L449.7 167.8ZM431.5 204.8L432.5 204.7L433.5 204.6L434.5 204.6L435.5 204.7L436.5 204.8L437.0 204.8L438.0 204.9L439.0 204.9L440.0 204.9L441.0 204.9L442.0 204.9L443.0 204.9L444.0 205.0L445.0 205.1L446.0 205.2L446.5 205.3L447.5 205.5L448.5 205.6L449.5 205.7L450.5 205.7L451.5 205.6L452.5 205.4L453.5 205.3L454.0 205.2L455.0 205.2L455.9 205.3L456.5 205.4L457.5 205.6L458.0 205.8L459.0 206.2L459.5 206.5L460.0 206.8L460.6 207.3L461.2 207.8L461.7 208.3L462.1 208.8L462.5 209.3L463.0 210.1L463.4 210.8L463.7 211.3L464.0 212.3L464.2 212.8L464.3 213.8L464.4 214.8L464.4 215.8L464.3 216.8L464.1 217.8L464.0 218.3L463.7 219.3L463.4 219.8L463.0 220.6L462.6 221.3L462.2 221.8L461.8 222.3L461.3 222.8L460.8 223.3L460.1 223.8L459.5 224.2L459.0 224.5L458.4 224.8L457.5 225.2L457.0 225.3L456.0 225.5L455.0 225.5L454.0 225.5L453.0 225.4L452.5 225.3L451.5 225.0L451.0 224.8L450.0 224.5L449.5 224.3L448.5 224.1L447.5 224.1L446.6 224.3L446.0 224.5L445.4 224.8L444.7 225.3L444.1 225.8L443.5 226.3L443.0 226.8L442.5 227.2L442.0 227.7L441.5 228.1L441.0 228.5L440.5 228.9L439.8 229.3L439.0 229.7L438.5 230.0L437.8 230.3L437.0 230.6L436.3 230.8L435.5 231.0L434.5 231.2L433.5 231.3L433.0 231.4L432.0 231.5L431.0 231.6L430.0 231.6L429.0 231.7L428.0 231.8L427.5 231.8L426.5 231.9L425.5 231.9L424.5 232.0L423.5 232.1L422.5 232.2L422.0 232.3L421.0 232.5L420.0 232.6L419.0 232.6L418.0 232.6L417.0 232.4L416.3 232.3L415.5 232.1L414.5 231.8L414.0 231.7L413.1 231.3L412.5 231.0L412.0 230.8L411.1 230.3L410.5 230.0L410.0 229.7L409.5 229.3L408.8 228.8L408.3 228.3L407.8 227.8L407.4 227.3L407.0 226.7L406.5 225.9L406.1 225.3L405.9 224.8L405.5 224.0L405.2 223.3L405.0 222.4L404.9 221.8L404.7 220.8L404.7 219.8L404.6 218.8L404.7 217.8L404.8 216.8L405.0 216.0L405.2 215.3L405.5 214.6L405.9 213.8L406.3 213.3L406.6 212.8L407.0 212.3L407.5 211.8L408.0 211.3L408.5 210.8L409.2 210.3L410.0 209.8L410.5 209.6L411.4 209.3L412.0 209.2L413.0 209.1L414.0 209.2L414.7 209.3L415.5 209.5L416.4 209.8L417.0 210.0L417.6 210.3L418.5 210.7L419.0 210.9L420.0 211.1L421.0 210.8L421.5 210.5L422.0 210.1L422.5 209.7L423.0 209.2L423.5 208.8L424.0 208.3L424.6 207.8L425.3 207.3L426.0 206.8L426.5 206.5L427.0 206.3L428.0 205.8L428.5 205.7L429.5 205.3L430.0 205.2L431.0 204.9L431.5 204.8Z" stroke="#000" stroke-width="0.8" fill="none" stroke-linejoin="round"/>
<ellipse cx="467" cy="155.4" rx="2.6" ry="1.3" fill="none" stroke="#1a1a1a" stroke-width="0.6"/>
<line x1="444.8" y1="289.6" x2="444.8" y2="409" stroke="#787878" stroke-width="1.3"/>
<line x1="387.5" y1="331.2" x2="501.2" y2="331.2" stroke="#787878" stroke-width="1.3"/>
<line x1="387.0" y1="289.6" x2="501.7" y2="289.6" stroke="#707070" stroke-width="1"/>
<line x1="501.2" y1="289.6" x2="501.2" y2="409.5" stroke="#484848" stroke-width="1"/>
<line x1="387.0" y1="409" x2="501.2" y2="409" stroke="#888" stroke-width="1"/>
<line x1="387.5" y1="289.6" x2="387.5" y2="409" stroke="#a8a8a8" stroke-width="1"/>
<path d="M387.5 409v1.6M387.5 409.0h-1.5M396.1 409v1.6M387.5 400.0h-1.5M401.1 409v1.6M387.5 394.8h-1.5M404.6 409v1.6M387.5 391.0h-1.5M407.4 409v1.6M387.5 388.1h-1.5M409.6 409v1.6M387.5 385.8h-1.5M411.5 409v1.6M387.5 383.8h-1.5M413.2 409v1.6M387.5 382.0h-1.5M414.6 409v1.6M387.5 380.5h-1.5M424.5 409v1.6M387.5 370.2h-1.5M429.5 409v1.6M387.5 364.9h-1.5M433.0 409v1.6M387.5 361.2h-1.5M435.8 409v1.6M387.5 358.3h-1.5M438.0 409v1.6M387.5 355.9h-1.5M439.9 409v1.6M387.5 353.9h-1.5M441.6 409v1.6M387.5 352.2h-1.5M443.0 409v1.6M387.5 350.7h-1.5M452.9 409v1.6M387.5 340.3h-1.5M457.9 409v1.6M387.5 335.1h-1.5M461.5 409v1.6M387.5 331.3h-1.5M464.2 409v1.6M387.5 328.4h-1.5M466.5 409v1.6M387.5 326.1h-1.5M468.4 409v1.6M387.5 324.1h-1.5M470.0 409v1.6M387.5 322.3h-1.5M471.5 409v1.6M387.5 320.8h-1.5M481.3 409v1.6M387.5 310.5h-1.5M486.3 409v1.6M387.5 305.2h-1.5M489.9 409v1.6M387.5 301.5h-1.5M492.6 409v1.6M387.5 298.6h-1.5M494.9 409v1.6M387.5 296.2h-1.5M496.8 409v1.6M387.5 294.2h-1.5M498.4 409v1.6M387.5 292.5h-1.5M499.9 409v1.6M387.5 291.0h-1.5" stroke="#222" stroke-width="0.65" fill="none"/>
<path d="M415.9 409v2.6M387.5 379.1h-2.4M444.4 409v2.6M387.5 349.3h-2.4M472.8 409v2.6M387.5 319.5h-2.4" stroke="#222" stroke-width="1.1" fill="none"/>
<path d="M445.5 301.6L446.5 301.5L447.5 301.4L448.5 301.4L449.5 301.4L450.5 301.4L451.5 301.5L452.2 301.6L453.0 301.7L454.0 301.8L455.0 301.8L456.0 301.8L457.0 301.8L458.0 301.8L459.0 301.8L460.0 301.7L461.0 301.7L462.0 301.7L463.0 301.8L464.0 301.8L465.0 301.8L466.0 301.7L467.0 301.7L468.0 301.7L469.0 301.9L470.0 302.0L470.6 302.1L471.5 302.2L472.5 302.4L473.5 302.5L474.0 302.6L475.0 302.8L476.0 303.0L476.7 303.1L477.5 303.2L478.5 303.4L479.5 303.6L480.0 303.6L481.0 303.7L482.0 303.9L483.0 304.1L483.5 304.2L484.5 304.5L485.0 304.6L486.0 305.0L486.5 305.3L487.1 305.6L487.9 306.1L488.5 306.6L489.0 307.1L489.5 307.6L489.9 308.1L490.2 308.6L490.5 309.1L491.0 309.9L491.3 310.6L491.5 311.1L491.8 312.1L492.0 313.1L492.1 313.6L492.2 314.6L492.1 315.6L492.0 316.6L492.0 317.1L491.9 318.1L491.7 319.1L491.5 319.9L491.3 320.6L491.0 321.3L490.6 322.1L490.3 322.6L490.0 323.2L489.5 324.0L489.1 324.6L488.7 325.1L488.3 325.6L487.8 326.1L487.3 326.6L486.8 327.1L486.3 327.6L485.8 328.1L485.2 328.6L484.6 329.1L484.0 329.6L483.5 330.0L483.0 330.4L482.5 330.7L482.0 331.1L481.2 331.6L480.5 332.0L480.0 332.3L479.3 332.6L478.5 333.0L478.0 333.2L477.0 333.6L476.5 333.8L475.7 334.1L475.0 334.3L474.0 334.6L473.5 334.7L472.5 334.9L471.7 335.1L471.0 335.3L470.0 335.5L469.2 335.6L468.5 335.7L467.5 335.9L466.5 336.0L465.6 336.1L465.0 336.2L464.0 336.2L463.0 336.2L462.0 336.2L461.0 336.1L460.5 336.1L459.5 336.0L458.5 335.9L457.5 335.7L457.0 335.6L456.0 335.3L455.4 335.1L454.5 334.8L453.8 334.6L453.0 334.4L452.3 334.1L451.5 333.8L450.8 333.6L450.0 333.4L449.3 333.1L448.5 332.8L448.0 332.6L447.0 332.1L446.5 331.9L445.5 331.7L444.5 331.9L444.0 332.4L443.7 333.1L443.5 333.6L443.2 334.6L443.0 335.6L443.0 336.1L442.8 337.1L442.7 338.1L442.6 339.1L442.5 340.1L442.6 341.1L442.6 342.1L442.7 343.1L442.9 344.1L443.0 344.8L443.4 345.6L444.0 346.1L444.7 345.6L445.2 345.1L445.8 344.6L446.3 344.1L446.8 343.6L447.4 343.1L448.0 342.6L448.5 342.2L449.0 341.8L449.5 341.5L450.2 341.1L451.0 340.7L451.5 340.5L452.5 340.2L453.0 340.0L454.0 339.7L454.5 339.5L455.5 339.3L456.5 339.2L457.5 339.2L458.5 339.2L459.5 339.2L460.5 339.3L461.5 339.5L462.0 339.7L463.0 340.1L463.5 340.3L464.2 340.6L465.0 341.0L465.5 341.4L466.0 341.7L466.5 342.1L467.0 342.6L467.6 343.1L468.1 343.6L468.5 344.1L469.0 344.7L469.5 345.4L469.9 346.1L470.1 346.6L470.5 347.6L470.7 348.1L470.9 349.1L471.0 349.6L471.1 350.6L471.0 351.2L470.8 352.1L470.5 353.1L470.4 353.6L470.0 354.5L469.7 355.1L469.5 355.6L469.0 356.3L468.5 357.0L468.0 357.6L467.5 358.1L467.0 358.6L466.5 359.1L466.0 359.5L465.5 359.9L465.0 360.2L464.2 360.6L463.5 360.9L463.0 361.1L462.0 361.4L461.5 361.6L460.5 361.9L459.5 362.0L458.7 362.1L458.0 362.1L457.5 362.1L456.5 362.0L455.5 362.0L454.5 361.9L453.5 361.7L453.0 361.5L452.0 361.2L451.5 361.0L450.5 360.7L450.0 360.4L449.4 360.1L448.6 359.6L448.0 359.2L447.5 358.7L447.0 358.3L446.5 357.7L446.0 357.1L445.7 356.6L445.3 356.1L445.0 355.5L444.5 354.7L444.1 354.1L443.6 353.6L443.0 353.4L442.5 353.7L442.0 354.1L441.5 354.6L441.0 355.1L440.5 355.6L440.0 356.1L439.3 356.6L438.5 357.1L438.0 357.2L437.0 357.3L436.1 357.1L435.5 356.8L435.0 356.4L434.5 355.8L434.0 355.1L433.8 354.6L433.5 353.9L433.2 353.1L433.0 352.4L432.8 351.6L432.6 350.6L432.5 350.1L432.4 349.1L432.4 348.1L432.5 347.1L432.5 346.6L432.7 345.6L432.8 344.6L433.0 343.7L433.1 343.1L433.2 342.1L433.2 341.1L433.3 340.1L433.3 339.1L433.3 338.1L433.3 337.1L433.2 336.1L433.2 335.1L433.1 334.1L433.1 333.1L433.0 332.1L433.0 331.2L433.0 330.6L432.9 329.6L432.9 328.6L432.9 327.6L432.9 326.6L433.0 325.6L433.0 325.1L433.1 324.1L433.2 323.1L433.2 322.1L433.3 321.1L433.4 320.1L433.5 319.3L433.6 318.6L433.7 317.6L433.9 316.6L434.0 316.1L434.3 315.1L434.5 314.5L434.8 313.6L435.0 313.1L435.3 312.1L435.5 311.5L435.7 310.6L435.9 309.6L436.0 309.1L436.4 308.1L436.7 307.6L437.0 307.0L437.5 306.3L438.0 305.6L438.5 305.1L439.0 304.6L439.5 304.1L440.0 303.8L440.5 303.4L441.1 303.1L442.0 302.6L442.5 302.4L443.4 302.1L444.0 301.9L445.0 301.7L445.5 301.6ZM413.8 328.6L414.5 328.4L415.5 328.2L416.5 328.2L417.5 328.4L418.1 328.6L418.8 329.1L419.2 329.6L419.5 330.2L419.7 331.1L419.6 332.1L419.5 332.6L419.0 333.4L418.5 333.8L418.0 334.2L417.0 334.6L416.5 334.7L415.5 334.8L414.6 334.6L414.0 334.2L413.5 333.8L413.0 333.3L412.6 332.6L412.4 332.1L412.3 331.1L412.5 330.1L412.7 329.6L413.1 329.1L413.8 328.6ZM445.8 302.1L446.5 302.0L447.5 301.9L448.5 301.9L449.5 301.9L450.5 302.0L451.5 302.1L452.0 302.1L453.0 302.3L454.0 302.4L455.0 302.5L456.0 302.5L457.0 302.6L458.0 302.6L459.0 302.6L460.0 302.5L461.0 302.5L462.0 302.5L463.0 302.6L463.7 302.6L464.5 302.6L465.0 302.6L466.0 302.6L467.0 302.5L468.0 302.6L468.5 302.6L469.5 302.8L470.5 302.9L471.5 303.0L472.0 303.1L473.0 303.3L474.0 303.4L474.9 303.6L475.5 303.7L476.5 303.9L477.5 304.0L478.0 304.1L479.0 304.3L480.0 304.4L481.0 304.5L482.0 304.6L482.5 304.7L483.5 304.9L484.2 305.1L485.0 305.4L485.6 305.6L486.5 306.0L487.0 306.3L487.5 306.7L488.0 307.1L488.6 307.6L489.0 308.1L489.5 308.8L490.0 309.5L490.4 310.1L490.6 310.6L490.9 311.6L491.1 312.1L491.3 313.1L491.4 314.1L491.4 315.1L491.3 316.1L491.2 317.1L491.1 318.1L491.0 318.6L490.7 319.6L490.5 320.2L490.1 321.1L489.9 321.6L489.5 322.2L489.0 323.1L488.6 323.6L488.3 324.1L487.9 324.6L487.4 325.1L486.9 325.6L486.3 326.1L485.8 326.6L485.3 327.1L484.7 327.6L484.2 328.1L483.6 328.6L483.0 329.1L482.5 329.5L482.0 329.9L481.5 330.3L481.0 330.6L480.2 331.1L479.5 331.5L479.0 331.7L478.2 332.1L477.5 332.4L477.0 332.7L476.0 333.0L475.5 333.2L474.5 333.5L474.0 333.7L473.0 333.9L472.1 334.1L471.5 334.2L470.5 334.5L469.8 334.6L469.0 334.8L468.0 334.9L467.0 335.1L466.5 335.1L465.5 335.2L464.5 335.2L463.5 335.2L462.5 335.1L462.0 335.1L461.0 335.0L460.0 334.9L459.0 334.8L458.0 334.7L457.5 334.6L456.5 334.3L455.7 334.1L455.0 333.9L454.0 333.6L453.5 333.5L452.5 333.1L452.0 333.0L451.0 332.6L450.5 332.5L449.5 332.1L449.0 331.9L448.4 331.6L447.5 331.1L447.0 330.8L446.5 330.5L445.6 330.1L445.0 329.9L444.0 329.8L443.3 330.1L442.8 330.6L442.5 331.2L442.2 332.1L442.0 333.1L442.0 333.6L441.9 334.6L441.8 335.6L441.6 336.6L441.5 337.3L441.4 338.1L441.2 339.1L441.2 340.1L441.2 341.1L441.2 342.1L441.2 343.1L441.3 344.1L441.4 345.1L441.5 346.1L441.5 346.6L441.6 347.6L441.6 348.6L441.5 349.6L441.5 350.1L441.3 351.1L441.1 352.1L440.9 352.6L440.5 353.4L440.0 354.1L439.6 354.6L439.0 355.1L438.5 355.4L437.9 355.6L437.0 355.6L436.5 355.5L435.8 355.1L435.3 354.6L434.9 354.1L434.5 353.3L434.2 352.6L434.0 352.1L433.6 351.1L433.5 350.6L433.3 349.6L433.3 348.6L433.3 347.6L433.4 346.6L433.5 346.1L433.7 345.1L434.0 344.1L434.1 343.6L434.3 342.6L434.4 341.6L434.4 340.6L434.5 339.6L434.5 338.9L434.5 338.1L434.5 337.1L434.5 336.5L434.4 335.6L434.4 334.6L434.3 333.6L434.3 332.6L434.2 331.6L434.1 330.6L434.1 329.6L434.1 328.6L434.0 327.6L434.0 326.6L434.0 325.6L434.1 324.6L434.2 323.6L434.3 322.6L434.4 321.6L434.5 320.8L434.6 320.1L434.7 319.1L434.9 318.1L435.0 317.3L435.2 316.6L435.5 315.6L435.7 315.1L436.0 314.3L436.3 313.6L436.5 312.9L436.7 312.1L436.8 311.1L436.9 310.1L437.0 309.5L437.2 308.6L437.5 308.0L437.9 307.1L438.2 306.6L438.6 306.1L439.0 305.6L439.5 305.1L440.0 304.6L440.7 304.1L441.5 303.6L442.0 303.3L442.5 303.1L443.5 302.7L444.0 302.5L445.0 302.2L445.8 302.1ZM454.8 340.6L455.5 340.5L456.5 340.4L457.5 340.4L458.5 340.5L459.5 340.6L460.0 340.6L461.0 340.8L462.0 341.1L462.5 341.2L463.4 341.6L464.0 341.9L464.5 342.1L465.2 342.6L465.9 343.1L466.5 343.6L467.0 344.1L467.5 344.6L467.9 345.1L468.3 345.6L468.6 346.1L469.0 346.9L469.3 347.6L469.5 348.2L469.7 349.1L469.8 350.1L469.8 351.1L469.6 352.1L469.5 352.6L469.2 353.6L469.0 354.1L468.5 355.1L468.2 355.6L467.8 356.1L467.4 356.6L467.0 357.1L466.5 357.6L466.0 358.1L465.4 358.6L464.7 359.1L464.0 359.5L463.5 359.8L462.8 360.1L462.0 360.4L461.4 360.6L460.5 360.8L459.5 361.0L458.7 361.1L458.0 361.1L457.1 361.1L456.5 361.1L455.5 361.0L454.5 360.9L453.5 360.6L453.0 360.5L452.0 360.1L451.5 359.9L450.8 359.6L450.0 359.2L449.5 358.9L449.0 358.6L448.4 358.1L447.9 357.6L447.5 357.1L447.0 356.4L446.5 355.6L446.3 355.1L446.0 354.3L445.8 353.6L445.5 352.6L445.4 352.1L445.3 351.1L445.4 350.1L445.5 349.4L445.6 348.6L445.9 347.6L446.1 347.1L446.5 346.3L446.9 345.6L447.2 345.1L447.6 344.6L448.1 344.1L448.6 343.6L449.2 343.1L449.8 342.6L450.5 342.2L451.0 341.9L451.8 341.6L452.5 341.3L453.1 341.1L454.0 340.8L454.8 340.6ZM446.0 302.6L447.0 302.5L448.0 302.4L449.0 302.4L450.0 302.5L451.0 302.6L451.5 302.6L452.5 302.8L453.5 302.9L454.5 303.1L455.0 303.1L456.0 303.2L457.0 303.3L458.0 303.3L459.0 303.3L460.0 303.3L461.0 303.3L462.0 303.3L463.0 303.3L464.0 303.4L465.0 303.4L466.0 303.4L467.0 303.4L468.0 303.4L469.0 303.5L469.5 303.6L470.5 303.7L471.5 303.8L472.5 304.0L473.1 304.1L474.0 304.2L475.0 304.4L476.0 304.6L476.5 304.7L477.5 304.8L478.5 305.0L479.5 305.1L480.0 305.1L481.0 305.2L482.0 305.3L483.0 305.5L483.5 305.6L484.5 305.9L485.0 306.1L486.0 306.5L486.5 306.8L487.0 307.1L487.6 307.6L488.1 308.1L488.5 308.6L489.0 309.2L489.5 310.0L489.8 310.6L490.0 311.1L490.4 312.1L490.5 312.7L490.7 313.6L490.7 314.6L490.7 315.6L490.5 316.6L490.5 317.1L490.3 318.1L490.0 319.1L489.8 319.6L489.5 320.4L489.1 321.1L488.8 321.6L488.5 322.2L488.0 322.9L487.5 323.6L487.0 324.1L486.5 324.6L486.0 325.1L485.5 325.5L485.0 326.0L484.5 326.4L484.0 326.9L483.5 327.3L483.0 327.8L482.5 328.3L482.0 328.7L481.5 329.1L480.8 329.6L480.0 330.1L479.5 330.4L479.0 330.7L478.2 331.1L477.5 331.5L477.0 331.7L476.0 332.1L475.5 332.3L474.5 332.6L474.0 332.7L473.0 333.0L472.5 333.1L471.5 333.3L470.5 333.6L470.0 333.7L469.0 333.9L468.0 334.1L467.5 334.2L466.5 334.3L465.5 334.3L464.5 334.3L463.5 334.2L462.5 334.2L461.5 334.1L461.0 334.1L460.0 334.0L459.0 333.9L458.0 333.7L457.4 333.6L456.5 333.4L455.5 333.1L455.0 332.9L454.0 332.6L453.5 332.5L452.5 332.1L452.0 332.0L451.0 331.6L450.5 331.4L449.8 331.1L449.0 330.7L448.5 330.4L448.0 330.1L447.2 329.6L446.5 329.1L446.0 328.8L445.5 328.5L444.7 328.1L444.0 327.8L443.0 327.7L442.2 328.1L441.7 328.6L441.3 329.1L441.0 329.6L440.5 330.4L440.2 331.1L440.0 331.6L439.8 332.6L439.9 333.6L440.0 334.6L439.9 335.6L439.8 336.6L439.5 337.6L439.4 338.1L439.2 339.1L439.2 340.1L439.2 341.1L439.2 342.1L439.4 343.1L439.5 343.8L439.7 344.6L439.8 345.6L440.0 346.6L440.0 347.1L440.1 348.1L440.1 349.1L440.0 350.1L439.9 350.6L439.6 351.6L439.4 352.1L439.0 352.8L438.5 353.3L437.5 353.6L436.5 353.2L436.0 352.7L435.5 352.1L435.1 351.6L434.9 351.1L434.5 350.2L434.4 349.6L434.3 348.6L434.4 347.6L434.5 346.9L434.7 346.1L435.0 345.3L435.2 344.6L435.5 343.8L435.7 343.1L436.0 342.1L436.1 341.6L436.3 340.6L436.4 339.6L436.5 338.7L436.5 338.1L436.5 337.4L436.4 336.6L436.3 335.6L436.2 334.6L436.0 333.6L436.0 333.1L435.8 332.1L435.7 331.1L435.7 330.1L435.7 329.1L435.6 328.1L435.5 327.2L435.4 326.6L435.4 325.6L435.5 324.6L435.6 324.1L435.7 323.1L435.7 322.1L435.8 321.1L435.9 320.1L436.0 319.5L436.2 318.6L436.5 317.6L436.6 317.1L437.0 316.4L437.4 315.6L437.6 315.1L437.9 314.1L438.0 313.1L437.9 312.1L437.9 311.1L437.9 310.1L438.0 309.4L438.2 308.6L438.5 307.8L438.9 307.1L439.2 306.6L439.5 306.1L440.0 305.6L440.5 305.1L441.1 304.6L441.9 304.1L442.5 303.7L443.0 303.5L444.0 303.1L444.5 302.9L445.5 302.7L446.0 302.6ZM455.3 341.6L456.0 341.5L457.0 341.5L458.0 341.6L458.5 341.6L459.5 341.7L460.5 341.9L461.4 342.1L462.0 342.3L462.9 342.6L463.5 342.9L464.0 343.2L464.7 343.6L465.3 344.1L465.9 344.6L466.4 345.1L466.9 345.6L467.2 346.1L467.5 346.6L468.0 347.6L468.2 348.1L468.5 349.1L468.5 349.6L468.5 350.6L468.5 351.1L468.3 352.1L468.1 353.1L468.0 353.6L467.5 354.6L467.2 355.1L466.8 355.6L466.4 356.1L466.0 356.6L465.4 357.1L464.9 357.6L464.2 358.1L463.5 358.6L463.0 358.8L462.4 359.1L461.5 359.5L461.0 359.6L460.0 359.9L459.0 360.0L458.0 360.1L457.5 360.1L457.0 360.1L456.0 360.0L455.0 359.9L454.0 359.7L453.5 359.5L452.6 359.1L452.0 358.8L451.5 358.6L450.5 358.1L450.0 357.8L449.5 357.4L449.0 357.0L448.5 356.4L448.0 355.6L447.7 355.1L447.5 354.5L447.2 353.6L447.0 352.7L446.9 352.1L446.9 351.1L447.0 350.1L447.0 349.6L447.2 348.6L447.4 347.6L447.6 347.1L448.0 346.3L448.4 345.6L448.8 345.1L449.2 344.6L449.8 344.1L450.5 343.6L451.0 343.2L451.5 343.0L452.3 342.6L453.0 342.3L453.5 342.1L454.5 341.8L455.3 341.6ZM446.4 303.1L447.0 303.0L448.0 303.0L449.0 303.0L450.0 303.1L450.5 303.1L451.5 303.2L452.5 303.4L453.5 303.5L454.0 303.6L455.0 303.8L456.0 303.9L457.0 304.0L458.0 304.1L458.5 304.1L459.5 304.1L460.4 304.1L461.0 304.1L461.9 304.1L462.5 304.1L463.5 304.2L464.5 304.2L465.5 304.2L466.5 304.2L467.5 304.3L468.5 304.4L469.5 304.5L470.5 304.6L471.0 304.7L472.0 304.8L473.0 304.9L474.0 305.1L474.5 305.1L475.5 305.3L476.5 305.5L477.2 305.6L478.0 305.7L479.0 305.9L480.0 305.9L481.0 306.0L482.0 306.1L482.5 306.1L483.5 306.4L484.3 306.6L485.0 306.8L485.6 307.1L486.4 307.6L487.0 308.1L487.5 308.5L488.0 309.1L488.4 309.6L488.7 310.1L489.0 310.6L489.4 311.6L489.6 312.1L489.8 313.1L490.0 314.1L490.0 315.1L489.9 316.1L489.7 317.1L489.5 317.9L489.3 318.6L489.0 319.4L488.7 320.1L488.4 320.6L488.0 321.2L487.5 322.0L487.0 322.6L486.6 323.1L486.1 323.6L485.6 324.1L485.1 324.6L484.5 325.1L484.0 325.5L483.5 326.0L483.0 326.4L482.5 326.9L482.0 327.4L481.5 327.8L481.0 328.2L480.5 328.6L479.8 329.1L479.0 329.6L478.5 329.9L478.0 330.1L477.0 330.6L476.5 330.8L475.9 331.1L475.0 331.4L474.5 331.6L473.5 331.9L472.8 332.1L472.0 332.3L471.0 332.5L470.5 332.6L469.5 332.9L468.6 333.1L468.0 333.2L467.0 333.3L466.0 333.4L465.0 333.4L464.0 333.3L463.0 333.3L462.0 333.3L461.0 333.2L460.3 333.1L459.5 333.0L458.5 332.9L457.5 332.7L457.0 332.6L456.0 332.3L455.3 332.1L454.5 331.8L453.8 331.6L453.0 331.3L452.4 331.1L451.5 330.7L451.0 330.5L450.1 330.1L449.5 329.8L449.0 329.5L448.4 329.1L447.7 328.6L447.0 328.1L446.5 327.7L446.0 327.4L445.5 327.0L445.0 326.6L444.4 326.1L443.8 325.6L443.2 325.1L442.5 324.6L442.0 324.4L441.1 324.1L440.5 324.0L439.5 324.0L438.9 323.6L438.5 323.0L438.2 322.1L438.1 321.1L438.2 320.1L438.5 319.2L438.8 318.6L439.0 318.1L439.4 317.1L439.6 316.6L439.7 315.6L439.7 314.6L439.5 313.6L439.4 313.1L439.1 312.1L439.0 311.2L438.9 310.6L438.9 309.6L439.0 309.1L439.3 308.1L439.5 307.6L440.0 306.7L440.5 306.1L440.9 305.6L441.5 305.1L442.0 304.8L442.5 304.5L443.2 304.1L444.0 303.7L444.5 303.6L445.5 303.3L446.4 303.1ZM454.1 343.1L455.0 342.8L456.0 342.6L457.0 342.6L458.0 342.7L459.0 342.8L460.0 343.0L460.5 343.1L461.5 343.3L462.2 343.6L463.0 344.0L463.5 344.3L464.0 344.6L464.6 345.1L465.1 345.6L465.6 346.1L466.0 346.6L466.5 347.5L466.8 348.1L467.0 348.9L467.1 349.6L467.2 350.6L467.1 351.6L467.0 352.3L466.8 353.1L466.5 353.9L466.1 354.6L465.7 355.1L465.2 355.6L464.7 356.1L464.2 356.6L463.5 357.1L463.0 357.5L462.5 357.8L461.8 358.1L461.0 358.4L460.3 358.6L459.5 358.8L458.5 359.0L457.5 359.0L456.5 359.0L455.5 358.9L454.5 358.6L454.0 358.4L453.3 358.1L452.5 357.7L452.0 357.4L451.5 357.1L450.7 356.6L450.1 356.1L449.7 355.6L449.4 355.1L449.0 354.3L448.7 353.6L448.5 352.6L448.4 352.1L448.4 351.1L448.4 350.1L448.5 349.1L448.6 348.6L448.9 347.6L449.1 347.1L449.5 346.4L450.0 345.7L450.5 345.2L451.0 344.8L451.5 344.4L452.0 344.1L453.0 343.6L453.5 343.3L454.1 343.1ZM436.4 347.6L437.0 347.1L437.6 347.6L437.9 348.6L437.7 349.6L437.1 350.1L436.9 350.1L436.3 349.6L436.1 348.6L436.4 347.6ZM447.2 303.6L448.0 303.6L449.0 303.6L449.5 303.6L450.5 303.7L451.5 303.8L452.5 304.0L453.1 304.1L454.0 304.3L455.0 304.5L455.9 304.6L456.5 304.7L457.5 304.8L458.5 304.9L459.5 304.9L460.5 304.9L461.5 304.9L462.5 304.9L463.5 305.0L464.5 305.1L465.2 305.1L466.0 305.1L467.0 305.2L468.0 305.2L469.0 305.3L470.0 305.4L471.0 305.6L471.5 305.6L472.5 305.7L473.5 305.9L474.5 306.0L475.0 306.1L476.0 306.3L477.0 306.4L478.0 306.6L478.5 306.7L479.5 306.7L480.5 306.7L481.5 306.8L482.5 306.9L483.3 307.1L484.0 307.3L484.9 307.6L485.5 307.9L486.0 308.2L486.5 308.6L487.0 309.1L487.5 309.6L488.0 310.3L488.4 311.1L488.6 311.6L488.9 312.6L489.1 313.1L489.2 314.1L489.2 315.1L489.1 316.1L489.0 316.8L488.8 317.6L488.5 318.4L488.2 319.1L487.9 319.6L487.5 320.4L487.0 321.1L486.6 321.6L486.2 322.1L485.7 322.6L485.2 323.1L484.6 323.6L484.0 324.1L483.5 324.5L483.0 325.0L482.5 325.4L482.0 325.9L481.5 326.4L481.0 326.9L480.5 327.3L480.0 327.7L479.5 328.1L478.7 328.6L478.0 329.0L477.5 329.2L476.8 329.6L476.0 330.0L475.5 330.2L474.5 330.6L474.0 330.8L473.0 331.1L472.5 331.2L471.5 331.4L470.8 331.6L470.0 331.8L469.0 332.1L468.5 332.2L467.5 332.3L466.5 332.4L465.5 332.4L464.5 332.4L463.5 332.4L462.5 332.4L461.5 332.3L460.5 332.2L459.9 332.1L459.0 332.0L458.0 331.8L457.0 331.6L456.5 331.5L455.5 331.2L455.0 331.1L454.0 330.7L453.5 330.5L452.5 330.1L452.0 329.9L451.4 329.6L450.5 329.2L450.0 328.9L449.5 328.6L448.8 328.1L448.2 327.6L447.5 327.1L447.0 326.6L446.5 326.2L446.0 325.7L445.5 325.2L445.0 324.6L444.6 324.1L444.3 323.6L444.0 323.1L443.5 322.4L443.1 321.6L442.8 321.1L442.5 320.2L442.3 319.6L442.0 318.6L441.9 318.1L441.8 317.1L441.6 316.1L441.5 315.5L441.2 314.6L441.0 314.0L440.6 313.1L440.5 312.6L440.1 311.6L440.0 311.0L439.9 310.1L439.9 309.1L440.0 308.6L440.4 307.6L440.7 307.1L441.0 306.6L441.5 306.1L442.0 305.6L442.7 305.1L443.5 304.7L444.0 304.4L444.8 304.1L445.5 303.9L446.5 303.7L447.2 303.6ZM455.3 344.1L456.0 343.9L457.0 343.8L458.0 343.9L459.0 344.1L459.5 344.2L460.5 344.4L461.1 344.6L462.0 345.0L462.5 345.3L463.0 345.6L463.6 346.1L464.1 346.6L464.5 347.1L465.0 347.9L465.3 348.6L465.5 349.4L465.6 350.1L465.7 351.1L465.6 352.1L465.5 352.6L465.0 353.6L464.7 354.1L464.3 354.6L463.8 355.1L463.3 355.6L462.7 356.1L462.0 356.6L461.5 356.8L460.9 357.1L460.0 357.4L459.2 357.6L458.5 357.7L457.5 357.8L456.5 357.7L455.8 357.6L455.0 357.4L454.3 357.1L453.5 356.7L453.0 356.4L452.5 356.0L451.9 355.6L451.4 355.1L451.0 354.6L450.5 353.7L450.3 353.1L450.1 352.1L450.0 351.6L449.9 350.6L450.0 349.6L450.1 349.1L450.3 348.1L450.6 347.6L451.0 346.9L451.5 346.3L452.0 345.8L452.5 345.4L453.0 345.1L454.0 344.6L454.5 344.4L455.3 344.1ZM461.5 317.6L462.0 317.4L463.0 317.4L463.5 317.6L464.1 318.1L464.5 319.0L464.5 319.3L464.2 320.1L463.6 320.6L463.0 320.8L462.0 320.9L461.0 320.6L460.5 320.1L460.4 319.6L460.5 318.7L460.9 318.1L461.5 317.6ZM461.2 317.1L462.0 316.9L463.0 316.9L463.7 317.1L464.4 317.6L464.8 318.1L465.1 318.6L465.1 319.6L465.0 320.1L464.5 320.7L463.9 321.1L463.0 321.4L462.0 321.5L461.0 321.4L460.5 321.1L460.0 320.5L459.7 319.6L459.8 318.6L460.1 318.1L460.5 317.6L461.2 317.1ZM460.9 316.6L461.5 316.4L462.5 316.3L463.5 316.4L464.0 316.6L464.8 317.1L465.3 317.6L465.7 318.1L465.9 319.1L465.7 320.1L465.5 320.6L465.0 321.2L464.4 321.6L463.5 321.9L462.7 322.1L462.0 322.2L461.3 322.1L460.5 321.8L460.0 321.5L459.5 320.9L459.2 320.1L459.1 319.1L459.3 318.1L459.6 317.6L460.1 317.1L460.9 316.6ZM460.6 316.1L461.5 315.8L462.5 315.7L463.5 315.9L464.2 316.1L465.0 316.5L465.5 316.8L466.0 317.1L466.5 317.7L466.8 318.6L466.7 319.6L466.5 320.1L466.0 321.1L465.6 321.6L465.0 322.0L464.5 322.3L463.5 322.6L463.0 322.7L462.0 322.8L461.0 322.7L460.5 322.5L459.8 322.1L459.2 321.6L458.9 321.1L458.5 320.2L458.4 319.6L458.4 318.6L458.5 318.0L459.0 317.2L459.5 316.8L460.0 316.4L460.6 316.1ZM460.3 315.6L461.0 315.3L462.0 315.1L463.0 315.1L464.0 315.3L464.8 315.6L465.5 315.9L466.2 316.1L467.0 316.5L467.5 316.8L468.0 317.2L468.3 318.1L468.1 319.1L467.9 319.6L467.5 320.2L467.0 321.0L466.6 321.6L466.1 322.1L465.5 322.5L465.0 322.8L464.0 323.1L463.5 323.2L462.5 323.4L461.5 323.4L460.5 323.2L460.0 323.0L459.4 322.6L458.8 322.1L458.4 321.6L458.0 321.0L457.6 320.1L457.5 319.2L457.5 318.6L457.6 318.1L458.0 317.2L458.5 316.7L459.0 316.3L459.5 316.0L460.3 315.6ZM461.3 314.6L462.0 314.5L463.0 314.5L463.9 314.6L464.5 314.7L465.5 315.0L466.2 315.1L467.0 315.3L468.0 315.6L468.5 315.9L469.0 316.2L469.6 316.6L470.0 317.1L470.3 318.1L470.0 318.9L469.5 319.6L469.1 320.1L468.7 320.6L468.2 321.1L467.8 321.6L467.3 322.1L466.7 322.6L466.0 323.1L465.5 323.3L464.5 323.6L464.0 323.7L463.0 323.9L462.0 324.0L461.0 323.9L460.0 323.6L459.5 323.4L459.0 323.1L458.4 322.6L457.9 322.1L457.5 321.6L457.0 320.8L456.7 320.1L456.5 319.1L456.6 318.1L457.0 317.1L457.3 316.6L457.9 316.1L458.5 315.7L459.0 315.5L459.8 315.1L460.5 314.8L461.3 314.6ZM460.4 314.1L461.0 313.9L462.0 313.8L463.0 313.7L464.0 313.8L465.0 314.0L465.6 314.1L466.5 314.2L467.5 314.4L468.1 314.6L469.0 315.0L469.5 315.2L470.4 315.6L471.0 316.0L471.5 316.4L472.0 316.9L472.3 317.6L472.1 318.6L471.9 319.1L471.5 319.6L471.0 320.2L470.5 320.7L470.0 321.2L469.5 321.6L468.9 322.1L468.2 322.6L467.5 323.1L467.0 323.4L466.5 323.7L465.5 324.0L465.0 324.1L464.0 324.3L463.0 324.5L462.0 324.6L461.0 324.5L460.0 324.2L459.5 324.0L458.7 323.6L458.0 323.1L457.5 322.7L457.0 322.2L456.5 321.6L456.1 321.1L455.8 320.6L455.5 319.6L455.6 318.6L455.8 317.6L456.0 317.0L456.5 316.1L457.0 315.6L457.5 315.3L458.0 315.1L459.0 314.6L459.5 314.4L460.4 314.1ZM461.0 313.1L461.5 313.0L462.5 313.0L463.5 313.0L464.3 313.1L465.0 313.2L466.0 313.3L467.0 313.5L467.7 313.6L468.5 313.8L469.5 314.1L470.0 314.3L470.9 314.6L471.5 314.8L472.0 315.1L472.9 315.6L473.4 316.1L473.8 316.6L473.9 317.6L473.8 318.6L473.5 319.2L473.0 320.0L472.5 320.6L472.0 321.1L471.5 321.6L471.0 322.1L470.5 322.4L470.0 322.7L469.3 323.1L468.5 323.5L468.0 323.8L467.3 324.1L466.5 324.4L465.9 324.6L465.0 324.8L464.0 325.0L463.1 325.1L462.5 325.1L461.5 325.1L461.0 325.1L460.0 324.8L459.4 324.6L458.5 324.1L458.0 323.8L457.5 323.5L456.9 323.1L456.4 322.6L455.9 322.1L455.4 321.6L455.0 321.0L454.6 320.1L454.5 319.6L454.5 318.9L454.6 318.1L454.9 317.1L455.1 316.6L455.5 315.7L455.9 315.1L456.5 314.7L457.0 314.4L457.7 314.1L458.5 313.8L459.1 313.6L460.0 313.3L461.0 313.1ZM458.4 312.6L459.0 312.5L460.0 312.3L461.0 312.2L462.0 312.2L463.0 312.2L464.0 312.3L465.0 312.4L466.0 312.5L466.6 312.6L467.5 312.7L468.5 312.9L469.4 313.1L470.0 313.2L471.0 313.5L471.5 313.6L472.5 314.0L473.0 314.2L473.9 314.6L474.5 315.0L475.0 315.5L475.3 316.1L475.4 317.1L475.2 318.1L475.0 318.8L474.7 319.6L474.4 320.1L474.0 320.8L473.5 321.4L473.0 321.9L472.5 322.3L472.0 322.7L471.4 323.1L470.5 323.6L470.0 323.8L469.3 324.1L468.5 324.4L468.0 324.6L467.0 325.0L466.5 325.2L465.5 325.4L464.5 325.6L464.0 325.6L463.0 325.7L462.0 325.7L461.0 325.6L460.5 325.5L459.5 325.2L459.0 325.0L458.1 324.6L457.5 324.3L457.0 324.0L456.4 323.6L455.8 323.1L455.3 322.6L454.8 322.1L454.4 321.6L454.0 321.1L453.6 320.1L453.5 319.6L453.5 318.9L453.6 318.1L453.8 317.1L454.0 316.1L454.1 315.6L454.3 314.6L454.6 314.1L455.3 313.6L456.0 313.3L456.7 313.1L457.5 312.9L458.4 312.6ZM450.2 310.6L451.0 310.4L451.6 310.6L452.4 311.1L453.0 311.5L453.5 311.6L454.5 311.8L455.5 311.8L456.5 311.7L457.0 311.6L458.0 311.4L459.0 311.3L460.0 311.3L461.0 311.3L462.0 311.3L463.0 311.4L464.0 311.5L464.6 311.6L465.5 311.7L466.5 311.8L467.5 311.9L468.5 312.0L469.0 312.1L470.0 312.3L471.0 312.5L471.6 312.6L472.5 312.8L473.4 313.1L474.0 313.3L475.0 313.6L475.5 313.8L476.1 314.1L476.7 314.6L477.0 315.3L477.1 316.1L477.0 316.7L476.8 317.6L476.5 318.3L476.2 319.1L475.9 319.6L475.5 320.4L475.1 321.1L474.7 321.6L474.3 322.1L473.9 322.6L473.2 323.1L472.5 323.6L472.0 323.8L471.4 324.1L470.5 324.5L470.0 324.7L469.0 325.1L468.5 325.2L467.5 325.6L467.0 325.8L466.0 326.0L465.5 326.1L464.5 326.2L463.5 326.3L462.5 326.3L461.5 326.3L460.5 326.1L460.0 326.0L459.0 325.7L458.5 325.5L457.6 325.1L457.0 324.8L456.5 324.5L455.9 324.1L455.3 323.6L454.8 323.1L454.2 322.6L453.7 322.1L453.3 321.6L453.0 321.0L452.7 320.1L452.5 319.1L452.6 318.1L452.6 317.1L452.7 316.1L452.6 315.1L452.5 314.6L452.3 313.6L452.0 312.8L451.5 312.1L451.1 311.6L450.5 311.1L450.2 310.6ZM447.9 308.6L448.5 308.5L449.5 308.4L450.5 308.5L451.0 308.6L452.0 309.0L452.5 309.2L453.2 309.6L454.0 310.1L454.5 310.3L455.5 310.5L456.5 310.5L457.5 310.4L458.5 310.4L459.5 310.4L460.5 310.4L461.5 310.5L462.5 310.6L463.0 310.6L464.0 310.8L465.0 310.9L466.0 311.0L467.0 311.0L467.7 311.1L468.5 311.2L469.5 311.3L470.5 311.5L471.1 311.6L472.0 311.8L473.0 311.9L473.9 312.1L474.5 312.2L475.5 312.5L476.0 312.6L477.0 313.0L477.5 313.2L478.1 313.6L478.8 314.1L479.5 314.6L480.0 314.8L481.0 315.1L481.2 315.6L481.0 316.2L480.4 316.6L479.6 317.1L479.0 317.6L478.6 318.1L478.2 318.6L477.8 319.1L477.4 319.6L477.0 320.1L476.5 320.8L476.0 321.5L475.6 322.1L475.2 322.6L474.8 323.1L474.2 323.6L473.5 324.0L473.0 324.3L472.4 324.6L471.5 325.0L471.0 325.2L470.0 325.6L469.5 325.7L468.5 326.0L468.0 326.2L467.0 326.5L466.5 326.6L465.5 326.8L464.5 326.9L463.5 327.0L462.5 326.9L461.5 326.8L460.5 326.7L460.0 326.6L459.0 326.3L458.4 326.1L457.5 325.8L457.0 325.6L456.0 325.1L455.5 324.7L455.0 324.3L454.5 323.9L454.0 323.4L453.5 323.0L453.0 322.5L452.5 321.8L452.1 321.1L451.9 320.6L451.6 319.6L451.5 318.6L451.5 317.6L451.5 317.1L451.4 316.1L451.2 315.1L451.0 314.6L450.5 313.6L450.0 313.1L449.5 312.6L449.0 312.2L448.5 311.9L448.0 311.5L447.5 311.1L447.0 310.4L446.8 309.6L447.1 309.1L447.9 308.6ZM447.6 307.6L448.5 307.5L449.5 307.5L450.5 307.6L451.0 307.7L452.0 308.0L452.5 308.2L453.5 308.6L454.0 308.8L454.7 309.1L455.5 309.3L456.5 309.5L457.5 309.5L458.5 309.5L459.5 309.5L460.5 309.6L461.0 309.6L462.0 309.7L463.0 309.8L464.0 310.0L465.0 310.1L465.5 310.1L466.5 310.2L467.5 310.3L468.5 310.4L469.5 310.5L470.0 310.6L471.0 310.8L472.0 310.9L473.0 311.0L473.9 311.1L474.5 311.2L475.5 311.4L476.3 311.6L477.0 311.8L478.0 312.0L478.5 312.2L479.5 312.4L480.5 312.5L481.2 312.6L482.0 312.8L482.6 313.1L483.1 313.6L483.5 314.5L483.6 315.1L483.5 316.1L483.2 316.6L482.9 317.1L482.3 317.6L481.6 318.1L481.0 318.5L480.5 318.7L479.9 319.1L479.3 319.6L478.7 320.1L478.2 320.6L477.7 321.1L477.3 321.6L476.9 322.1L476.5 322.6L476.0 323.2L475.5 323.7L475.0 324.2L474.4 324.6L473.5 325.0L473.0 325.3L472.2 325.6L471.5 325.9L471.0 326.1L470.0 326.5L469.5 326.6L468.5 326.9L467.5 327.1L467.0 327.2L466.0 327.4L465.0 327.6L464.5 327.6L463.5 327.6L463.0 327.6L462.0 327.5L461.0 327.4L460.0 327.2L459.5 327.1L458.5 326.9L457.6 326.6L457.0 326.4L456.2 326.1L455.5 325.7L455.0 325.3L454.5 324.9L454.0 324.5L453.5 324.1L452.9 323.6L452.4 323.1L452.0 322.6L451.5 321.9L451.1 321.1L450.9 320.6L450.6 319.6L450.5 319.0L450.4 318.1L450.3 317.1L450.1 316.1L450.0 315.6L449.6 314.6L449.3 314.1L448.8 313.6L448.2 313.1L447.5 312.6L447.0 312.2L446.5 311.8L446.0 311.3L445.5 310.6L445.4 310.1L445.4 309.1L445.7 308.6L446.3 308.1L447.0 307.8L447.6 307.6ZM446.4 307.1L447.0 306.9L448.0 306.7L449.0 306.7L450.0 306.8L451.0 306.9L451.6 307.1L452.5 307.4L453.2 307.6L454.0 307.9L454.6 308.1L455.5 308.4L456.5 308.6L457.0 308.7L458.0 308.7L459.0 308.8L460.0 308.8L461.0 308.8L462.0 308.9L463.0 309.0L463.5 309.1L464.5 309.2L465.5 309.3L466.5 309.4L467.5 309.5L468.5 309.6L469.0 309.6L470.0 309.8L471.0 310.0L471.9 310.1L472.5 310.1L473.5 310.2L474.5 310.3L475.5 310.5L476.0 310.6L477.0 310.8L478.0 310.9L479.0 311.1L479.5 311.2L480.5 311.3L481.5 311.3L482.5 311.5L483.0 311.7L483.7 312.1L484.1 312.6L484.5 313.4L484.7 314.1L484.9 315.1L484.8 316.1L484.5 316.8L484.0 317.5L483.5 318.0L483.0 318.4L482.5 318.8L482.0 319.1L481.2 319.6L480.5 320.1L480.0 320.5L479.5 320.9L479.0 321.4L478.5 321.9L478.0 322.4L477.5 323.0L477.0 323.5L476.5 324.1L476.0 324.5L475.5 324.9L475.0 325.3L474.4 325.6L473.5 326.0L473.0 326.2L472.1 326.6L471.5 326.8L470.8 327.1L470.0 327.3L469.0 327.6L468.5 327.7L467.5 327.9L466.5 328.1L466.0 328.2L465.0 328.3L464.0 328.3L463.0 328.3L462.0 328.2L461.4 328.1L460.5 328.0L459.5 327.8L458.6 327.6L458.0 327.5L457.0 327.2L456.5 327.1L455.5 326.6L455.0 326.3L454.5 326.0L454.0 325.6L453.4 325.1L452.7 324.6L452.1 324.1L451.6 323.6L451.2 323.1L450.8 322.6L450.5 322.1L450.0 321.1L449.8 320.6L449.5 319.7L449.4 319.1L449.2 318.1L449.1 317.1L449.0 316.5L448.8 315.6L448.5 315.0L448.0 314.4L447.5 313.9L447.0 313.5L446.5 313.1L445.9 312.6L445.4 312.1L445.0 311.6L444.5 310.8L444.3 310.1L444.3 309.1L444.5 308.6L445.0 308.0L445.5 307.6L446.4 307.1ZM447.7 306.1L448.5 306.0L449.5 306.1L450.0 306.1L451.0 306.3L452.0 306.5L452.5 306.6L453.5 306.9L454.0 307.1L455.0 307.4L455.7 307.6L456.5 307.8L457.5 307.9L458.5 308.0L459.5 308.0L460.5 308.0L461.4 308.1L462.0 308.1L463.0 308.3L464.0 308.4L465.0 308.5L466.0 308.6L466.5 308.6L467.5 308.7L468.5 308.8L469.5 309.0L470.3 309.1L471.0 309.2L472.0 309.3L473.0 309.4L474.0 309.4L475.0 309.6L475.5 309.7L476.5 309.8L477.5 310.0L478.5 310.1L479.0 310.1L480.0 310.2L481.0 310.3L482.0 310.3L483.0 310.5L483.5 310.7L484.2 311.1L484.7 311.6L485.1 312.1L485.5 313.1L485.6 313.6L485.8 314.6L485.9 315.6L485.7 316.6L485.5 317.1L485.0 317.8L484.5 318.3L484.0 318.8L483.5 319.2L482.9 319.6L482.2 320.1L481.5 320.6L481.0 320.9L480.5 321.4L480.0 321.8L479.5 322.3L479.0 322.9L478.5 323.4L478.0 323.9L477.5 324.4L477.0 324.9L476.5 325.3L476.0 325.7L475.3 326.1L474.5 326.5L474.0 326.7L473.2 327.1L472.5 327.4L471.9 327.6L471.0 327.9L470.2 328.1L469.5 328.3L468.5 328.5L467.8 328.6L467.0 328.8L466.0 328.9L465.0 329.0L464.0 329.0L463.0 329.0L462.0 328.9L461.0 328.8L460.0 328.6L459.5 328.5L458.5 328.3L457.5 328.1L457.0 328.0L456.0 327.7L455.5 327.5L454.7 327.1L454.0 326.6L453.5 326.3L453.0 325.9L452.5 325.6L451.8 325.1L451.2 324.6L450.7 324.1L450.3 323.6L449.9 323.1L449.5 322.5L449.0 321.6L448.8 321.1L448.5 320.2L448.3 319.6L448.1 318.6L448.0 317.8L447.9 317.1L447.7 316.1L447.5 315.6L447.0 314.8L446.5 314.3L446.0 313.9L445.5 313.4L445.0 312.9L444.5 312.4L444.0 311.7L443.7 311.1L443.5 310.6L443.4 309.6L443.5 308.7L443.8 308.1L444.2 307.6L444.8 307.1L445.5 306.7L446.0 306.5L447.0 306.2L447.7 306.1ZM446.8 305.6L447.5 305.5L448.5 305.4L449.5 305.4L450.5 305.5L451.0 305.6L452.0 305.8L452.9 306.1L453.5 306.3L454.5 306.5L455.0 306.7L456.0 306.9L456.8 307.1L457.5 307.2L458.5 307.3L459.5 307.3L460.5 307.3L461.5 307.4L462.5 307.5L463.5 307.6L464.0 307.6L465.0 307.7L466.0 307.8L467.0 307.9L468.0 308.0L468.9 308.1L469.5 308.2L470.5 308.3L471.5 308.5L472.5 308.5L473.4 308.6L474.0 308.6L475.0 308.8L476.0 309.0L476.9 309.1L477.5 309.2L478.5 309.3L479.5 309.3L480.5 309.4L481.5 309.4L482.5 309.5L483.0 309.6L484.0 309.9L484.5 310.2L485.0 310.6L485.5 311.1L486.0 312.0L486.3 312.6L486.5 313.4L486.7 314.1L486.8 315.1L486.7 316.1L486.5 316.9L486.2 317.6L485.9 318.1L485.5 318.6L485.0 319.1L484.4 319.6L483.7 320.1L483.0 320.6L482.5 321.0L482.0 321.4L481.5 321.8L481.0 322.2L480.5 322.7L480.0 323.2L479.5 323.7L479.0 324.2L478.5 324.7L478.0 325.2L477.5 325.6L476.9 326.1L476.1 326.6L475.5 327.0L475.0 327.2L474.1 327.6L473.5 327.9L472.9 328.1L472.0 328.4L471.5 328.6L470.5 328.9L469.5 329.1L469.0 329.2L468.0 329.4L467.0 329.5L466.3 329.6L465.5 329.7L464.5 329.7L463.5 329.7L462.5 329.7L461.6 329.6L461.0 329.5L460.0 329.4L459.0 329.2L458.5 329.1L457.5 328.9L456.5 328.7L456.0 328.5L455.0 328.2L454.5 327.9L453.9 327.6L453.1 327.1L452.5 326.7L452.0 326.4L451.5 326.1L450.9 325.6L450.3 325.1L449.8 324.6L449.3 324.1L448.9 323.6L448.5 322.9L448.1 322.1L447.9 321.6L447.6 320.6L447.4 320.1L447.1 319.1L447.0 318.6L446.8 317.6L446.6 316.6L446.5 316.1L446.0 315.2L445.5 314.6L445.0 314.1L444.5 313.6L444.1 313.1L443.7 312.6L443.3 312.1L443.0 311.4L442.7 310.6L442.5 309.6L442.7 308.6L443.0 307.9L443.5 307.3L444.0 306.8L444.5 306.5L445.2 306.1L446.0 305.8L446.8 305.6ZM446.3 305.1L447.0 305.0L448.0 304.9L449.0 304.9L450.0 304.9L451.0 305.1L451.5 305.1L452.5 305.4L453.4 305.6L454.0 305.8L455.0 306.0L455.5 306.1L456.5 306.3L457.5 306.5L458.5 306.6L459.0 306.6L460.0 306.6L461.0 306.7L462.0 306.7L463.0 306.8L464.0 306.9L465.0 307.0L466.0 307.1L466.6 307.1L467.5 307.2L468.5 307.3L469.5 307.4L470.5 307.5L471.0 307.6L472.0 307.7L473.0 307.8L474.0 307.9L475.0 308.0L475.5 308.1L476.5 308.3L477.5 308.4L478.5 308.5L479.5 308.6L480.5 308.6L481.3 308.6L482.0 308.6L483.0 308.8L484.0 309.1L484.5 309.3L485.0 309.6L485.6 310.1L486.1 310.6L486.5 311.2L486.9 312.1L487.1 312.6L487.4 313.6L487.5 314.4L487.5 315.1L487.5 315.7L487.4 316.6L487.0 317.6L486.8 318.1L486.5 318.6L486.0 319.2L485.5 319.8L485.0 320.2L484.5 320.6L483.9 321.1L483.2 321.6L482.6 322.1L482.0 322.6L481.5 323.1L481.0 323.5L480.5 324.0L480.0 324.6L479.5 325.1L479.0 325.6L478.5 326.0L478.0 326.4L477.5 326.7L476.9 327.1L476.0 327.6L475.5 327.9L475.0 328.1L474.0 328.5L473.5 328.8L472.5 329.1L472.0 329.3L471.0 329.5L470.5 329.6L469.5 329.9L468.5 330.1L468.0 330.2L467.0 330.3L466.0 330.4L465.0 330.4L464.0 330.5L463.0 330.5L462.0 330.4L461.0 330.3L460.0 330.1L459.5 330.1L458.5 329.9L457.5 329.7L456.9 329.6L456.0 329.4L455.2 329.1L454.5 328.8L454.0 328.6L453.1 328.1L452.5 327.8L452.0 327.5L451.4 327.1L450.6 326.6L450.0 326.2L449.5 325.7L449.0 325.2L448.5 324.7L448.1 324.1L447.7 323.6L447.4 323.1L447.0 322.1L446.8 321.6L446.5 320.7L446.3 320.1L446.0 319.1L445.9 318.6L445.7 317.6L445.5 316.8L445.2 316.1L445.0 315.6L444.5 314.9L444.0 314.3L443.5 313.7L443.1 313.1L442.8 312.6L442.5 312.1L442.1 311.1L441.9 310.6L441.8 309.6L441.9 308.6L442.1 308.1L442.5 307.4L443.0 306.8L443.5 306.4L444.0 306.0L444.8 305.6L445.5 305.3L446.3 305.1ZM455.8 348.1L456.5 347.8L457.5 347.6L458.5 347.8L459.3 348.1L460.0 348.5L460.5 349.0L460.9 349.6L461.1 350.1L461.2 351.1L461.0 352.1L460.7 352.6L460.2 353.1L459.5 353.5L459.0 353.7L458.0 353.8L457.0 353.7L456.5 353.6L455.5 353.2L455.0 352.8L454.5 352.1L454.4 351.6L454.4 350.6L454.5 350.0L454.9 349.1L455.2 348.6L455.8 348.1ZM446.0 304.6L446.5 304.5L447.5 304.3L448.5 304.3L449.5 304.4L450.5 304.4L451.5 304.6L452.0 304.7L453.0 304.9L453.8 305.1L454.5 305.3L455.5 305.5L456.1 305.6L457.0 305.8L458.0 305.9L459.0 305.9L460.0 305.9L461.0 306.0L462.0 306.0L463.0 306.1L463.5 306.1L464.5 306.2L465.5 306.2L466.5 306.3L467.5 306.4L468.5 306.5L469.4 306.6L470.0 306.7L471.0 306.8L472.0 306.9L473.0 307.0L474.0 307.1L474.5 307.2L475.5 307.3L476.5 307.5L477.1 307.6L478.0 307.7L479.0 307.8L480.0 307.8L481.0 307.8L482.0 307.9L483.0 308.1L483.5 308.2L484.5 308.5L485.0 308.8L485.5 309.1L486.1 309.6L486.6 310.1L487.0 310.7L487.5 311.6L487.7 312.1L488.0 313.1L488.1 313.6L488.2 314.6L488.2 315.6L488.1 316.6L487.9 317.1L487.6 318.1L487.3 318.6L487.0 319.1L486.5 319.8L486.0 320.4L485.5 320.9L485.0 321.4L484.5 321.8L484.0 322.2L483.5 322.6L482.9 323.1L482.3 323.6L481.8 324.1L481.3 324.6L480.8 325.1L480.3 325.6L479.8 326.1L479.2 326.6L478.5 327.1L478.0 327.5L477.5 327.8L476.9 328.1L476.0 328.5L475.5 328.8L474.7 329.1L474.0 329.4L473.5 329.6L472.5 330.0L471.9 330.1L471.0 330.3L470.0 330.6L469.5 330.7L468.5 330.9L467.5 331.1L467.0 331.1L466.0 331.2L465.0 331.2L464.0 331.2L463.0 331.2L462.0 331.2L461.1 331.1L460.5 331.0L459.5 330.8L458.5 330.7L458.0 330.6L457.0 330.4L456.0 330.2L455.5 330.0L454.5 329.7L454.0 329.5L453.2 329.1L452.5 328.8L452.0 328.5L451.3 328.1L450.5 327.6L450.0 327.3L449.5 327.0L449.0 326.5L448.5 326.1L448.0 325.6L447.5 325.0L447.0 324.4L446.5 323.6L446.2 323.1L446.0 322.6L445.5 321.6L445.4 321.1L445.0 320.1L444.9 319.6L444.7 318.6L444.5 317.9L444.3 317.1L444.0 316.3L443.7 315.6L443.4 315.1L443.0 314.5L442.5 313.7L442.1 313.1L441.9 312.6L441.5 311.8L441.3 311.1L441.0 310.1L441.0 309.1L441.3 308.1L441.6 307.6L442.0 306.9L442.5 306.4L443.0 306.0L443.6 305.6L444.5 305.1L445.0 304.9L446.0 304.6ZM455.6 346.1L456.5 345.8L457.5 345.8L458.5 346.0L459.0 346.1L460.0 346.4L460.5 346.7L461.2 347.1L461.8 347.6L462.3 348.1L462.6 348.6L463.0 349.4L463.2 350.1L463.4 351.1L463.2 352.1L463.0 352.7L462.5 353.6L462.0 354.1L461.5 354.6L461.0 354.9L460.5 355.1L459.5 355.5L458.8 355.6L458.0 355.7L457.1 355.6L456.5 355.5L455.5 355.2L455.0 355.0L454.2 354.6L453.5 354.1L453.1 353.6L452.8 353.1L452.5 352.1L452.4 351.6L452.4 350.6L452.5 349.6L452.6 349.1L453.0 348.1L453.3 347.6L453.9 347.1L454.5 346.7L455.0 346.4L455.6 346.1Z" stroke="#000" stroke-width="0.8" fill="none" stroke-linejoin="round"/>
</svg>
</body></html>
